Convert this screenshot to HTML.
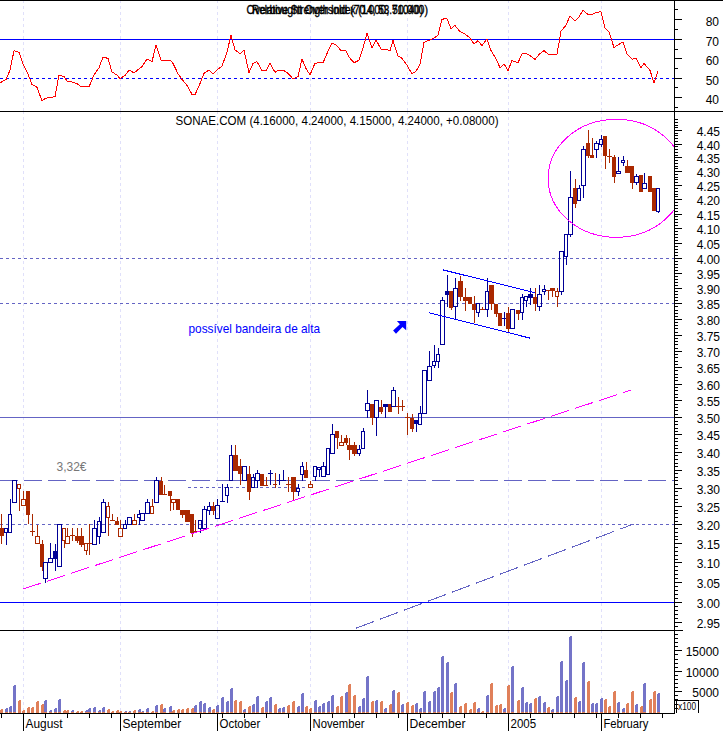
<!DOCTYPE html>
<html><head><meta charset="utf-8"><style>html,body{margin:0;padding:0;background:#fff;}svg{display:block;}</style></head><body>
<svg width="723" height="731" viewBox="0 0 723 731" shape-rendering="crispEdges">
<rect x="0" y="0" width="723" height="731" fill="#fff"/>
<rect x="23" y="1" width="1" height="2" fill="#e0e0fa"/>
<rect x="23" y="6" width="1" height="3" fill="#e0e0fa"/>
<rect x="23" y="12" width="1" height="3" fill="#e0e0fa"/>
<rect x="23" y="18" width="1" height="3" fill="#e0e0fa"/>
<rect x="23" y="24" width="1" height="3" fill="#e0e0fa"/>
<rect x="23" y="30" width="1" height="3" fill="#e0e0fa"/>
<rect x="23" y="36" width="1" height="3" fill="#e0e0fa"/>
<rect x="23" y="42" width="1" height="3" fill="#e0e0fa"/>
<rect x="23" y="48" width="1" height="3" fill="#e0e0fa"/>
<rect x="23" y="54" width="1" height="3" fill="#e0e0fa"/>
<rect x="23" y="60" width="1" height="3" fill="#e0e0fa"/>
<rect x="23" y="66" width="1" height="3" fill="#e0e0fa"/>
<rect x="23" y="72" width="1" height="3" fill="#e0e0fa"/>
<rect x="23" y="78" width="1" height="3" fill="#e0e0fa"/>
<rect x="23" y="84" width="1" height="3" fill="#e0e0fa"/>
<rect x="23" y="90" width="1" height="3" fill="#e0e0fa"/>
<rect x="23" y="96" width="1" height="3" fill="#e0e0fa"/>
<rect x="23" y="102" width="1" height="3" fill="#e0e0fa"/>
<rect x="23" y="108" width="1" height="3" fill="#e0e0fa"/>
<rect x="23" y="112" width="1" height="2" fill="#e0e0fa"/>
<rect x="23" y="117" width="1" height="3" fill="#e0e0fa"/>
<rect x="23" y="123" width="1" height="3" fill="#e0e0fa"/>
<rect x="23" y="129" width="1" height="3" fill="#e0e0fa"/>
<rect x="23" y="135" width="1" height="3" fill="#e0e0fa"/>
<rect x="23" y="141" width="1" height="3" fill="#e0e0fa"/>
<rect x="23" y="147" width="1" height="3" fill="#e0e0fa"/>
<rect x="23" y="153" width="1" height="3" fill="#e0e0fa"/>
<rect x="23" y="159" width="1" height="3" fill="#e0e0fa"/>
<rect x="23" y="165" width="1" height="3" fill="#e0e0fa"/>
<rect x="23" y="171" width="1" height="3" fill="#e0e0fa"/>
<rect x="23" y="177" width="1" height="3" fill="#e0e0fa"/>
<rect x="23" y="183" width="1" height="3" fill="#e0e0fa"/>
<rect x="23" y="189" width="1" height="3" fill="#e0e0fa"/>
<rect x="23" y="195" width="1" height="3" fill="#e0e0fa"/>
<rect x="23" y="201" width="1" height="3" fill="#e0e0fa"/>
<rect x="23" y="207" width="1" height="3" fill="#e0e0fa"/>
<rect x="23" y="213" width="1" height="3" fill="#e0e0fa"/>
<rect x="23" y="219" width="1" height="3" fill="#e0e0fa"/>
<rect x="23" y="225" width="1" height="3" fill="#e0e0fa"/>
<rect x="23" y="231" width="1" height="3" fill="#e0e0fa"/>
<rect x="23" y="237" width="1" height="3" fill="#e0e0fa"/>
<rect x="23" y="243" width="1" height="3" fill="#e0e0fa"/>
<rect x="23" y="249" width="1" height="3" fill="#e0e0fa"/>
<rect x="23" y="255" width="1" height="3" fill="#e0e0fa"/>
<rect x="23" y="261" width="1" height="3" fill="#e0e0fa"/>
<rect x="23" y="267" width="1" height="3" fill="#e0e0fa"/>
<rect x="23" y="273" width="1" height="3" fill="#e0e0fa"/>
<rect x="23" y="279" width="1" height="3" fill="#e0e0fa"/>
<rect x="23" y="285" width="1" height="3" fill="#e0e0fa"/>
<rect x="23" y="291" width="1" height="3" fill="#e0e0fa"/>
<rect x="23" y="297" width="1" height="3" fill="#e0e0fa"/>
<rect x="23" y="303" width="1" height="3" fill="#e0e0fa"/>
<rect x="23" y="309" width="1" height="3" fill="#e0e0fa"/>
<rect x="23" y="315" width="1" height="3" fill="#e0e0fa"/>
<rect x="23" y="321" width="1" height="3" fill="#e0e0fa"/>
<rect x="23" y="327" width="1" height="3" fill="#e0e0fa"/>
<rect x="23" y="333" width="1" height="3" fill="#e0e0fa"/>
<rect x="23" y="339" width="1" height="3" fill="#e0e0fa"/>
<rect x="23" y="345" width="1" height="3" fill="#e0e0fa"/>
<rect x="23" y="351" width="1" height="3" fill="#e0e0fa"/>
<rect x="23" y="357" width="1" height="3" fill="#e0e0fa"/>
<rect x="23" y="363" width="1" height="3" fill="#e0e0fa"/>
<rect x="23" y="369" width="1" height="3" fill="#e0e0fa"/>
<rect x="23" y="375" width="1" height="3" fill="#e0e0fa"/>
<rect x="23" y="381" width="1" height="3" fill="#e0e0fa"/>
<rect x="23" y="387" width="1" height="3" fill="#e0e0fa"/>
<rect x="23" y="393" width="1" height="3" fill="#e0e0fa"/>
<rect x="23" y="399" width="1" height="3" fill="#e0e0fa"/>
<rect x="23" y="405" width="1" height="3" fill="#e0e0fa"/>
<rect x="23" y="411" width="1" height="3" fill="#e0e0fa"/>
<rect x="23" y="417" width="1" height="3" fill="#e0e0fa"/>
<rect x="23" y="423" width="1" height="3" fill="#e0e0fa"/>
<rect x="23" y="429" width="1" height="3" fill="#e0e0fa"/>
<rect x="23" y="435" width="1" height="3" fill="#e0e0fa"/>
<rect x="23" y="441" width="1" height="3" fill="#e0e0fa"/>
<rect x="23" y="447" width="1" height="3" fill="#e0e0fa"/>
<rect x="23" y="453" width="1" height="3" fill="#e0e0fa"/>
<rect x="23" y="459" width="1" height="3" fill="#e0e0fa"/>
<rect x="23" y="465" width="1" height="3" fill="#e0e0fa"/>
<rect x="23" y="471" width="1" height="3" fill="#e0e0fa"/>
<rect x="23" y="477" width="1" height="3" fill="#e0e0fa"/>
<rect x="23" y="483" width="1" height="3" fill="#e0e0fa"/>
<rect x="23" y="489" width="1" height="3" fill="#e0e0fa"/>
<rect x="23" y="495" width="1" height="3" fill="#e0e0fa"/>
<rect x="23" y="501" width="1" height="3" fill="#e0e0fa"/>
<rect x="23" y="507" width="1" height="3" fill="#e0e0fa"/>
<rect x="23" y="513" width="1" height="3" fill="#e0e0fa"/>
<rect x="23" y="519" width="1" height="3" fill="#e0e0fa"/>
<rect x="23" y="525" width="1" height="3" fill="#e0e0fa"/>
<rect x="23" y="531" width="1" height="3" fill="#e0e0fa"/>
<rect x="23" y="537" width="1" height="3" fill="#e0e0fa"/>
<rect x="23" y="543" width="1" height="3" fill="#e0e0fa"/>
<rect x="23" y="549" width="1" height="3" fill="#e0e0fa"/>
<rect x="23" y="555" width="1" height="3" fill="#e0e0fa"/>
<rect x="23" y="561" width="1" height="3" fill="#e0e0fa"/>
<rect x="23" y="567" width="1" height="3" fill="#e0e0fa"/>
<rect x="23" y="573" width="1" height="3" fill="#e0e0fa"/>
<rect x="23" y="579" width="1" height="3" fill="#e0e0fa"/>
<rect x="23" y="585" width="1" height="3" fill="#e0e0fa"/>
<rect x="23" y="591" width="1" height="3" fill="#e0e0fa"/>
<rect x="23" y="597" width="1" height="3" fill="#e0e0fa"/>
<rect x="23" y="603" width="1" height="3" fill="#e0e0fa"/>
<rect x="23" y="609" width="1" height="3" fill="#e0e0fa"/>
<rect x="23" y="615" width="1" height="3" fill="#e0e0fa"/>
<rect x="23" y="621" width="1" height="3" fill="#e0e0fa"/>
<rect x="23" y="627" width="1" height="3" fill="#e0e0fa"/>
<rect x="23" y="631" width="1" height="2" fill="#e0e0fa"/>
<rect x="23" y="636" width="1" height="3" fill="#e0e0fa"/>
<rect x="23" y="642" width="1" height="3" fill="#e0e0fa"/>
<rect x="23" y="648" width="1" height="3" fill="#e0e0fa"/>
<rect x="23" y="654" width="1" height="3" fill="#e0e0fa"/>
<rect x="23" y="660" width="1" height="3" fill="#e0e0fa"/>
<rect x="23" y="666" width="1" height="3" fill="#e0e0fa"/>
<rect x="23" y="672" width="1" height="3" fill="#e0e0fa"/>
<rect x="23" y="678" width="1" height="3" fill="#e0e0fa"/>
<rect x="23" y="684" width="1" height="3" fill="#e0e0fa"/>
<rect x="23" y="690" width="1" height="3" fill="#e0e0fa"/>
<rect x="23" y="696" width="1" height="3" fill="#e0e0fa"/>
<rect x="23" y="702" width="1" height="3" fill="#e0e0fa"/>
<rect x="23" y="708" width="1" height="3" fill="#e0e0fa"/>
<rect x="120" y="1" width="1" height="2" fill="#e0e0fa"/>
<rect x="120" y="6" width="1" height="3" fill="#e0e0fa"/>
<rect x="120" y="12" width="1" height="3" fill="#e0e0fa"/>
<rect x="120" y="18" width="1" height="3" fill="#e0e0fa"/>
<rect x="120" y="24" width="1" height="3" fill="#e0e0fa"/>
<rect x="120" y="30" width="1" height="3" fill="#e0e0fa"/>
<rect x="120" y="36" width="1" height="3" fill="#e0e0fa"/>
<rect x="120" y="42" width="1" height="3" fill="#e0e0fa"/>
<rect x="120" y="48" width="1" height="3" fill="#e0e0fa"/>
<rect x="120" y="54" width="1" height="3" fill="#e0e0fa"/>
<rect x="120" y="60" width="1" height="3" fill="#e0e0fa"/>
<rect x="120" y="66" width="1" height="3" fill="#e0e0fa"/>
<rect x="120" y="72" width="1" height="3" fill="#e0e0fa"/>
<rect x="120" y="78" width="1" height="3" fill="#e0e0fa"/>
<rect x="120" y="84" width="1" height="3" fill="#e0e0fa"/>
<rect x="120" y="90" width="1" height="3" fill="#e0e0fa"/>
<rect x="120" y="96" width="1" height="3" fill="#e0e0fa"/>
<rect x="120" y="102" width="1" height="3" fill="#e0e0fa"/>
<rect x="120" y="108" width="1" height="3" fill="#e0e0fa"/>
<rect x="120" y="112" width="1" height="2" fill="#e0e0fa"/>
<rect x="120" y="117" width="1" height="3" fill="#e0e0fa"/>
<rect x="120" y="123" width="1" height="3" fill="#e0e0fa"/>
<rect x="120" y="129" width="1" height="3" fill="#e0e0fa"/>
<rect x="120" y="135" width="1" height="3" fill="#e0e0fa"/>
<rect x="120" y="141" width="1" height="3" fill="#e0e0fa"/>
<rect x="120" y="147" width="1" height="3" fill="#e0e0fa"/>
<rect x="120" y="153" width="1" height="3" fill="#e0e0fa"/>
<rect x="120" y="159" width="1" height="3" fill="#e0e0fa"/>
<rect x="120" y="165" width="1" height="3" fill="#e0e0fa"/>
<rect x="120" y="171" width="1" height="3" fill="#e0e0fa"/>
<rect x="120" y="177" width="1" height="3" fill="#e0e0fa"/>
<rect x="120" y="183" width="1" height="3" fill="#e0e0fa"/>
<rect x="120" y="189" width="1" height="3" fill="#e0e0fa"/>
<rect x="120" y="195" width="1" height="3" fill="#e0e0fa"/>
<rect x="120" y="201" width="1" height="3" fill="#e0e0fa"/>
<rect x="120" y="207" width="1" height="3" fill="#e0e0fa"/>
<rect x="120" y="213" width="1" height="3" fill="#e0e0fa"/>
<rect x="120" y="219" width="1" height="3" fill="#e0e0fa"/>
<rect x="120" y="225" width="1" height="3" fill="#e0e0fa"/>
<rect x="120" y="231" width="1" height="3" fill="#e0e0fa"/>
<rect x="120" y="237" width="1" height="3" fill="#e0e0fa"/>
<rect x="120" y="243" width="1" height="3" fill="#e0e0fa"/>
<rect x="120" y="249" width="1" height="3" fill="#e0e0fa"/>
<rect x="120" y="255" width="1" height="3" fill="#e0e0fa"/>
<rect x="120" y="261" width="1" height="3" fill="#e0e0fa"/>
<rect x="120" y="267" width="1" height="3" fill="#e0e0fa"/>
<rect x="120" y="273" width="1" height="3" fill="#e0e0fa"/>
<rect x="120" y="279" width="1" height="3" fill="#e0e0fa"/>
<rect x="120" y="285" width="1" height="3" fill="#e0e0fa"/>
<rect x="120" y="291" width="1" height="3" fill="#e0e0fa"/>
<rect x="120" y="297" width="1" height="3" fill="#e0e0fa"/>
<rect x="120" y="303" width="1" height="3" fill="#e0e0fa"/>
<rect x="120" y="309" width="1" height="3" fill="#e0e0fa"/>
<rect x="120" y="315" width="1" height="3" fill="#e0e0fa"/>
<rect x="120" y="321" width="1" height="3" fill="#e0e0fa"/>
<rect x="120" y="327" width="1" height="3" fill="#e0e0fa"/>
<rect x="120" y="333" width="1" height="3" fill="#e0e0fa"/>
<rect x="120" y="339" width="1" height="3" fill="#e0e0fa"/>
<rect x="120" y="345" width="1" height="3" fill="#e0e0fa"/>
<rect x="120" y="351" width="1" height="3" fill="#e0e0fa"/>
<rect x="120" y="357" width="1" height="3" fill="#e0e0fa"/>
<rect x="120" y="363" width="1" height="3" fill="#e0e0fa"/>
<rect x="120" y="369" width="1" height="3" fill="#e0e0fa"/>
<rect x="120" y="375" width="1" height="3" fill="#e0e0fa"/>
<rect x="120" y="381" width="1" height="3" fill="#e0e0fa"/>
<rect x="120" y="387" width="1" height="3" fill="#e0e0fa"/>
<rect x="120" y="393" width="1" height="3" fill="#e0e0fa"/>
<rect x="120" y="399" width="1" height="3" fill="#e0e0fa"/>
<rect x="120" y="405" width="1" height="3" fill="#e0e0fa"/>
<rect x="120" y="411" width="1" height="3" fill="#e0e0fa"/>
<rect x="120" y="417" width="1" height="3" fill="#e0e0fa"/>
<rect x="120" y="423" width="1" height="3" fill="#e0e0fa"/>
<rect x="120" y="429" width="1" height="3" fill="#e0e0fa"/>
<rect x="120" y="435" width="1" height="3" fill="#e0e0fa"/>
<rect x="120" y="441" width="1" height="3" fill="#e0e0fa"/>
<rect x="120" y="447" width="1" height="3" fill="#e0e0fa"/>
<rect x="120" y="453" width="1" height="3" fill="#e0e0fa"/>
<rect x="120" y="459" width="1" height="3" fill="#e0e0fa"/>
<rect x="120" y="465" width="1" height="3" fill="#e0e0fa"/>
<rect x="120" y="471" width="1" height="3" fill="#e0e0fa"/>
<rect x="120" y="477" width="1" height="3" fill="#e0e0fa"/>
<rect x="120" y="483" width="1" height="3" fill="#e0e0fa"/>
<rect x="120" y="489" width="1" height="3" fill="#e0e0fa"/>
<rect x="120" y="495" width="1" height="3" fill="#e0e0fa"/>
<rect x="120" y="501" width="1" height="3" fill="#e0e0fa"/>
<rect x="120" y="507" width="1" height="3" fill="#e0e0fa"/>
<rect x="120" y="513" width="1" height="3" fill="#e0e0fa"/>
<rect x="120" y="519" width="1" height="3" fill="#e0e0fa"/>
<rect x="120" y="525" width="1" height="3" fill="#e0e0fa"/>
<rect x="120" y="531" width="1" height="3" fill="#e0e0fa"/>
<rect x="120" y="537" width="1" height="3" fill="#e0e0fa"/>
<rect x="120" y="543" width="1" height="3" fill="#e0e0fa"/>
<rect x="120" y="549" width="1" height="3" fill="#e0e0fa"/>
<rect x="120" y="555" width="1" height="3" fill="#e0e0fa"/>
<rect x="120" y="561" width="1" height="3" fill="#e0e0fa"/>
<rect x="120" y="567" width="1" height="3" fill="#e0e0fa"/>
<rect x="120" y="573" width="1" height="3" fill="#e0e0fa"/>
<rect x="120" y="579" width="1" height="3" fill="#e0e0fa"/>
<rect x="120" y="585" width="1" height="3" fill="#e0e0fa"/>
<rect x="120" y="591" width="1" height="3" fill="#e0e0fa"/>
<rect x="120" y="597" width="1" height="3" fill="#e0e0fa"/>
<rect x="120" y="603" width="1" height="3" fill="#e0e0fa"/>
<rect x="120" y="609" width="1" height="3" fill="#e0e0fa"/>
<rect x="120" y="615" width="1" height="3" fill="#e0e0fa"/>
<rect x="120" y="621" width="1" height="3" fill="#e0e0fa"/>
<rect x="120" y="627" width="1" height="3" fill="#e0e0fa"/>
<rect x="120" y="631" width="1" height="2" fill="#e0e0fa"/>
<rect x="120" y="636" width="1" height="3" fill="#e0e0fa"/>
<rect x="120" y="642" width="1" height="3" fill="#e0e0fa"/>
<rect x="120" y="648" width="1" height="3" fill="#e0e0fa"/>
<rect x="120" y="654" width="1" height="3" fill="#e0e0fa"/>
<rect x="120" y="660" width="1" height="3" fill="#e0e0fa"/>
<rect x="120" y="666" width="1" height="3" fill="#e0e0fa"/>
<rect x="120" y="672" width="1" height="3" fill="#e0e0fa"/>
<rect x="120" y="678" width="1" height="3" fill="#e0e0fa"/>
<rect x="120" y="684" width="1" height="3" fill="#e0e0fa"/>
<rect x="120" y="690" width="1" height="3" fill="#e0e0fa"/>
<rect x="120" y="696" width="1" height="3" fill="#e0e0fa"/>
<rect x="120" y="702" width="1" height="3" fill="#e0e0fa"/>
<rect x="120" y="708" width="1" height="3" fill="#e0e0fa"/>
<rect x="217" y="1" width="1" height="2" fill="#e0e0fa"/>
<rect x="217" y="6" width="1" height="3" fill="#e0e0fa"/>
<rect x="217" y="12" width="1" height="3" fill="#e0e0fa"/>
<rect x="217" y="18" width="1" height="3" fill="#e0e0fa"/>
<rect x="217" y="24" width="1" height="3" fill="#e0e0fa"/>
<rect x="217" y="30" width="1" height="3" fill="#e0e0fa"/>
<rect x="217" y="36" width="1" height="3" fill="#e0e0fa"/>
<rect x="217" y="42" width="1" height="3" fill="#e0e0fa"/>
<rect x="217" y="48" width="1" height="3" fill="#e0e0fa"/>
<rect x="217" y="54" width="1" height="3" fill="#e0e0fa"/>
<rect x="217" y="60" width="1" height="3" fill="#e0e0fa"/>
<rect x="217" y="66" width="1" height="3" fill="#e0e0fa"/>
<rect x="217" y="72" width="1" height="3" fill="#e0e0fa"/>
<rect x="217" y="78" width="1" height="3" fill="#e0e0fa"/>
<rect x="217" y="84" width="1" height="3" fill="#e0e0fa"/>
<rect x="217" y="90" width="1" height="3" fill="#e0e0fa"/>
<rect x="217" y="96" width="1" height="3" fill="#e0e0fa"/>
<rect x="217" y="102" width="1" height="3" fill="#e0e0fa"/>
<rect x="217" y="108" width="1" height="3" fill="#e0e0fa"/>
<rect x="217" y="112" width="1" height="2" fill="#e0e0fa"/>
<rect x="217" y="117" width="1" height="3" fill="#e0e0fa"/>
<rect x="217" y="123" width="1" height="3" fill="#e0e0fa"/>
<rect x="217" y="129" width="1" height="3" fill="#e0e0fa"/>
<rect x="217" y="135" width="1" height="3" fill="#e0e0fa"/>
<rect x="217" y="141" width="1" height="3" fill="#e0e0fa"/>
<rect x="217" y="147" width="1" height="3" fill="#e0e0fa"/>
<rect x="217" y="153" width="1" height="3" fill="#e0e0fa"/>
<rect x="217" y="159" width="1" height="3" fill="#e0e0fa"/>
<rect x="217" y="165" width="1" height="3" fill="#e0e0fa"/>
<rect x="217" y="171" width="1" height="3" fill="#e0e0fa"/>
<rect x="217" y="177" width="1" height="3" fill="#e0e0fa"/>
<rect x="217" y="183" width="1" height="3" fill="#e0e0fa"/>
<rect x="217" y="189" width="1" height="3" fill="#e0e0fa"/>
<rect x="217" y="195" width="1" height="3" fill="#e0e0fa"/>
<rect x="217" y="201" width="1" height="3" fill="#e0e0fa"/>
<rect x="217" y="207" width="1" height="3" fill="#e0e0fa"/>
<rect x="217" y="213" width="1" height="3" fill="#e0e0fa"/>
<rect x="217" y="219" width="1" height="3" fill="#e0e0fa"/>
<rect x="217" y="225" width="1" height="3" fill="#e0e0fa"/>
<rect x="217" y="231" width="1" height="3" fill="#e0e0fa"/>
<rect x="217" y="237" width="1" height="3" fill="#e0e0fa"/>
<rect x="217" y="243" width="1" height="3" fill="#e0e0fa"/>
<rect x="217" y="249" width="1" height="3" fill="#e0e0fa"/>
<rect x="217" y="255" width="1" height="3" fill="#e0e0fa"/>
<rect x="217" y="261" width="1" height="3" fill="#e0e0fa"/>
<rect x="217" y="267" width="1" height="3" fill="#e0e0fa"/>
<rect x="217" y="273" width="1" height="3" fill="#e0e0fa"/>
<rect x="217" y="279" width="1" height="3" fill="#e0e0fa"/>
<rect x="217" y="285" width="1" height="3" fill="#e0e0fa"/>
<rect x="217" y="291" width="1" height="3" fill="#e0e0fa"/>
<rect x="217" y="297" width="1" height="3" fill="#e0e0fa"/>
<rect x="217" y="303" width="1" height="3" fill="#e0e0fa"/>
<rect x="217" y="309" width="1" height="3" fill="#e0e0fa"/>
<rect x="217" y="315" width="1" height="3" fill="#e0e0fa"/>
<rect x="217" y="321" width="1" height="3" fill="#e0e0fa"/>
<rect x="217" y="327" width="1" height="3" fill="#e0e0fa"/>
<rect x="217" y="333" width="1" height="3" fill="#e0e0fa"/>
<rect x="217" y="339" width="1" height="3" fill="#e0e0fa"/>
<rect x="217" y="345" width="1" height="3" fill="#e0e0fa"/>
<rect x="217" y="351" width="1" height="3" fill="#e0e0fa"/>
<rect x="217" y="357" width="1" height="3" fill="#e0e0fa"/>
<rect x="217" y="363" width="1" height="3" fill="#e0e0fa"/>
<rect x="217" y="369" width="1" height="3" fill="#e0e0fa"/>
<rect x="217" y="375" width="1" height="3" fill="#e0e0fa"/>
<rect x="217" y="381" width="1" height="3" fill="#e0e0fa"/>
<rect x="217" y="387" width="1" height="3" fill="#e0e0fa"/>
<rect x="217" y="393" width="1" height="3" fill="#e0e0fa"/>
<rect x="217" y="399" width="1" height="3" fill="#e0e0fa"/>
<rect x="217" y="405" width="1" height="3" fill="#e0e0fa"/>
<rect x="217" y="411" width="1" height="3" fill="#e0e0fa"/>
<rect x="217" y="417" width="1" height="3" fill="#e0e0fa"/>
<rect x="217" y="423" width="1" height="3" fill="#e0e0fa"/>
<rect x="217" y="429" width="1" height="3" fill="#e0e0fa"/>
<rect x="217" y="435" width="1" height="3" fill="#e0e0fa"/>
<rect x="217" y="441" width="1" height="3" fill="#e0e0fa"/>
<rect x="217" y="447" width="1" height="3" fill="#e0e0fa"/>
<rect x="217" y="453" width="1" height="3" fill="#e0e0fa"/>
<rect x="217" y="459" width="1" height="3" fill="#e0e0fa"/>
<rect x="217" y="465" width="1" height="3" fill="#e0e0fa"/>
<rect x="217" y="471" width="1" height="3" fill="#e0e0fa"/>
<rect x="217" y="477" width="1" height="3" fill="#e0e0fa"/>
<rect x="217" y="483" width="1" height="3" fill="#e0e0fa"/>
<rect x="217" y="489" width="1" height="3" fill="#e0e0fa"/>
<rect x="217" y="495" width="1" height="3" fill="#e0e0fa"/>
<rect x="217" y="501" width="1" height="3" fill="#e0e0fa"/>
<rect x="217" y="507" width="1" height="3" fill="#e0e0fa"/>
<rect x="217" y="513" width="1" height="3" fill="#e0e0fa"/>
<rect x="217" y="519" width="1" height="3" fill="#e0e0fa"/>
<rect x="217" y="525" width="1" height="3" fill="#e0e0fa"/>
<rect x="217" y="531" width="1" height="3" fill="#e0e0fa"/>
<rect x="217" y="537" width="1" height="3" fill="#e0e0fa"/>
<rect x="217" y="543" width="1" height="3" fill="#e0e0fa"/>
<rect x="217" y="549" width="1" height="3" fill="#e0e0fa"/>
<rect x="217" y="555" width="1" height="3" fill="#e0e0fa"/>
<rect x="217" y="561" width="1" height="3" fill="#e0e0fa"/>
<rect x="217" y="567" width="1" height="3" fill="#e0e0fa"/>
<rect x="217" y="573" width="1" height="3" fill="#e0e0fa"/>
<rect x="217" y="579" width="1" height="3" fill="#e0e0fa"/>
<rect x="217" y="585" width="1" height="3" fill="#e0e0fa"/>
<rect x="217" y="591" width="1" height="3" fill="#e0e0fa"/>
<rect x="217" y="597" width="1" height="3" fill="#e0e0fa"/>
<rect x="217" y="603" width="1" height="3" fill="#e0e0fa"/>
<rect x="217" y="609" width="1" height="3" fill="#e0e0fa"/>
<rect x="217" y="615" width="1" height="3" fill="#e0e0fa"/>
<rect x="217" y="621" width="1" height="3" fill="#e0e0fa"/>
<rect x="217" y="627" width="1" height="3" fill="#e0e0fa"/>
<rect x="217" y="631" width="1" height="2" fill="#e0e0fa"/>
<rect x="217" y="636" width="1" height="3" fill="#e0e0fa"/>
<rect x="217" y="642" width="1" height="3" fill="#e0e0fa"/>
<rect x="217" y="648" width="1" height="3" fill="#e0e0fa"/>
<rect x="217" y="654" width="1" height="3" fill="#e0e0fa"/>
<rect x="217" y="660" width="1" height="3" fill="#e0e0fa"/>
<rect x="217" y="666" width="1" height="3" fill="#e0e0fa"/>
<rect x="217" y="672" width="1" height="3" fill="#e0e0fa"/>
<rect x="217" y="678" width="1" height="3" fill="#e0e0fa"/>
<rect x="217" y="684" width="1" height="3" fill="#e0e0fa"/>
<rect x="217" y="690" width="1" height="3" fill="#e0e0fa"/>
<rect x="217" y="696" width="1" height="3" fill="#e0e0fa"/>
<rect x="217" y="702" width="1" height="3" fill="#e0e0fa"/>
<rect x="217" y="708" width="1" height="3" fill="#e0e0fa"/>
<rect x="310" y="1" width="1" height="2" fill="#e0e0fa"/>
<rect x="310" y="6" width="1" height="3" fill="#e0e0fa"/>
<rect x="310" y="12" width="1" height="3" fill="#e0e0fa"/>
<rect x="310" y="18" width="1" height="3" fill="#e0e0fa"/>
<rect x="310" y="24" width="1" height="3" fill="#e0e0fa"/>
<rect x="310" y="30" width="1" height="3" fill="#e0e0fa"/>
<rect x="310" y="36" width="1" height="3" fill="#e0e0fa"/>
<rect x="310" y="42" width="1" height="3" fill="#e0e0fa"/>
<rect x="310" y="48" width="1" height="3" fill="#e0e0fa"/>
<rect x="310" y="54" width="1" height="3" fill="#e0e0fa"/>
<rect x="310" y="60" width="1" height="3" fill="#e0e0fa"/>
<rect x="310" y="66" width="1" height="3" fill="#e0e0fa"/>
<rect x="310" y="72" width="1" height="3" fill="#e0e0fa"/>
<rect x="310" y="78" width="1" height="3" fill="#e0e0fa"/>
<rect x="310" y="84" width="1" height="3" fill="#e0e0fa"/>
<rect x="310" y="90" width="1" height="3" fill="#e0e0fa"/>
<rect x="310" y="96" width="1" height="3" fill="#e0e0fa"/>
<rect x="310" y="102" width="1" height="3" fill="#e0e0fa"/>
<rect x="310" y="108" width="1" height="3" fill="#e0e0fa"/>
<rect x="310" y="112" width="1" height="2" fill="#e0e0fa"/>
<rect x="310" y="117" width="1" height="3" fill="#e0e0fa"/>
<rect x="310" y="123" width="1" height="3" fill="#e0e0fa"/>
<rect x="310" y="129" width="1" height="3" fill="#e0e0fa"/>
<rect x="310" y="135" width="1" height="3" fill="#e0e0fa"/>
<rect x="310" y="141" width="1" height="3" fill="#e0e0fa"/>
<rect x="310" y="147" width="1" height="3" fill="#e0e0fa"/>
<rect x="310" y="153" width="1" height="3" fill="#e0e0fa"/>
<rect x="310" y="159" width="1" height="3" fill="#e0e0fa"/>
<rect x="310" y="165" width="1" height="3" fill="#e0e0fa"/>
<rect x="310" y="171" width="1" height="3" fill="#e0e0fa"/>
<rect x="310" y="177" width="1" height="3" fill="#e0e0fa"/>
<rect x="310" y="183" width="1" height="3" fill="#e0e0fa"/>
<rect x="310" y="189" width="1" height="3" fill="#e0e0fa"/>
<rect x="310" y="195" width="1" height="3" fill="#e0e0fa"/>
<rect x="310" y="201" width="1" height="3" fill="#e0e0fa"/>
<rect x="310" y="207" width="1" height="3" fill="#e0e0fa"/>
<rect x="310" y="213" width="1" height="3" fill="#e0e0fa"/>
<rect x="310" y="219" width="1" height="3" fill="#e0e0fa"/>
<rect x="310" y="225" width="1" height="3" fill="#e0e0fa"/>
<rect x="310" y="231" width="1" height="3" fill="#e0e0fa"/>
<rect x="310" y="237" width="1" height="3" fill="#e0e0fa"/>
<rect x="310" y="243" width="1" height="3" fill="#e0e0fa"/>
<rect x="310" y="249" width="1" height="3" fill="#e0e0fa"/>
<rect x="310" y="255" width="1" height="3" fill="#e0e0fa"/>
<rect x="310" y="261" width="1" height="3" fill="#e0e0fa"/>
<rect x="310" y="267" width="1" height="3" fill="#e0e0fa"/>
<rect x="310" y="273" width="1" height="3" fill="#e0e0fa"/>
<rect x="310" y="279" width="1" height="3" fill="#e0e0fa"/>
<rect x="310" y="285" width="1" height="3" fill="#e0e0fa"/>
<rect x="310" y="291" width="1" height="3" fill="#e0e0fa"/>
<rect x="310" y="297" width="1" height="3" fill="#e0e0fa"/>
<rect x="310" y="303" width="1" height="3" fill="#e0e0fa"/>
<rect x="310" y="309" width="1" height="3" fill="#e0e0fa"/>
<rect x="310" y="315" width="1" height="3" fill="#e0e0fa"/>
<rect x="310" y="321" width="1" height="3" fill="#e0e0fa"/>
<rect x="310" y="327" width="1" height="3" fill="#e0e0fa"/>
<rect x="310" y="333" width="1" height="3" fill="#e0e0fa"/>
<rect x="310" y="339" width="1" height="3" fill="#e0e0fa"/>
<rect x="310" y="345" width="1" height="3" fill="#e0e0fa"/>
<rect x="310" y="351" width="1" height="3" fill="#e0e0fa"/>
<rect x="310" y="357" width="1" height="3" fill="#e0e0fa"/>
<rect x="310" y="363" width="1" height="3" fill="#e0e0fa"/>
<rect x="310" y="369" width="1" height="3" fill="#e0e0fa"/>
<rect x="310" y="375" width="1" height="3" fill="#e0e0fa"/>
<rect x="310" y="381" width="1" height="3" fill="#e0e0fa"/>
<rect x="310" y="387" width="1" height="3" fill="#e0e0fa"/>
<rect x="310" y="393" width="1" height="3" fill="#e0e0fa"/>
<rect x="310" y="399" width="1" height="3" fill="#e0e0fa"/>
<rect x="310" y="405" width="1" height="3" fill="#e0e0fa"/>
<rect x="310" y="411" width="1" height="3" fill="#e0e0fa"/>
<rect x="310" y="417" width="1" height="3" fill="#e0e0fa"/>
<rect x="310" y="423" width="1" height="3" fill="#e0e0fa"/>
<rect x="310" y="429" width="1" height="3" fill="#e0e0fa"/>
<rect x="310" y="435" width="1" height="3" fill="#e0e0fa"/>
<rect x="310" y="441" width="1" height="3" fill="#e0e0fa"/>
<rect x="310" y="447" width="1" height="3" fill="#e0e0fa"/>
<rect x="310" y="453" width="1" height="3" fill="#e0e0fa"/>
<rect x="310" y="459" width="1" height="3" fill="#e0e0fa"/>
<rect x="310" y="465" width="1" height="3" fill="#e0e0fa"/>
<rect x="310" y="471" width="1" height="3" fill="#e0e0fa"/>
<rect x="310" y="477" width="1" height="3" fill="#e0e0fa"/>
<rect x="310" y="483" width="1" height="3" fill="#e0e0fa"/>
<rect x="310" y="489" width="1" height="3" fill="#e0e0fa"/>
<rect x="310" y="495" width="1" height="3" fill="#e0e0fa"/>
<rect x="310" y="501" width="1" height="3" fill="#e0e0fa"/>
<rect x="310" y="507" width="1" height="3" fill="#e0e0fa"/>
<rect x="310" y="513" width="1" height="3" fill="#e0e0fa"/>
<rect x="310" y="519" width="1" height="3" fill="#e0e0fa"/>
<rect x="310" y="525" width="1" height="3" fill="#e0e0fa"/>
<rect x="310" y="531" width="1" height="3" fill="#e0e0fa"/>
<rect x="310" y="537" width="1" height="3" fill="#e0e0fa"/>
<rect x="310" y="543" width="1" height="3" fill="#e0e0fa"/>
<rect x="310" y="549" width="1" height="3" fill="#e0e0fa"/>
<rect x="310" y="555" width="1" height="3" fill="#e0e0fa"/>
<rect x="310" y="561" width="1" height="3" fill="#e0e0fa"/>
<rect x="310" y="567" width="1" height="3" fill="#e0e0fa"/>
<rect x="310" y="573" width="1" height="3" fill="#e0e0fa"/>
<rect x="310" y="579" width="1" height="3" fill="#e0e0fa"/>
<rect x="310" y="585" width="1" height="3" fill="#e0e0fa"/>
<rect x="310" y="591" width="1" height="3" fill="#e0e0fa"/>
<rect x="310" y="597" width="1" height="3" fill="#e0e0fa"/>
<rect x="310" y="603" width="1" height="3" fill="#e0e0fa"/>
<rect x="310" y="609" width="1" height="3" fill="#e0e0fa"/>
<rect x="310" y="615" width="1" height="3" fill="#e0e0fa"/>
<rect x="310" y="621" width="1" height="3" fill="#e0e0fa"/>
<rect x="310" y="627" width="1" height="3" fill="#e0e0fa"/>
<rect x="310" y="631" width="1" height="2" fill="#e0e0fa"/>
<rect x="310" y="636" width="1" height="3" fill="#e0e0fa"/>
<rect x="310" y="642" width="1" height="3" fill="#e0e0fa"/>
<rect x="310" y="648" width="1" height="3" fill="#e0e0fa"/>
<rect x="310" y="654" width="1" height="3" fill="#e0e0fa"/>
<rect x="310" y="660" width="1" height="3" fill="#e0e0fa"/>
<rect x="310" y="666" width="1" height="3" fill="#e0e0fa"/>
<rect x="310" y="672" width="1" height="3" fill="#e0e0fa"/>
<rect x="310" y="678" width="1" height="3" fill="#e0e0fa"/>
<rect x="310" y="684" width="1" height="3" fill="#e0e0fa"/>
<rect x="310" y="690" width="1" height="3" fill="#e0e0fa"/>
<rect x="310" y="696" width="1" height="3" fill="#e0e0fa"/>
<rect x="310" y="702" width="1" height="3" fill="#e0e0fa"/>
<rect x="310" y="708" width="1" height="3" fill="#e0e0fa"/>
<rect x="407" y="1" width="1" height="2" fill="#e0e0fa"/>
<rect x="407" y="6" width="1" height="3" fill="#e0e0fa"/>
<rect x="407" y="12" width="1" height="3" fill="#e0e0fa"/>
<rect x="407" y="18" width="1" height="3" fill="#e0e0fa"/>
<rect x="407" y="24" width="1" height="3" fill="#e0e0fa"/>
<rect x="407" y="30" width="1" height="3" fill="#e0e0fa"/>
<rect x="407" y="36" width="1" height="3" fill="#e0e0fa"/>
<rect x="407" y="42" width="1" height="3" fill="#e0e0fa"/>
<rect x="407" y="48" width="1" height="3" fill="#e0e0fa"/>
<rect x="407" y="54" width="1" height="3" fill="#e0e0fa"/>
<rect x="407" y="60" width="1" height="3" fill="#e0e0fa"/>
<rect x="407" y="66" width="1" height="3" fill="#e0e0fa"/>
<rect x="407" y="72" width="1" height="3" fill="#e0e0fa"/>
<rect x="407" y="78" width="1" height="3" fill="#e0e0fa"/>
<rect x="407" y="84" width="1" height="3" fill="#e0e0fa"/>
<rect x="407" y="90" width="1" height="3" fill="#e0e0fa"/>
<rect x="407" y="96" width="1" height="3" fill="#e0e0fa"/>
<rect x="407" y="102" width="1" height="3" fill="#e0e0fa"/>
<rect x="407" y="108" width="1" height="3" fill="#e0e0fa"/>
<rect x="407" y="112" width="1" height="2" fill="#e0e0fa"/>
<rect x="407" y="117" width="1" height="3" fill="#e0e0fa"/>
<rect x="407" y="123" width="1" height="3" fill="#e0e0fa"/>
<rect x="407" y="129" width="1" height="3" fill="#e0e0fa"/>
<rect x="407" y="135" width="1" height="3" fill="#e0e0fa"/>
<rect x="407" y="141" width="1" height="3" fill="#e0e0fa"/>
<rect x="407" y="147" width="1" height="3" fill="#e0e0fa"/>
<rect x="407" y="153" width="1" height="3" fill="#e0e0fa"/>
<rect x="407" y="159" width="1" height="3" fill="#e0e0fa"/>
<rect x="407" y="165" width="1" height="3" fill="#e0e0fa"/>
<rect x="407" y="171" width="1" height="3" fill="#e0e0fa"/>
<rect x="407" y="177" width="1" height="3" fill="#e0e0fa"/>
<rect x="407" y="183" width="1" height="3" fill="#e0e0fa"/>
<rect x="407" y="189" width="1" height="3" fill="#e0e0fa"/>
<rect x="407" y="195" width="1" height="3" fill="#e0e0fa"/>
<rect x="407" y="201" width="1" height="3" fill="#e0e0fa"/>
<rect x="407" y="207" width="1" height="3" fill="#e0e0fa"/>
<rect x="407" y="213" width="1" height="3" fill="#e0e0fa"/>
<rect x="407" y="219" width="1" height="3" fill="#e0e0fa"/>
<rect x="407" y="225" width="1" height="3" fill="#e0e0fa"/>
<rect x="407" y="231" width="1" height="3" fill="#e0e0fa"/>
<rect x="407" y="237" width="1" height="3" fill="#e0e0fa"/>
<rect x="407" y="243" width="1" height="3" fill="#e0e0fa"/>
<rect x="407" y="249" width="1" height="3" fill="#e0e0fa"/>
<rect x="407" y="255" width="1" height="3" fill="#e0e0fa"/>
<rect x="407" y="261" width="1" height="3" fill="#e0e0fa"/>
<rect x="407" y="267" width="1" height="3" fill="#e0e0fa"/>
<rect x="407" y="273" width="1" height="3" fill="#e0e0fa"/>
<rect x="407" y="279" width="1" height="3" fill="#e0e0fa"/>
<rect x="407" y="285" width="1" height="3" fill="#e0e0fa"/>
<rect x="407" y="291" width="1" height="3" fill="#e0e0fa"/>
<rect x="407" y="297" width="1" height="3" fill="#e0e0fa"/>
<rect x="407" y="303" width="1" height="3" fill="#e0e0fa"/>
<rect x="407" y="309" width="1" height="3" fill="#e0e0fa"/>
<rect x="407" y="315" width="1" height="3" fill="#e0e0fa"/>
<rect x="407" y="321" width="1" height="3" fill="#e0e0fa"/>
<rect x="407" y="327" width="1" height="3" fill="#e0e0fa"/>
<rect x="407" y="333" width="1" height="3" fill="#e0e0fa"/>
<rect x="407" y="339" width="1" height="3" fill="#e0e0fa"/>
<rect x="407" y="345" width="1" height="3" fill="#e0e0fa"/>
<rect x="407" y="351" width="1" height="3" fill="#e0e0fa"/>
<rect x="407" y="357" width="1" height="3" fill="#e0e0fa"/>
<rect x="407" y="363" width="1" height="3" fill="#e0e0fa"/>
<rect x="407" y="369" width="1" height="3" fill="#e0e0fa"/>
<rect x="407" y="375" width="1" height="3" fill="#e0e0fa"/>
<rect x="407" y="381" width="1" height="3" fill="#e0e0fa"/>
<rect x="407" y="387" width="1" height="3" fill="#e0e0fa"/>
<rect x="407" y="393" width="1" height="3" fill="#e0e0fa"/>
<rect x="407" y="399" width="1" height="3" fill="#e0e0fa"/>
<rect x="407" y="405" width="1" height="3" fill="#e0e0fa"/>
<rect x="407" y="411" width="1" height="3" fill="#e0e0fa"/>
<rect x="407" y="417" width="1" height="3" fill="#e0e0fa"/>
<rect x="407" y="423" width="1" height="3" fill="#e0e0fa"/>
<rect x="407" y="429" width="1" height="3" fill="#e0e0fa"/>
<rect x="407" y="435" width="1" height="3" fill="#e0e0fa"/>
<rect x="407" y="441" width="1" height="3" fill="#e0e0fa"/>
<rect x="407" y="447" width="1" height="3" fill="#e0e0fa"/>
<rect x="407" y="453" width="1" height="3" fill="#e0e0fa"/>
<rect x="407" y="459" width="1" height="3" fill="#e0e0fa"/>
<rect x="407" y="465" width="1" height="3" fill="#e0e0fa"/>
<rect x="407" y="471" width="1" height="3" fill="#e0e0fa"/>
<rect x="407" y="477" width="1" height="3" fill="#e0e0fa"/>
<rect x="407" y="483" width="1" height="3" fill="#e0e0fa"/>
<rect x="407" y="489" width="1" height="3" fill="#e0e0fa"/>
<rect x="407" y="495" width="1" height="3" fill="#e0e0fa"/>
<rect x="407" y="501" width="1" height="3" fill="#e0e0fa"/>
<rect x="407" y="507" width="1" height="3" fill="#e0e0fa"/>
<rect x="407" y="513" width="1" height="3" fill="#e0e0fa"/>
<rect x="407" y="519" width="1" height="3" fill="#e0e0fa"/>
<rect x="407" y="525" width="1" height="3" fill="#e0e0fa"/>
<rect x="407" y="531" width="1" height="3" fill="#e0e0fa"/>
<rect x="407" y="537" width="1" height="3" fill="#e0e0fa"/>
<rect x="407" y="543" width="1" height="3" fill="#e0e0fa"/>
<rect x="407" y="549" width="1" height="3" fill="#e0e0fa"/>
<rect x="407" y="555" width="1" height="3" fill="#e0e0fa"/>
<rect x="407" y="561" width="1" height="3" fill="#e0e0fa"/>
<rect x="407" y="567" width="1" height="3" fill="#e0e0fa"/>
<rect x="407" y="573" width="1" height="3" fill="#e0e0fa"/>
<rect x="407" y="579" width="1" height="3" fill="#e0e0fa"/>
<rect x="407" y="585" width="1" height="3" fill="#e0e0fa"/>
<rect x="407" y="591" width="1" height="3" fill="#e0e0fa"/>
<rect x="407" y="597" width="1" height="3" fill="#e0e0fa"/>
<rect x="407" y="603" width="1" height="3" fill="#e0e0fa"/>
<rect x="407" y="609" width="1" height="3" fill="#e0e0fa"/>
<rect x="407" y="615" width="1" height="3" fill="#e0e0fa"/>
<rect x="407" y="621" width="1" height="3" fill="#e0e0fa"/>
<rect x="407" y="627" width="1" height="3" fill="#e0e0fa"/>
<rect x="407" y="631" width="1" height="2" fill="#e0e0fa"/>
<rect x="407" y="636" width="1" height="3" fill="#e0e0fa"/>
<rect x="407" y="642" width="1" height="3" fill="#e0e0fa"/>
<rect x="407" y="648" width="1" height="3" fill="#e0e0fa"/>
<rect x="407" y="654" width="1" height="3" fill="#e0e0fa"/>
<rect x="407" y="660" width="1" height="3" fill="#e0e0fa"/>
<rect x="407" y="666" width="1" height="3" fill="#e0e0fa"/>
<rect x="407" y="672" width="1" height="3" fill="#e0e0fa"/>
<rect x="407" y="678" width="1" height="3" fill="#e0e0fa"/>
<rect x="407" y="684" width="1" height="3" fill="#e0e0fa"/>
<rect x="407" y="690" width="1" height="3" fill="#e0e0fa"/>
<rect x="407" y="696" width="1" height="3" fill="#e0e0fa"/>
<rect x="407" y="702" width="1" height="3" fill="#e0e0fa"/>
<rect x="407" y="708" width="1" height="3" fill="#e0e0fa"/>
<rect x="508" y="1" width="1" height="2" fill="#e0e0fa"/>
<rect x="508" y="6" width="1" height="3" fill="#e0e0fa"/>
<rect x="508" y="12" width="1" height="3" fill="#e0e0fa"/>
<rect x="508" y="18" width="1" height="3" fill="#e0e0fa"/>
<rect x="508" y="24" width="1" height="3" fill="#e0e0fa"/>
<rect x="508" y="30" width="1" height="3" fill="#e0e0fa"/>
<rect x="508" y="36" width="1" height="3" fill="#e0e0fa"/>
<rect x="508" y="42" width="1" height="3" fill="#e0e0fa"/>
<rect x="508" y="48" width="1" height="3" fill="#e0e0fa"/>
<rect x="508" y="54" width="1" height="3" fill="#e0e0fa"/>
<rect x="508" y="60" width="1" height="3" fill="#e0e0fa"/>
<rect x="508" y="66" width="1" height="3" fill="#e0e0fa"/>
<rect x="508" y="72" width="1" height="3" fill="#e0e0fa"/>
<rect x="508" y="78" width="1" height="3" fill="#e0e0fa"/>
<rect x="508" y="84" width="1" height="3" fill="#e0e0fa"/>
<rect x="508" y="90" width="1" height="3" fill="#e0e0fa"/>
<rect x="508" y="96" width="1" height="3" fill="#e0e0fa"/>
<rect x="508" y="102" width="1" height="3" fill="#e0e0fa"/>
<rect x="508" y="108" width="1" height="3" fill="#e0e0fa"/>
<rect x="508" y="112" width="1" height="2" fill="#e0e0fa"/>
<rect x="508" y="117" width="1" height="3" fill="#e0e0fa"/>
<rect x="508" y="123" width="1" height="3" fill="#e0e0fa"/>
<rect x="508" y="129" width="1" height="3" fill="#e0e0fa"/>
<rect x="508" y="135" width="1" height="3" fill="#e0e0fa"/>
<rect x="508" y="141" width="1" height="3" fill="#e0e0fa"/>
<rect x="508" y="147" width="1" height="3" fill="#e0e0fa"/>
<rect x="508" y="153" width="1" height="3" fill="#e0e0fa"/>
<rect x="508" y="159" width="1" height="3" fill="#e0e0fa"/>
<rect x="508" y="165" width="1" height="3" fill="#e0e0fa"/>
<rect x="508" y="171" width="1" height="3" fill="#e0e0fa"/>
<rect x="508" y="177" width="1" height="3" fill="#e0e0fa"/>
<rect x="508" y="183" width="1" height="3" fill="#e0e0fa"/>
<rect x="508" y="189" width="1" height="3" fill="#e0e0fa"/>
<rect x="508" y="195" width="1" height="3" fill="#e0e0fa"/>
<rect x="508" y="201" width="1" height="3" fill="#e0e0fa"/>
<rect x="508" y="207" width="1" height="3" fill="#e0e0fa"/>
<rect x="508" y="213" width="1" height="3" fill="#e0e0fa"/>
<rect x="508" y="219" width="1" height="3" fill="#e0e0fa"/>
<rect x="508" y="225" width="1" height="3" fill="#e0e0fa"/>
<rect x="508" y="231" width="1" height="3" fill="#e0e0fa"/>
<rect x="508" y="237" width="1" height="3" fill="#e0e0fa"/>
<rect x="508" y="243" width="1" height="3" fill="#e0e0fa"/>
<rect x="508" y="249" width="1" height="3" fill="#e0e0fa"/>
<rect x="508" y="255" width="1" height="3" fill="#e0e0fa"/>
<rect x="508" y="261" width="1" height="3" fill="#e0e0fa"/>
<rect x="508" y="267" width="1" height="3" fill="#e0e0fa"/>
<rect x="508" y="273" width="1" height="3" fill="#e0e0fa"/>
<rect x="508" y="279" width="1" height="3" fill="#e0e0fa"/>
<rect x="508" y="285" width="1" height="3" fill="#e0e0fa"/>
<rect x="508" y="291" width="1" height="3" fill="#e0e0fa"/>
<rect x="508" y="297" width="1" height="3" fill="#e0e0fa"/>
<rect x="508" y="303" width="1" height="3" fill="#e0e0fa"/>
<rect x="508" y="309" width="1" height="3" fill="#e0e0fa"/>
<rect x="508" y="315" width="1" height="3" fill="#e0e0fa"/>
<rect x="508" y="321" width="1" height="3" fill="#e0e0fa"/>
<rect x="508" y="327" width="1" height="3" fill="#e0e0fa"/>
<rect x="508" y="333" width="1" height="3" fill="#e0e0fa"/>
<rect x="508" y="339" width="1" height="3" fill="#e0e0fa"/>
<rect x="508" y="345" width="1" height="3" fill="#e0e0fa"/>
<rect x="508" y="351" width="1" height="3" fill="#e0e0fa"/>
<rect x="508" y="357" width="1" height="3" fill="#e0e0fa"/>
<rect x="508" y="363" width="1" height="3" fill="#e0e0fa"/>
<rect x="508" y="369" width="1" height="3" fill="#e0e0fa"/>
<rect x="508" y="375" width="1" height="3" fill="#e0e0fa"/>
<rect x="508" y="381" width="1" height="3" fill="#e0e0fa"/>
<rect x="508" y="387" width="1" height="3" fill="#e0e0fa"/>
<rect x="508" y="393" width="1" height="3" fill="#e0e0fa"/>
<rect x="508" y="399" width="1" height="3" fill="#e0e0fa"/>
<rect x="508" y="405" width="1" height="3" fill="#e0e0fa"/>
<rect x="508" y="411" width="1" height="3" fill="#e0e0fa"/>
<rect x="508" y="417" width="1" height="3" fill="#e0e0fa"/>
<rect x="508" y="423" width="1" height="3" fill="#e0e0fa"/>
<rect x="508" y="429" width="1" height="3" fill="#e0e0fa"/>
<rect x="508" y="435" width="1" height="3" fill="#e0e0fa"/>
<rect x="508" y="441" width="1" height="3" fill="#e0e0fa"/>
<rect x="508" y="447" width="1" height="3" fill="#e0e0fa"/>
<rect x="508" y="453" width="1" height="3" fill="#e0e0fa"/>
<rect x="508" y="459" width="1" height="3" fill="#e0e0fa"/>
<rect x="508" y="465" width="1" height="3" fill="#e0e0fa"/>
<rect x="508" y="471" width="1" height="3" fill="#e0e0fa"/>
<rect x="508" y="477" width="1" height="3" fill="#e0e0fa"/>
<rect x="508" y="483" width="1" height="3" fill="#e0e0fa"/>
<rect x="508" y="489" width="1" height="3" fill="#e0e0fa"/>
<rect x="508" y="495" width="1" height="3" fill="#e0e0fa"/>
<rect x="508" y="501" width="1" height="3" fill="#e0e0fa"/>
<rect x="508" y="507" width="1" height="3" fill="#e0e0fa"/>
<rect x="508" y="513" width="1" height="3" fill="#e0e0fa"/>
<rect x="508" y="519" width="1" height="3" fill="#e0e0fa"/>
<rect x="508" y="525" width="1" height="3" fill="#e0e0fa"/>
<rect x="508" y="531" width="1" height="3" fill="#e0e0fa"/>
<rect x="508" y="537" width="1" height="3" fill="#e0e0fa"/>
<rect x="508" y="543" width="1" height="3" fill="#e0e0fa"/>
<rect x="508" y="549" width="1" height="3" fill="#e0e0fa"/>
<rect x="508" y="555" width="1" height="3" fill="#e0e0fa"/>
<rect x="508" y="561" width="1" height="3" fill="#e0e0fa"/>
<rect x="508" y="567" width="1" height="3" fill="#e0e0fa"/>
<rect x="508" y="573" width="1" height="3" fill="#e0e0fa"/>
<rect x="508" y="579" width="1" height="3" fill="#e0e0fa"/>
<rect x="508" y="585" width="1" height="3" fill="#e0e0fa"/>
<rect x="508" y="591" width="1" height="3" fill="#e0e0fa"/>
<rect x="508" y="597" width="1" height="3" fill="#e0e0fa"/>
<rect x="508" y="603" width="1" height="3" fill="#e0e0fa"/>
<rect x="508" y="609" width="1" height="3" fill="#e0e0fa"/>
<rect x="508" y="615" width="1" height="3" fill="#e0e0fa"/>
<rect x="508" y="621" width="1" height="3" fill="#e0e0fa"/>
<rect x="508" y="627" width="1" height="3" fill="#e0e0fa"/>
<rect x="508" y="631" width="1" height="2" fill="#e0e0fa"/>
<rect x="508" y="636" width="1" height="3" fill="#e0e0fa"/>
<rect x="508" y="642" width="1" height="3" fill="#e0e0fa"/>
<rect x="508" y="648" width="1" height="3" fill="#e0e0fa"/>
<rect x="508" y="654" width="1" height="3" fill="#e0e0fa"/>
<rect x="508" y="660" width="1" height="3" fill="#e0e0fa"/>
<rect x="508" y="666" width="1" height="3" fill="#e0e0fa"/>
<rect x="508" y="672" width="1" height="3" fill="#e0e0fa"/>
<rect x="508" y="678" width="1" height="3" fill="#e0e0fa"/>
<rect x="508" y="684" width="1" height="3" fill="#e0e0fa"/>
<rect x="508" y="690" width="1" height="3" fill="#e0e0fa"/>
<rect x="508" y="696" width="1" height="3" fill="#e0e0fa"/>
<rect x="508" y="702" width="1" height="3" fill="#e0e0fa"/>
<rect x="508" y="708" width="1" height="3" fill="#e0e0fa"/>
<rect x="601" y="1" width="1" height="2" fill="#e0e0fa"/>
<rect x="601" y="6" width="1" height="3" fill="#e0e0fa"/>
<rect x="601" y="12" width="1" height="3" fill="#e0e0fa"/>
<rect x="601" y="18" width="1" height="3" fill="#e0e0fa"/>
<rect x="601" y="24" width="1" height="3" fill="#e0e0fa"/>
<rect x="601" y="30" width="1" height="3" fill="#e0e0fa"/>
<rect x="601" y="36" width="1" height="3" fill="#e0e0fa"/>
<rect x="601" y="42" width="1" height="3" fill="#e0e0fa"/>
<rect x="601" y="48" width="1" height="3" fill="#e0e0fa"/>
<rect x="601" y="54" width="1" height="3" fill="#e0e0fa"/>
<rect x="601" y="60" width="1" height="3" fill="#e0e0fa"/>
<rect x="601" y="66" width="1" height="3" fill="#e0e0fa"/>
<rect x="601" y="72" width="1" height="3" fill="#e0e0fa"/>
<rect x="601" y="78" width="1" height="3" fill="#e0e0fa"/>
<rect x="601" y="84" width="1" height="3" fill="#e0e0fa"/>
<rect x="601" y="90" width="1" height="3" fill="#e0e0fa"/>
<rect x="601" y="96" width="1" height="3" fill="#e0e0fa"/>
<rect x="601" y="102" width="1" height="3" fill="#e0e0fa"/>
<rect x="601" y="108" width="1" height="3" fill="#e0e0fa"/>
<rect x="601" y="112" width="1" height="2" fill="#e0e0fa"/>
<rect x="601" y="117" width="1" height="3" fill="#e0e0fa"/>
<rect x="601" y="123" width="1" height="3" fill="#e0e0fa"/>
<rect x="601" y="129" width="1" height="3" fill="#e0e0fa"/>
<rect x="601" y="135" width="1" height="3" fill="#e0e0fa"/>
<rect x="601" y="141" width="1" height="3" fill="#e0e0fa"/>
<rect x="601" y="147" width="1" height="3" fill="#e0e0fa"/>
<rect x="601" y="153" width="1" height="3" fill="#e0e0fa"/>
<rect x="601" y="159" width="1" height="3" fill="#e0e0fa"/>
<rect x="601" y="165" width="1" height="3" fill="#e0e0fa"/>
<rect x="601" y="171" width="1" height="3" fill="#e0e0fa"/>
<rect x="601" y="177" width="1" height="3" fill="#e0e0fa"/>
<rect x="601" y="183" width="1" height="3" fill="#e0e0fa"/>
<rect x="601" y="189" width="1" height="3" fill="#e0e0fa"/>
<rect x="601" y="195" width="1" height="3" fill="#e0e0fa"/>
<rect x="601" y="201" width="1" height="3" fill="#e0e0fa"/>
<rect x="601" y="207" width="1" height="3" fill="#e0e0fa"/>
<rect x="601" y="213" width="1" height="3" fill="#e0e0fa"/>
<rect x="601" y="219" width="1" height="3" fill="#e0e0fa"/>
<rect x="601" y="225" width="1" height="3" fill="#e0e0fa"/>
<rect x="601" y="231" width="1" height="3" fill="#e0e0fa"/>
<rect x="601" y="237" width="1" height="3" fill="#e0e0fa"/>
<rect x="601" y="243" width="1" height="3" fill="#e0e0fa"/>
<rect x="601" y="249" width="1" height="3" fill="#e0e0fa"/>
<rect x="601" y="255" width="1" height="3" fill="#e0e0fa"/>
<rect x="601" y="261" width="1" height="3" fill="#e0e0fa"/>
<rect x="601" y="267" width="1" height="3" fill="#e0e0fa"/>
<rect x="601" y="273" width="1" height="3" fill="#e0e0fa"/>
<rect x="601" y="279" width="1" height="3" fill="#e0e0fa"/>
<rect x="601" y="285" width="1" height="3" fill="#e0e0fa"/>
<rect x="601" y="291" width="1" height="3" fill="#e0e0fa"/>
<rect x="601" y="297" width="1" height="3" fill="#e0e0fa"/>
<rect x="601" y="303" width="1" height="3" fill="#e0e0fa"/>
<rect x="601" y="309" width="1" height="3" fill="#e0e0fa"/>
<rect x="601" y="315" width="1" height="3" fill="#e0e0fa"/>
<rect x="601" y="321" width="1" height="3" fill="#e0e0fa"/>
<rect x="601" y="327" width="1" height="3" fill="#e0e0fa"/>
<rect x="601" y="333" width="1" height="3" fill="#e0e0fa"/>
<rect x="601" y="339" width="1" height="3" fill="#e0e0fa"/>
<rect x="601" y="345" width="1" height="3" fill="#e0e0fa"/>
<rect x="601" y="351" width="1" height="3" fill="#e0e0fa"/>
<rect x="601" y="357" width="1" height="3" fill="#e0e0fa"/>
<rect x="601" y="363" width="1" height="3" fill="#e0e0fa"/>
<rect x="601" y="369" width="1" height="3" fill="#e0e0fa"/>
<rect x="601" y="375" width="1" height="3" fill="#e0e0fa"/>
<rect x="601" y="381" width="1" height="3" fill="#e0e0fa"/>
<rect x="601" y="387" width="1" height="3" fill="#e0e0fa"/>
<rect x="601" y="393" width="1" height="3" fill="#e0e0fa"/>
<rect x="601" y="399" width="1" height="3" fill="#e0e0fa"/>
<rect x="601" y="405" width="1" height="3" fill="#e0e0fa"/>
<rect x="601" y="411" width="1" height="3" fill="#e0e0fa"/>
<rect x="601" y="417" width="1" height="3" fill="#e0e0fa"/>
<rect x="601" y="423" width="1" height="3" fill="#e0e0fa"/>
<rect x="601" y="429" width="1" height="3" fill="#e0e0fa"/>
<rect x="601" y="435" width="1" height="3" fill="#e0e0fa"/>
<rect x="601" y="441" width="1" height="3" fill="#e0e0fa"/>
<rect x="601" y="447" width="1" height="3" fill="#e0e0fa"/>
<rect x="601" y="453" width="1" height="3" fill="#e0e0fa"/>
<rect x="601" y="459" width="1" height="3" fill="#e0e0fa"/>
<rect x="601" y="465" width="1" height="3" fill="#e0e0fa"/>
<rect x="601" y="471" width="1" height="3" fill="#e0e0fa"/>
<rect x="601" y="477" width="1" height="3" fill="#e0e0fa"/>
<rect x="601" y="483" width="1" height="3" fill="#e0e0fa"/>
<rect x="601" y="489" width="1" height="3" fill="#e0e0fa"/>
<rect x="601" y="495" width="1" height="3" fill="#e0e0fa"/>
<rect x="601" y="501" width="1" height="3" fill="#e0e0fa"/>
<rect x="601" y="507" width="1" height="3" fill="#e0e0fa"/>
<rect x="601" y="513" width="1" height="3" fill="#e0e0fa"/>
<rect x="601" y="519" width="1" height="3" fill="#e0e0fa"/>
<rect x="601" y="525" width="1" height="3" fill="#e0e0fa"/>
<rect x="601" y="531" width="1" height="3" fill="#e0e0fa"/>
<rect x="601" y="537" width="1" height="3" fill="#e0e0fa"/>
<rect x="601" y="543" width="1" height="3" fill="#e0e0fa"/>
<rect x="601" y="549" width="1" height="3" fill="#e0e0fa"/>
<rect x="601" y="555" width="1" height="3" fill="#e0e0fa"/>
<rect x="601" y="561" width="1" height="3" fill="#e0e0fa"/>
<rect x="601" y="567" width="1" height="3" fill="#e0e0fa"/>
<rect x="601" y="573" width="1" height="3" fill="#e0e0fa"/>
<rect x="601" y="579" width="1" height="3" fill="#e0e0fa"/>
<rect x="601" y="585" width="1" height="3" fill="#e0e0fa"/>
<rect x="601" y="591" width="1" height="3" fill="#e0e0fa"/>
<rect x="601" y="597" width="1" height="3" fill="#e0e0fa"/>
<rect x="601" y="603" width="1" height="3" fill="#e0e0fa"/>
<rect x="601" y="609" width="1" height="3" fill="#e0e0fa"/>
<rect x="601" y="615" width="1" height="3" fill="#e0e0fa"/>
<rect x="601" y="621" width="1" height="3" fill="#e0e0fa"/>
<rect x="601" y="627" width="1" height="3" fill="#e0e0fa"/>
<rect x="601" y="631" width="1" height="2" fill="#e0e0fa"/>
<rect x="601" y="636" width="1" height="3" fill="#e0e0fa"/>
<rect x="601" y="642" width="1" height="3" fill="#e0e0fa"/>
<rect x="601" y="648" width="1" height="3" fill="#e0e0fa"/>
<rect x="601" y="654" width="1" height="3" fill="#e0e0fa"/>
<rect x="601" y="660" width="1" height="3" fill="#e0e0fa"/>
<rect x="601" y="666" width="1" height="3" fill="#e0e0fa"/>
<rect x="601" y="672" width="1" height="3" fill="#e0e0fa"/>
<rect x="601" y="678" width="1" height="3" fill="#e0e0fa"/>
<rect x="601" y="684" width="1" height="3" fill="#e0e0fa"/>
<rect x="601" y="690" width="1" height="3" fill="#e0e0fa"/>
<rect x="601" y="696" width="1" height="3" fill="#e0e0fa"/>
<rect x="601" y="702" width="1" height="3" fill="#e0e0fa"/>
<rect x="601" y="708" width="1" height="3" fill="#e0e0fa"/>
<rect x="0" y="39" width="674" height="1" fill="#0000ff"/>
<rect x="0" y="78" width="3" height="1" fill="#0000ff"/>
<rect x="6" y="78" width="3" height="1" fill="#0000ff"/>
<rect x="12" y="78" width="3" height="1" fill="#0000ff"/>
<rect x="18" y="78" width="3" height="1" fill="#0000ff"/>
<rect x="24" y="78" width="3" height="1" fill="#0000ff"/>
<rect x="30" y="78" width="3" height="1" fill="#0000ff"/>
<rect x="36" y="78" width="3" height="1" fill="#0000ff"/>
<rect x="42" y="78" width="3" height="1" fill="#0000ff"/>
<rect x="48" y="78" width="3" height="1" fill="#0000ff"/>
<rect x="54" y="78" width="3" height="1" fill="#0000ff"/>
<rect x="60" y="78" width="3" height="1" fill="#0000ff"/>
<rect x="66" y="78" width="3" height="1" fill="#0000ff"/>
<rect x="72" y="78" width="3" height="1" fill="#0000ff"/>
<rect x="78" y="78" width="3" height="1" fill="#0000ff"/>
<rect x="84" y="78" width="3" height="1" fill="#0000ff"/>
<rect x="90" y="78" width="3" height="1" fill="#0000ff"/>
<rect x="96" y="78" width="3" height="1" fill="#0000ff"/>
<rect x="102" y="78" width="3" height="1" fill="#0000ff"/>
<rect x="108" y="78" width="3" height="1" fill="#0000ff"/>
<rect x="114" y="78" width="3" height="1" fill="#0000ff"/>
<rect x="120" y="78" width="3" height="1" fill="#0000ff"/>
<rect x="126" y="78" width="3" height="1" fill="#0000ff"/>
<rect x="132" y="78" width="3" height="1" fill="#0000ff"/>
<rect x="138" y="78" width="3" height="1" fill="#0000ff"/>
<rect x="144" y="78" width="3" height="1" fill="#0000ff"/>
<rect x="150" y="78" width="3" height="1" fill="#0000ff"/>
<rect x="156" y="78" width="3" height="1" fill="#0000ff"/>
<rect x="162" y="78" width="3" height="1" fill="#0000ff"/>
<rect x="168" y="78" width="3" height="1" fill="#0000ff"/>
<rect x="174" y="78" width="3" height="1" fill="#0000ff"/>
<rect x="180" y="78" width="3" height="1" fill="#0000ff"/>
<rect x="186" y="78" width="3" height="1" fill="#0000ff"/>
<rect x="192" y="78" width="3" height="1" fill="#0000ff"/>
<rect x="198" y="78" width="3" height="1" fill="#0000ff"/>
<rect x="204" y="78" width="3" height="1" fill="#0000ff"/>
<rect x="210" y="78" width="3" height="1" fill="#0000ff"/>
<rect x="216" y="78" width="3" height="1" fill="#0000ff"/>
<rect x="222" y="78" width="3" height="1" fill="#0000ff"/>
<rect x="228" y="78" width="3" height="1" fill="#0000ff"/>
<rect x="234" y="78" width="3" height="1" fill="#0000ff"/>
<rect x="240" y="78" width="3" height="1" fill="#0000ff"/>
<rect x="246" y="78" width="3" height="1" fill="#0000ff"/>
<rect x="252" y="78" width="3" height="1" fill="#0000ff"/>
<rect x="258" y="78" width="3" height="1" fill="#0000ff"/>
<rect x="264" y="78" width="3" height="1" fill="#0000ff"/>
<rect x="270" y="78" width="3" height="1" fill="#0000ff"/>
<rect x="276" y="78" width="3" height="1" fill="#0000ff"/>
<rect x="282" y="78" width="3" height="1" fill="#0000ff"/>
<rect x="288" y="78" width="3" height="1" fill="#0000ff"/>
<rect x="294" y="78" width="3" height="1" fill="#0000ff"/>
<rect x="300" y="78" width="3" height="1" fill="#0000ff"/>
<rect x="306" y="78" width="3" height="1" fill="#0000ff"/>
<rect x="312" y="78" width="3" height="1" fill="#0000ff"/>
<rect x="318" y="78" width="3" height="1" fill="#0000ff"/>
<rect x="324" y="78" width="3" height="1" fill="#0000ff"/>
<rect x="330" y="78" width="3" height="1" fill="#0000ff"/>
<rect x="336" y="78" width="3" height="1" fill="#0000ff"/>
<rect x="342" y="78" width="3" height="1" fill="#0000ff"/>
<rect x="348" y="78" width="3" height="1" fill="#0000ff"/>
<rect x="354" y="78" width="3" height="1" fill="#0000ff"/>
<rect x="360" y="78" width="3" height="1" fill="#0000ff"/>
<rect x="366" y="78" width="3" height="1" fill="#0000ff"/>
<rect x="372" y="78" width="3" height="1" fill="#0000ff"/>
<rect x="378" y="78" width="3" height="1" fill="#0000ff"/>
<rect x="384" y="78" width="3" height="1" fill="#0000ff"/>
<rect x="390" y="78" width="3" height="1" fill="#0000ff"/>
<rect x="396" y="78" width="3" height="1" fill="#0000ff"/>
<rect x="402" y="78" width="3" height="1" fill="#0000ff"/>
<rect x="408" y="78" width="3" height="1" fill="#0000ff"/>
<rect x="414" y="78" width="3" height="1" fill="#0000ff"/>
<rect x="420" y="78" width="3" height="1" fill="#0000ff"/>
<rect x="426" y="78" width="3" height="1" fill="#0000ff"/>
<rect x="432" y="78" width="3" height="1" fill="#0000ff"/>
<rect x="438" y="78" width="3" height="1" fill="#0000ff"/>
<rect x="444" y="78" width="3" height="1" fill="#0000ff"/>
<rect x="450" y="78" width="3" height="1" fill="#0000ff"/>
<rect x="456" y="78" width="3" height="1" fill="#0000ff"/>
<rect x="462" y="78" width="3" height="1" fill="#0000ff"/>
<rect x="468" y="78" width="3" height="1" fill="#0000ff"/>
<rect x="474" y="78" width="3" height="1" fill="#0000ff"/>
<rect x="480" y="78" width="3" height="1" fill="#0000ff"/>
<rect x="486" y="78" width="3" height="1" fill="#0000ff"/>
<rect x="492" y="78" width="3" height="1" fill="#0000ff"/>
<rect x="498" y="78" width="3" height="1" fill="#0000ff"/>
<rect x="504" y="78" width="3" height="1" fill="#0000ff"/>
<rect x="510" y="78" width="3" height="1" fill="#0000ff"/>
<rect x="516" y="78" width="3" height="1" fill="#0000ff"/>
<rect x="522" y="78" width="3" height="1" fill="#0000ff"/>
<rect x="528" y="78" width="3" height="1" fill="#0000ff"/>
<rect x="534" y="78" width="3" height="1" fill="#0000ff"/>
<rect x="540" y="78" width="3" height="1" fill="#0000ff"/>
<rect x="546" y="78" width="3" height="1" fill="#0000ff"/>
<rect x="552" y="78" width="3" height="1" fill="#0000ff"/>
<rect x="558" y="78" width="3" height="1" fill="#0000ff"/>
<rect x="564" y="78" width="3" height="1" fill="#0000ff"/>
<rect x="570" y="78" width="3" height="1" fill="#0000ff"/>
<rect x="576" y="78" width="3" height="1" fill="#0000ff"/>
<rect x="582" y="78" width="3" height="1" fill="#0000ff"/>
<rect x="588" y="78" width="3" height="1" fill="#0000ff"/>
<rect x="594" y="78" width="3" height="1" fill="#0000ff"/>
<rect x="600" y="78" width="3" height="1" fill="#0000ff"/>
<rect x="606" y="78" width="3" height="1" fill="#0000ff"/>
<rect x="612" y="78" width="3" height="1" fill="#0000ff"/>
<rect x="618" y="78" width="3" height="1" fill="#0000ff"/>
<rect x="624" y="78" width="3" height="1" fill="#0000ff"/>
<rect x="630" y="78" width="3" height="1" fill="#0000ff"/>
<rect x="636" y="78" width="3" height="1" fill="#0000ff"/>
<rect x="642" y="78" width="3" height="1" fill="#0000ff"/>
<rect x="648" y="78" width="3" height="1" fill="#0000ff"/>
<rect x="654" y="78" width="3" height="1" fill="#0000ff"/>
<rect x="660" y="78" width="3" height="1" fill="#0000ff"/>
<rect x="666" y="78" width="3" height="1" fill="#0000ff"/>
<rect x="672" y="78" width="2" height="1" fill="#0000ff"/>
<polyline points="-3,81.1 1,82.3 6,79.5 10,70.3 14,50.7 19,52.4 23,63.7 28,74.0 32,84.5 37,87.3 42,101.0 45,98.5 50,97.2 55,96.9 59,75.0 64,76.6 67,81.1 72,82.0 77,83.6 81,86.6 86,86.9 89,86.9 94,75.0 99,67.8 103,57.1 108,58.4 112,72.0 117,75.0 120,78.6 125,75.6 129,70.0 134,72.8 139,69.0 142,66.7 147,59.0 152,61.7 156,45.1 161,60.0 164,60.0 170,60.0 173,63.4 178,73.7 182,79.5 187,85.3 192,94.4 195,94.9 200,83.6 204,73.3 209,70.0 213,74.0 217,70.0 222,66.2 227,52.1 231,35.1 235,50.0 240,53.7 244,50.4 249,72.8 253,63.3 257,61.7 262,70.6 266,70.6 270,63.3 275,72.3 279,70.0 283,70.0 288,73.3 293,78.9 298,76.6 302,59.0 306,68.6 310,74.9 315,63.3 319,62.8 323,62.8 328,51.2 332,42.9 337,45.7 341,50.7 346,50.9 349,57.0 354,62.8 359,60.3 363,48.3 367,32.9 372,47.8 376,40.0 381,49.0 385,49.0 390,50.6 393,40.4 398,56.1 402,58.3 407,65.3 412,73.9 416,71.1 420,64.4 424,42.3 429,40.4 434,37.9 438,35.4 442,19.1 447,18.8 451,28.7 455,25.4 460,31.7 465,34.0 470,37.9 474,44.0 478,40.7 482,45.7 487,38.7 491,50.6 496,58.9 500,67.7 504,63.9 508,70.6 512,60.6 518,62.8 522,54.0 526,53.6 530,55.6 535,59.4 539,54.5 544,50.6 548,54.0 552,54.0 557,54.0 561,31.2 566,25.4 570,15.8 575,20.9 579,16.9 583,10.2 588,14.6 592,14.6 596,12.3 601,11.8 605,28.2 609,32.0 614,47.5 618,44.8 623,42.0 627,53.8 632,59.3 636,58.3 641,67.6 644,63.4 650,70.3 654,82.8 658,71.0" fill="none" stroke="#ff0000" stroke-width="1" shape-rendering="crispEdges"/>
<rect x="0" y="258" width="3" height="1" fill="#6464c4"/>
<rect x="6" y="258" width="3" height="1" fill="#6464c4"/>
<rect x="12" y="258" width="3" height="1" fill="#6464c4"/>
<rect x="18" y="258" width="3" height="1" fill="#6464c4"/>
<rect x="24" y="258" width="3" height="1" fill="#6464c4"/>
<rect x="30" y="258" width="3" height="1" fill="#6464c4"/>
<rect x="36" y="258" width="3" height="1" fill="#6464c4"/>
<rect x="42" y="258" width="3" height="1" fill="#6464c4"/>
<rect x="48" y="258" width="3" height="1" fill="#6464c4"/>
<rect x="54" y="258" width="3" height="1" fill="#6464c4"/>
<rect x="60" y="258" width="3" height="1" fill="#6464c4"/>
<rect x="66" y="258" width="3" height="1" fill="#6464c4"/>
<rect x="72" y="258" width="3" height="1" fill="#6464c4"/>
<rect x="78" y="258" width="3" height="1" fill="#6464c4"/>
<rect x="84" y="258" width="3" height="1" fill="#6464c4"/>
<rect x="90" y="258" width="3" height="1" fill="#6464c4"/>
<rect x="96" y="258" width="3" height="1" fill="#6464c4"/>
<rect x="102" y="258" width="3" height="1" fill="#6464c4"/>
<rect x="108" y="258" width="3" height="1" fill="#6464c4"/>
<rect x="114" y="258" width="3" height="1" fill="#6464c4"/>
<rect x="120" y="258" width="3" height="1" fill="#6464c4"/>
<rect x="126" y="258" width="3" height="1" fill="#6464c4"/>
<rect x="132" y="258" width="3" height="1" fill="#6464c4"/>
<rect x="138" y="258" width="3" height="1" fill="#6464c4"/>
<rect x="144" y="258" width="3" height="1" fill="#6464c4"/>
<rect x="150" y="258" width="3" height="1" fill="#6464c4"/>
<rect x="156" y="258" width="3" height="1" fill="#6464c4"/>
<rect x="162" y="258" width="3" height="1" fill="#6464c4"/>
<rect x="168" y="258" width="3" height="1" fill="#6464c4"/>
<rect x="174" y="258" width="3" height="1" fill="#6464c4"/>
<rect x="180" y="258" width="3" height="1" fill="#6464c4"/>
<rect x="186" y="258" width="3" height="1" fill="#6464c4"/>
<rect x="192" y="258" width="3" height="1" fill="#6464c4"/>
<rect x="198" y="258" width="3" height="1" fill="#6464c4"/>
<rect x="204" y="258" width="3" height="1" fill="#6464c4"/>
<rect x="210" y="258" width="3" height="1" fill="#6464c4"/>
<rect x="216" y="258" width="3" height="1" fill="#6464c4"/>
<rect x="222" y="258" width="3" height="1" fill="#6464c4"/>
<rect x="228" y="258" width="3" height="1" fill="#6464c4"/>
<rect x="234" y="258" width="3" height="1" fill="#6464c4"/>
<rect x="240" y="258" width="3" height="1" fill="#6464c4"/>
<rect x="246" y="258" width="3" height="1" fill="#6464c4"/>
<rect x="252" y="258" width="3" height="1" fill="#6464c4"/>
<rect x="258" y="258" width="3" height="1" fill="#6464c4"/>
<rect x="264" y="258" width="3" height="1" fill="#6464c4"/>
<rect x="270" y="258" width="3" height="1" fill="#6464c4"/>
<rect x="276" y="258" width="3" height="1" fill="#6464c4"/>
<rect x="282" y="258" width="3" height="1" fill="#6464c4"/>
<rect x="288" y="258" width="3" height="1" fill="#6464c4"/>
<rect x="294" y="258" width="3" height="1" fill="#6464c4"/>
<rect x="300" y="258" width="3" height="1" fill="#6464c4"/>
<rect x="306" y="258" width="3" height="1" fill="#6464c4"/>
<rect x="312" y="258" width="3" height="1" fill="#6464c4"/>
<rect x="318" y="258" width="3" height="1" fill="#6464c4"/>
<rect x="324" y="258" width="3" height="1" fill="#6464c4"/>
<rect x="330" y="258" width="3" height="1" fill="#6464c4"/>
<rect x="336" y="258" width="3" height="1" fill="#6464c4"/>
<rect x="342" y="258" width="3" height="1" fill="#6464c4"/>
<rect x="348" y="258" width="3" height="1" fill="#6464c4"/>
<rect x="354" y="258" width="3" height="1" fill="#6464c4"/>
<rect x="360" y="258" width="3" height="1" fill="#6464c4"/>
<rect x="366" y="258" width="3" height="1" fill="#6464c4"/>
<rect x="372" y="258" width="3" height="1" fill="#6464c4"/>
<rect x="378" y="258" width="3" height="1" fill="#6464c4"/>
<rect x="384" y="258" width="3" height="1" fill="#6464c4"/>
<rect x="390" y="258" width="3" height="1" fill="#6464c4"/>
<rect x="396" y="258" width="3" height="1" fill="#6464c4"/>
<rect x="402" y="258" width="3" height="1" fill="#6464c4"/>
<rect x="408" y="258" width="3" height="1" fill="#6464c4"/>
<rect x="414" y="258" width="3" height="1" fill="#6464c4"/>
<rect x="420" y="258" width="3" height="1" fill="#6464c4"/>
<rect x="426" y="258" width="3" height="1" fill="#6464c4"/>
<rect x="432" y="258" width="3" height="1" fill="#6464c4"/>
<rect x="438" y="258" width="3" height="1" fill="#6464c4"/>
<rect x="444" y="258" width="3" height="1" fill="#6464c4"/>
<rect x="450" y="258" width="3" height="1" fill="#6464c4"/>
<rect x="456" y="258" width="3" height="1" fill="#6464c4"/>
<rect x="462" y="258" width="3" height="1" fill="#6464c4"/>
<rect x="468" y="258" width="3" height="1" fill="#6464c4"/>
<rect x="474" y="258" width="3" height="1" fill="#6464c4"/>
<rect x="480" y="258" width="3" height="1" fill="#6464c4"/>
<rect x="486" y="258" width="3" height="1" fill="#6464c4"/>
<rect x="492" y="258" width="3" height="1" fill="#6464c4"/>
<rect x="498" y="258" width="3" height="1" fill="#6464c4"/>
<rect x="504" y="258" width="3" height="1" fill="#6464c4"/>
<rect x="510" y="258" width="3" height="1" fill="#6464c4"/>
<rect x="516" y="258" width="3" height="1" fill="#6464c4"/>
<rect x="522" y="258" width="3" height="1" fill="#6464c4"/>
<rect x="528" y="258" width="3" height="1" fill="#6464c4"/>
<rect x="534" y="258" width="3" height="1" fill="#6464c4"/>
<rect x="540" y="258" width="3" height="1" fill="#6464c4"/>
<rect x="546" y="258" width="3" height="1" fill="#6464c4"/>
<rect x="552" y="258" width="3" height="1" fill="#6464c4"/>
<rect x="558" y="258" width="3" height="1" fill="#6464c4"/>
<rect x="564" y="258" width="3" height="1" fill="#6464c4"/>
<rect x="570" y="258" width="3" height="1" fill="#6464c4"/>
<rect x="576" y="258" width="3" height="1" fill="#6464c4"/>
<rect x="582" y="258" width="3" height="1" fill="#6464c4"/>
<rect x="588" y="258" width="3" height="1" fill="#6464c4"/>
<rect x="594" y="258" width="3" height="1" fill="#6464c4"/>
<rect x="600" y="258" width="3" height="1" fill="#6464c4"/>
<rect x="606" y="258" width="3" height="1" fill="#6464c4"/>
<rect x="612" y="258" width="3" height="1" fill="#6464c4"/>
<rect x="618" y="258" width="3" height="1" fill="#6464c4"/>
<rect x="624" y="258" width="3" height="1" fill="#6464c4"/>
<rect x="630" y="258" width="3" height="1" fill="#6464c4"/>
<rect x="636" y="258" width="3" height="1" fill="#6464c4"/>
<rect x="642" y="258" width="3" height="1" fill="#6464c4"/>
<rect x="648" y="258" width="3" height="1" fill="#6464c4"/>
<rect x="654" y="258" width="3" height="1" fill="#6464c4"/>
<rect x="660" y="258" width="3" height="1" fill="#6464c4"/>
<rect x="666" y="258" width="3" height="1" fill="#6464c4"/>
<rect x="672" y="258" width="2" height="1" fill="#6464c4"/>
<rect x="0" y="303" width="3" height="1" fill="#6464c4"/>
<rect x="6" y="303" width="3" height="1" fill="#6464c4"/>
<rect x="12" y="303" width="3" height="1" fill="#6464c4"/>
<rect x="18" y="303" width="3" height="1" fill="#6464c4"/>
<rect x="24" y="303" width="3" height="1" fill="#6464c4"/>
<rect x="30" y="303" width="3" height="1" fill="#6464c4"/>
<rect x="36" y="303" width="3" height="1" fill="#6464c4"/>
<rect x="42" y="303" width="3" height="1" fill="#6464c4"/>
<rect x="48" y="303" width="3" height="1" fill="#6464c4"/>
<rect x="54" y="303" width="3" height="1" fill="#6464c4"/>
<rect x="60" y="303" width="3" height="1" fill="#6464c4"/>
<rect x="66" y="303" width="3" height="1" fill="#6464c4"/>
<rect x="72" y="303" width="3" height="1" fill="#6464c4"/>
<rect x="78" y="303" width="3" height="1" fill="#6464c4"/>
<rect x="84" y="303" width="3" height="1" fill="#6464c4"/>
<rect x="90" y="303" width="3" height="1" fill="#6464c4"/>
<rect x="96" y="303" width="3" height="1" fill="#6464c4"/>
<rect x="102" y="303" width="3" height="1" fill="#6464c4"/>
<rect x="108" y="303" width="3" height="1" fill="#6464c4"/>
<rect x="114" y="303" width="3" height="1" fill="#6464c4"/>
<rect x="120" y="303" width="3" height="1" fill="#6464c4"/>
<rect x="126" y="303" width="3" height="1" fill="#6464c4"/>
<rect x="132" y="303" width="3" height="1" fill="#6464c4"/>
<rect x="138" y="303" width="3" height="1" fill="#6464c4"/>
<rect x="144" y="303" width="3" height="1" fill="#6464c4"/>
<rect x="150" y="303" width="3" height="1" fill="#6464c4"/>
<rect x="156" y="303" width="3" height="1" fill="#6464c4"/>
<rect x="162" y="303" width="3" height="1" fill="#6464c4"/>
<rect x="168" y="303" width="3" height="1" fill="#6464c4"/>
<rect x="174" y="303" width="3" height="1" fill="#6464c4"/>
<rect x="180" y="303" width="3" height="1" fill="#6464c4"/>
<rect x="186" y="303" width="3" height="1" fill="#6464c4"/>
<rect x="192" y="303" width="3" height="1" fill="#6464c4"/>
<rect x="198" y="303" width="3" height="1" fill="#6464c4"/>
<rect x="204" y="303" width="3" height="1" fill="#6464c4"/>
<rect x="210" y="303" width="3" height="1" fill="#6464c4"/>
<rect x="216" y="303" width="3" height="1" fill="#6464c4"/>
<rect x="222" y="303" width="3" height="1" fill="#6464c4"/>
<rect x="228" y="303" width="3" height="1" fill="#6464c4"/>
<rect x="234" y="303" width="3" height="1" fill="#6464c4"/>
<rect x="240" y="303" width="3" height="1" fill="#6464c4"/>
<rect x="246" y="303" width="3" height="1" fill="#6464c4"/>
<rect x="252" y="303" width="3" height="1" fill="#6464c4"/>
<rect x="258" y="303" width="3" height="1" fill="#6464c4"/>
<rect x="264" y="303" width="3" height="1" fill="#6464c4"/>
<rect x="270" y="303" width="3" height="1" fill="#6464c4"/>
<rect x="276" y="303" width="3" height="1" fill="#6464c4"/>
<rect x="282" y="303" width="3" height="1" fill="#6464c4"/>
<rect x="288" y="303" width="3" height="1" fill="#6464c4"/>
<rect x="294" y="303" width="3" height="1" fill="#6464c4"/>
<rect x="300" y="303" width="3" height="1" fill="#6464c4"/>
<rect x="306" y="303" width="3" height="1" fill="#6464c4"/>
<rect x="312" y="303" width="3" height="1" fill="#6464c4"/>
<rect x="318" y="303" width="3" height="1" fill="#6464c4"/>
<rect x="324" y="303" width="3" height="1" fill="#6464c4"/>
<rect x="330" y="303" width="3" height="1" fill="#6464c4"/>
<rect x="336" y="303" width="3" height="1" fill="#6464c4"/>
<rect x="342" y="303" width="3" height="1" fill="#6464c4"/>
<rect x="348" y="303" width="3" height="1" fill="#6464c4"/>
<rect x="354" y="303" width="3" height="1" fill="#6464c4"/>
<rect x="360" y="303" width="3" height="1" fill="#6464c4"/>
<rect x="366" y="303" width="3" height="1" fill="#6464c4"/>
<rect x="372" y="303" width="3" height="1" fill="#6464c4"/>
<rect x="378" y="303" width="3" height="1" fill="#6464c4"/>
<rect x="384" y="303" width="3" height="1" fill="#6464c4"/>
<rect x="390" y="303" width="3" height="1" fill="#6464c4"/>
<rect x="396" y="303" width="3" height="1" fill="#6464c4"/>
<rect x="402" y="303" width="3" height="1" fill="#6464c4"/>
<rect x="408" y="303" width="3" height="1" fill="#6464c4"/>
<rect x="414" y="303" width="3" height="1" fill="#6464c4"/>
<rect x="420" y="303" width="3" height="1" fill="#6464c4"/>
<rect x="426" y="303" width="3" height="1" fill="#6464c4"/>
<rect x="432" y="303" width="3" height="1" fill="#6464c4"/>
<rect x="438" y="303" width="3" height="1" fill="#6464c4"/>
<rect x="444" y="303" width="3" height="1" fill="#6464c4"/>
<rect x="450" y="303" width="3" height="1" fill="#6464c4"/>
<rect x="456" y="303" width="3" height="1" fill="#6464c4"/>
<rect x="462" y="303" width="3" height="1" fill="#6464c4"/>
<rect x="468" y="303" width="3" height="1" fill="#6464c4"/>
<rect x="474" y="303" width="3" height="1" fill="#6464c4"/>
<rect x="480" y="303" width="3" height="1" fill="#6464c4"/>
<rect x="486" y="303" width="3" height="1" fill="#6464c4"/>
<rect x="492" y="303" width="3" height="1" fill="#6464c4"/>
<rect x="498" y="303" width="3" height="1" fill="#6464c4"/>
<rect x="504" y="303" width="3" height="1" fill="#6464c4"/>
<rect x="510" y="303" width="3" height="1" fill="#6464c4"/>
<rect x="516" y="303" width="3" height="1" fill="#6464c4"/>
<rect x="522" y="303" width="3" height="1" fill="#6464c4"/>
<rect x="528" y="303" width="3" height="1" fill="#6464c4"/>
<rect x="534" y="303" width="3" height="1" fill="#6464c4"/>
<rect x="540" y="303" width="3" height="1" fill="#6464c4"/>
<rect x="546" y="303" width="3" height="1" fill="#6464c4"/>
<rect x="552" y="303" width="3" height="1" fill="#6464c4"/>
<rect x="558" y="303" width="3" height="1" fill="#6464c4"/>
<rect x="564" y="303" width="3" height="1" fill="#6464c4"/>
<rect x="570" y="303" width="3" height="1" fill="#6464c4"/>
<rect x="576" y="303" width="3" height="1" fill="#6464c4"/>
<rect x="582" y="303" width="3" height="1" fill="#6464c4"/>
<rect x="588" y="303" width="3" height="1" fill="#6464c4"/>
<rect x="594" y="303" width="3" height="1" fill="#6464c4"/>
<rect x="600" y="303" width="3" height="1" fill="#6464c4"/>
<rect x="606" y="303" width="3" height="1" fill="#6464c4"/>
<rect x="612" y="303" width="3" height="1" fill="#6464c4"/>
<rect x="618" y="303" width="3" height="1" fill="#6464c4"/>
<rect x="624" y="303" width="3" height="1" fill="#6464c4"/>
<rect x="630" y="303" width="3" height="1" fill="#6464c4"/>
<rect x="636" y="303" width="3" height="1" fill="#6464c4"/>
<rect x="642" y="303" width="3" height="1" fill="#6464c4"/>
<rect x="648" y="303" width="3" height="1" fill="#6464c4"/>
<rect x="654" y="303" width="3" height="1" fill="#6464c4"/>
<rect x="660" y="303" width="3" height="1" fill="#6464c4"/>
<rect x="666" y="303" width="3" height="1" fill="#6464c4"/>
<rect x="672" y="303" width="2" height="1" fill="#6464c4"/>
<rect x="0" y="417" width="674" height="1" fill="#6464c4"/>
<rect x="0" y="480" width="18" height="1" fill="#6464c4"/>
<rect x="24" y="480" width="18" height="1" fill="#6464c4"/>
<rect x="48" y="480" width="18" height="1" fill="#6464c4"/>
<rect x="72" y="480" width="18" height="1" fill="#6464c4"/>
<rect x="96" y="480" width="18" height="1" fill="#6464c4"/>
<rect x="120" y="480" width="18" height="1" fill="#6464c4"/>
<rect x="144" y="480" width="18" height="1" fill="#6464c4"/>
<rect x="168" y="480" width="18" height="1" fill="#6464c4"/>
<rect x="192" y="480" width="18" height="1" fill="#6464c4"/>
<rect x="216" y="480" width="18" height="1" fill="#6464c4"/>
<rect x="240" y="480" width="18" height="1" fill="#6464c4"/>
<rect x="264" y="480" width="18" height="1" fill="#6464c4"/>
<rect x="288" y="480" width="18" height="1" fill="#6464c4"/>
<rect x="312" y="480" width="18" height="1" fill="#6464c4"/>
<rect x="336" y="480" width="18" height="1" fill="#6464c4"/>
<rect x="360" y="480" width="18" height="1" fill="#6464c4"/>
<rect x="384" y="480" width="18" height="1" fill="#6464c4"/>
<rect x="408" y="480" width="18" height="1" fill="#6464c4"/>
<rect x="432" y="480" width="18" height="1" fill="#6464c4"/>
<rect x="456" y="480" width="18" height="1" fill="#6464c4"/>
<rect x="480" y="480" width="18" height="1" fill="#6464c4"/>
<rect x="504" y="480" width="18" height="1" fill="#6464c4"/>
<rect x="528" y="480" width="18" height="1" fill="#6464c4"/>
<rect x="552" y="480" width="18" height="1" fill="#6464c4"/>
<rect x="576" y="480" width="18" height="1" fill="#6464c4"/>
<rect x="600" y="480" width="18" height="1" fill="#6464c4"/>
<rect x="624" y="480" width="18" height="1" fill="#6464c4"/>
<rect x="648" y="480" width="18" height="1" fill="#6464c4"/>
<rect x="672" y="480" width="2" height="1" fill="#6464c4"/>
<rect x="216" y="480" width="90" height="1" fill="#6464c4"/>
<rect x="188" y="487" width="3" height="1" fill="#6464c4"/>
<rect x="194" y="487" width="3" height="1" fill="#6464c4"/>
<rect x="200" y="487" width="3" height="1" fill="#6464c4"/>
<rect x="206" y="487" width="3" height="1" fill="#6464c4"/>
<rect x="212" y="487" width="3" height="1" fill="#6464c4"/>
<rect x="218" y="487" width="3" height="1" fill="#6464c4"/>
<rect x="224" y="487" width="3" height="1" fill="#6464c4"/>
<rect x="230" y="487" width="3" height="1" fill="#6464c4"/>
<rect x="236" y="487" width="3" height="1" fill="#6464c4"/>
<rect x="242" y="487" width="3" height="1" fill="#6464c4"/>
<rect x="248" y="487" width="3" height="1" fill="#6464c4"/>
<rect x="254" y="487" width="3" height="1" fill="#6464c4"/>
<rect x="260" y="487" width="3" height="1" fill="#6464c4"/>
<rect x="266" y="487" width="3" height="1" fill="#6464c4"/>
<rect x="272" y="487" width="3" height="1" fill="#6464c4"/>
<rect x="278" y="487" width="3" height="1" fill="#6464c4"/>
<rect x="284" y="487" width="3" height="1" fill="#6464c4"/>
<rect x="290" y="487" width="3" height="1" fill="#6464c4"/>
<rect x="296" y="487" width="3" height="1" fill="#6464c4"/>
<rect x="302" y="487" width="3" height="1" fill="#6464c4"/>
<rect x="308" y="487" width="3" height="1" fill="#6464c4"/>
<rect x="0" y="524" width="3" height="1" fill="#6464c4"/>
<rect x="6" y="524" width="3" height="1" fill="#6464c4"/>
<rect x="12" y="524" width="3" height="1" fill="#6464c4"/>
<rect x="18" y="524" width="3" height="1" fill="#6464c4"/>
<rect x="24" y="524" width="3" height="1" fill="#6464c4"/>
<rect x="30" y="524" width="3" height="1" fill="#6464c4"/>
<rect x="36" y="524" width="3" height="1" fill="#6464c4"/>
<rect x="42" y="524" width="3" height="1" fill="#6464c4"/>
<rect x="48" y="524" width="3" height="1" fill="#6464c4"/>
<rect x="54" y="524" width="3" height="1" fill="#6464c4"/>
<rect x="60" y="524" width="3" height="1" fill="#6464c4"/>
<rect x="66" y="524" width="3" height="1" fill="#6464c4"/>
<rect x="72" y="524" width="3" height="1" fill="#6464c4"/>
<rect x="78" y="524" width="3" height="1" fill="#6464c4"/>
<rect x="84" y="524" width="3" height="1" fill="#6464c4"/>
<rect x="90" y="524" width="3" height="1" fill="#6464c4"/>
<rect x="96" y="524" width="3" height="1" fill="#6464c4"/>
<rect x="102" y="524" width="3" height="1" fill="#6464c4"/>
<rect x="108" y="524" width="3" height="1" fill="#6464c4"/>
<rect x="114" y="524" width="3" height="1" fill="#6464c4"/>
<rect x="120" y="524" width="3" height="1" fill="#6464c4"/>
<rect x="126" y="524" width="3" height="1" fill="#6464c4"/>
<rect x="132" y="524" width="3" height="1" fill="#6464c4"/>
<rect x="138" y="524" width="3" height="1" fill="#6464c4"/>
<rect x="144" y="524" width="3" height="1" fill="#6464c4"/>
<rect x="150" y="524" width="3" height="1" fill="#6464c4"/>
<rect x="156" y="524" width="3" height="1" fill="#6464c4"/>
<rect x="162" y="524" width="3" height="1" fill="#6464c4"/>
<rect x="168" y="524" width="3" height="1" fill="#6464c4"/>
<rect x="174" y="524" width="3" height="1" fill="#6464c4"/>
<rect x="180" y="524" width="3" height="1" fill="#6464c4"/>
<rect x="186" y="524" width="3" height="1" fill="#6464c4"/>
<rect x="192" y="524" width="3" height="1" fill="#6464c4"/>
<rect x="198" y="524" width="3" height="1" fill="#6464c4"/>
<rect x="204" y="524" width="3" height="1" fill="#6464c4"/>
<rect x="210" y="524" width="3" height="1" fill="#6464c4"/>
<rect x="216" y="524" width="3" height="1" fill="#6464c4"/>
<rect x="222" y="524" width="3" height="1" fill="#6464c4"/>
<rect x="228" y="524" width="3" height="1" fill="#6464c4"/>
<rect x="234" y="524" width="3" height="1" fill="#6464c4"/>
<rect x="240" y="524" width="3" height="1" fill="#6464c4"/>
<rect x="246" y="524" width="3" height="1" fill="#6464c4"/>
<rect x="252" y="524" width="3" height="1" fill="#6464c4"/>
<rect x="258" y="524" width="3" height="1" fill="#6464c4"/>
<rect x="264" y="524" width="3" height="1" fill="#6464c4"/>
<rect x="270" y="524" width="3" height="1" fill="#6464c4"/>
<rect x="276" y="524" width="3" height="1" fill="#6464c4"/>
<rect x="282" y="524" width="3" height="1" fill="#6464c4"/>
<rect x="288" y="524" width="3" height="1" fill="#6464c4"/>
<rect x="294" y="524" width="3" height="1" fill="#6464c4"/>
<rect x="300" y="524" width="3" height="1" fill="#6464c4"/>
<rect x="306" y="524" width="3" height="1" fill="#6464c4"/>
<rect x="312" y="524" width="3" height="1" fill="#6464c4"/>
<rect x="318" y="524" width="3" height="1" fill="#6464c4"/>
<rect x="324" y="524" width="3" height="1" fill="#6464c4"/>
<rect x="330" y="524" width="3" height="1" fill="#6464c4"/>
<rect x="336" y="524" width="3" height="1" fill="#6464c4"/>
<rect x="342" y="524" width="3" height="1" fill="#6464c4"/>
<rect x="348" y="524" width="3" height="1" fill="#6464c4"/>
<rect x="354" y="524" width="3" height="1" fill="#6464c4"/>
<rect x="360" y="524" width="3" height="1" fill="#6464c4"/>
<rect x="366" y="524" width="3" height="1" fill="#6464c4"/>
<rect x="372" y="524" width="3" height="1" fill="#6464c4"/>
<rect x="378" y="524" width="3" height="1" fill="#6464c4"/>
<rect x="384" y="524" width="3" height="1" fill="#6464c4"/>
<rect x="390" y="524" width="3" height="1" fill="#6464c4"/>
<rect x="396" y="524" width="3" height="1" fill="#6464c4"/>
<rect x="402" y="524" width="3" height="1" fill="#6464c4"/>
<rect x="408" y="524" width="3" height="1" fill="#6464c4"/>
<rect x="414" y="524" width="3" height="1" fill="#6464c4"/>
<rect x="420" y="524" width="3" height="1" fill="#6464c4"/>
<rect x="426" y="524" width="3" height="1" fill="#6464c4"/>
<rect x="432" y="524" width="3" height="1" fill="#6464c4"/>
<rect x="438" y="524" width="3" height="1" fill="#6464c4"/>
<rect x="444" y="524" width="3" height="1" fill="#6464c4"/>
<rect x="450" y="524" width="3" height="1" fill="#6464c4"/>
<rect x="456" y="524" width="3" height="1" fill="#6464c4"/>
<rect x="462" y="524" width="3" height="1" fill="#6464c4"/>
<rect x="468" y="524" width="3" height="1" fill="#6464c4"/>
<rect x="474" y="524" width="3" height="1" fill="#6464c4"/>
<rect x="480" y="524" width="3" height="1" fill="#6464c4"/>
<rect x="486" y="524" width="3" height="1" fill="#6464c4"/>
<rect x="492" y="524" width="3" height="1" fill="#6464c4"/>
<rect x="498" y="524" width="3" height="1" fill="#6464c4"/>
<rect x="504" y="524" width="3" height="1" fill="#6464c4"/>
<rect x="510" y="524" width="3" height="1" fill="#6464c4"/>
<rect x="516" y="524" width="3" height="1" fill="#6464c4"/>
<rect x="522" y="524" width="3" height="1" fill="#6464c4"/>
<rect x="528" y="524" width="3" height="1" fill="#6464c4"/>
<rect x="534" y="524" width="3" height="1" fill="#6464c4"/>
<rect x="540" y="524" width="3" height="1" fill="#6464c4"/>
<rect x="546" y="524" width="3" height="1" fill="#6464c4"/>
<rect x="552" y="524" width="3" height="1" fill="#6464c4"/>
<rect x="558" y="524" width="3" height="1" fill="#6464c4"/>
<rect x="564" y="524" width="3" height="1" fill="#6464c4"/>
<rect x="570" y="524" width="3" height="1" fill="#6464c4"/>
<rect x="576" y="524" width="3" height="1" fill="#6464c4"/>
<rect x="582" y="524" width="3" height="1" fill="#6464c4"/>
<rect x="588" y="524" width="3" height="1" fill="#6464c4"/>
<rect x="594" y="524" width="3" height="1" fill="#6464c4"/>
<rect x="600" y="524" width="3" height="1" fill="#6464c4"/>
<rect x="606" y="524" width="3" height="1" fill="#6464c4"/>
<rect x="612" y="524" width="3" height="1" fill="#6464c4"/>
<rect x="618" y="524" width="3" height="1" fill="#6464c4"/>
<rect x="624" y="524" width="3" height="1" fill="#6464c4"/>
<rect x="630" y="524" width="3" height="1" fill="#6464c4"/>
<rect x="636" y="524" width="3" height="1" fill="#6464c4"/>
<rect x="642" y="524" width="3" height="1" fill="#6464c4"/>
<rect x="648" y="524" width="3" height="1" fill="#6464c4"/>
<rect x="654" y="524" width="3" height="1" fill="#6464c4"/>
<rect x="660" y="524" width="3" height="1" fill="#6464c4"/>
<rect x="666" y="524" width="3" height="1" fill="#6464c4"/>
<rect x="672" y="524" width="2" height="1" fill="#6464c4"/>
<rect x="0" y="602" width="674" height="1" fill="#0000ff"/>
<rect x="1" y="514" width="1" height="30" fill="#aa2800"/>
<rect x="-1" y="528" width="5" height="8" fill="#aa2800"/>
<rect x="6" y="532" width="1" height="13" fill="#000096"/>
<rect x="4" y="528" width="4" height="1" fill="#000096"/>
<rect x="4" y="532" width="4" height="1" fill="#000096"/>
<rect x="4" y="528" width="1" height="5" fill="#000096"/>
<rect x="7" y="528" width="1" height="5" fill="#000096"/>
<rect x="10" y="499" width="1" height="16" fill="#000096"/>
<rect x="8" y="514" width="4" height="1" fill="#000096"/>
<rect x="8" y="532" width="4" height="1" fill="#000096"/>
<rect x="8" y="514" width="1" height="19" fill="#000096"/>
<rect x="11" y="514" width="1" height="19" fill="#000096"/>
<rect x="12" y="480" width="5" height="1" fill="#000096"/>
<rect x="12" y="502" width="5" height="1" fill="#000096"/>
<rect x="12" y="480" width="1" height="23" fill="#000096"/>
<rect x="16" y="480" width="1" height="23" fill="#000096"/>
<rect x="19" y="488" width="1" height="23" fill="#aa2800"/>
<rect x="17" y="484" width="4" height="1" fill="#aa2800"/>
<rect x="17" y="488" width="4" height="1" fill="#aa2800"/>
<rect x="17" y="484" width="1" height="5" fill="#aa2800"/>
<rect x="20" y="484" width="1" height="5" fill="#aa2800"/>
<rect x="23" y="491" width="1" height="9" fill="#aa2800"/>
<rect x="21" y="499" width="5" height="1" fill="#aa2800"/>
<rect x="21" y="505" width="5" height="1" fill="#aa2800"/>
<rect x="21" y="499" width="1" height="7" fill="#aa2800"/>
<rect x="25" y="499" width="1" height="7" fill="#aa2800"/>
<rect x="28" y="491" width="1" height="33" fill="#aa2800"/>
<rect x="26" y="491" width="4" height="24" fill="#aa2800"/>
<rect x="32" y="514" width="1" height="22" fill="#aa2800"/>
<rect x="30" y="531" width="5" height="1" fill="#aa2800"/>
<rect x="37" y="525" width="1" height="12" fill="#aa2800"/>
<rect x="35" y="536" width="5" height="1" fill="#aa2800"/>
<rect x="35" y="543" width="5" height="1" fill="#aa2800"/>
<rect x="35" y="536" width="1" height="8" fill="#aa2800"/>
<rect x="39" y="536" width="1" height="8" fill="#aa2800"/>
<rect x="42" y="540" width="1" height="31" fill="#aa2800"/>
<rect x="40" y="544" width="4" height="23" fill="#aa2800"/>
<rect x="45" y="578" width="1" height="5" fill="#000096"/>
<rect x="43" y="562" width="5" height="1" fill="#000096"/>
<rect x="43" y="578" width="5" height="1" fill="#000096"/>
<rect x="43" y="562" width="1" height="17" fill="#000096"/>
<rect x="47" y="562" width="1" height="17" fill="#000096"/>
<rect x="50" y="543" width="1" height="16" fill="#000096"/>
<rect x="48" y="558" width="5" height="1" fill="#000096"/>
<rect x="48" y="562" width="5" height="1" fill="#000096"/>
<rect x="48" y="558" width="1" height="5" fill="#000096"/>
<rect x="52" y="558" width="1" height="5" fill="#000096"/>
<rect x="55" y="544" width="1" height="27" fill="#000096"/>
<rect x="53" y="551" width="4" height="8" fill="#000096"/>
<rect x="57" y="524" width="5" height="1" fill="#000096"/>
<rect x="57" y="566" width="5" height="1" fill="#000096"/>
<rect x="57" y="524" width="1" height="43" fill="#000096"/>
<rect x="61" y="524" width="1" height="43" fill="#000096"/>
<rect x="64" y="540" width="1" height="8" fill="#aa2800"/>
<rect x="62" y="528" width="4" height="1" fill="#aa2800"/>
<rect x="62" y="540" width="4" height="1" fill="#aa2800"/>
<rect x="62" y="528" width="1" height="13" fill="#aa2800"/>
<rect x="65" y="528" width="1" height="13" fill="#aa2800"/>
<rect x="67" y="528" width="1" height="9" fill="#aa2800"/>
<rect x="65" y="536" width="5" height="1" fill="#aa2800"/>
<rect x="65" y="543" width="5" height="1" fill="#aa2800"/>
<rect x="65" y="536" width="1" height="8" fill="#aa2800"/>
<rect x="69" y="536" width="1" height="8" fill="#aa2800"/>
<rect x="72" y="528" width="1" height="13" fill="#aa2800"/>
<rect x="70" y="535" width="5" height="1" fill="#aa2800"/>
<rect x="77" y="528" width="1" height="15" fill="#aa2800"/>
<rect x="75" y="536" width="4" height="5" fill="#aa2800"/>
<rect x="81" y="528" width="1" height="19" fill="#aa2800"/>
<rect x="79" y="536" width="5" height="9" fill="#aa2800"/>
<rect x="86" y="550" width="1" height="5" fill="#aa2800"/>
<rect x="84" y="543" width="4" height="1" fill="#aa2800"/>
<rect x="84" y="550" width="4" height="1" fill="#aa2800"/>
<rect x="84" y="543" width="1" height="8" fill="#aa2800"/>
<rect x="87" y="543" width="1" height="8" fill="#aa2800"/>
<rect x="89" y="524" width="1" height="31" fill="#aa2800"/>
<rect x="87" y="543" width="5" height="1" fill="#aa2800"/>
<rect x="94" y="520" width="1" height="9" fill="#000096"/>
<rect x="92" y="528" width="5" height="1" fill="#000096"/>
<rect x="92" y="544" width="5" height="1" fill="#000096"/>
<rect x="92" y="528" width="1" height="17" fill="#000096"/>
<rect x="96" y="528" width="1" height="17" fill="#000096"/>
<rect x="99" y="517" width="1" height="5" fill="#000096"/>
<rect x="99" y="536" width="1" height="8" fill="#000096"/>
<rect x="97" y="521" width="4" height="1" fill="#000096"/>
<rect x="97" y="536" width="4" height="1" fill="#000096"/>
<rect x="97" y="521" width="1" height="16" fill="#000096"/>
<rect x="100" y="521" width="1" height="16" fill="#000096"/>
<rect x="103" y="499" width="1" height="4" fill="#000096"/>
<rect x="101" y="502" width="5" height="1" fill="#000096"/>
<rect x="101" y="532" width="5" height="1" fill="#000096"/>
<rect x="101" y="502" width="1" height="31" fill="#000096"/>
<rect x="105" y="502" width="1" height="31" fill="#000096"/>
<rect x="108" y="502" width="1" height="5" fill="#aa2800"/>
<rect x="108" y="517" width="1" height="19" fill="#aa2800"/>
<rect x="106" y="506" width="4" height="1" fill="#aa2800"/>
<rect x="106" y="517" width="4" height="1" fill="#aa2800"/>
<rect x="106" y="506" width="1" height="12" fill="#aa2800"/>
<rect x="109" y="506" width="1" height="12" fill="#aa2800"/>
<rect x="112" y="514" width="1" height="7" fill="#aa2800"/>
<rect x="110" y="520" width="5" height="1" fill="#aa2800"/>
<rect x="117" y="517" width="1" height="8" fill="#aa2800"/>
<rect x="115" y="521" width="4" height="4" fill="#aa2800"/>
<rect x="120" y="520" width="1" height="9" fill="#aa2800"/>
<rect x="118" y="528" width="5" height="1" fill="#aa2800"/>
<rect x="118" y="536" width="5" height="1" fill="#aa2800"/>
<rect x="118" y="528" width="1" height="9" fill="#aa2800"/>
<rect x="122" y="528" width="1" height="9" fill="#aa2800"/>
<rect x="125" y="520" width="1" height="5" fill="#000096"/>
<rect x="123" y="524" width="4" height="1" fill="#000096"/>
<rect x="123" y="528" width="4" height="1" fill="#000096"/>
<rect x="123" y="524" width="1" height="5" fill="#000096"/>
<rect x="126" y="524" width="1" height="5" fill="#000096"/>
<rect x="127" y="517" width="5" height="1" fill="#000096"/>
<rect x="127" y="524" width="5" height="1" fill="#000096"/>
<rect x="127" y="517" width="1" height="8" fill="#000096"/>
<rect x="131" y="517" width="1" height="8" fill="#000096"/>
<rect x="134" y="514" width="1" height="7" fill="#aa2800"/>
<rect x="132" y="520" width="5" height="1" fill="#aa2800"/>
<rect x="132" y="524" width="5" height="1" fill="#aa2800"/>
<rect x="132" y="520" width="1" height="5" fill="#aa2800"/>
<rect x="136" y="520" width="1" height="5" fill="#aa2800"/>
<rect x="139" y="510" width="1" height="5" fill="#000096"/>
<rect x="139" y="517" width="1" height="8" fill="#000096"/>
<rect x="137" y="514" width="4" height="1" fill="#000096"/>
<rect x="137" y="517" width="4" height="1" fill="#000096"/>
<rect x="137" y="514" width="1" height="4" fill="#000096"/>
<rect x="140" y="514" width="1" height="4" fill="#000096"/>
<rect x="140" y="513" width="5" height="1" fill="#000096"/>
<rect x="140" y="520" width="5" height="1" fill="#000096"/>
<rect x="140" y="513" width="1" height="8" fill="#000096"/>
<rect x="144" y="513" width="1" height="8" fill="#000096"/>
<rect x="147" y="499" width="1" height="4" fill="#000096"/>
<rect x="145" y="502" width="5" height="1" fill="#000096"/>
<rect x="145" y="513" width="5" height="1" fill="#000096"/>
<rect x="145" y="502" width="1" height="12" fill="#000096"/>
<rect x="149" y="502" width="1" height="12" fill="#000096"/>
<rect x="152" y="499" width="1" height="8" fill="#aa2800"/>
<rect x="150" y="506" width="4" height="1" fill="#aa2800"/>
<rect x="150" y="513" width="4" height="1" fill="#aa2800"/>
<rect x="150" y="506" width="1" height="8" fill="#aa2800"/>
<rect x="153" y="506" width="1" height="8" fill="#aa2800"/>
<rect x="156" y="477" width="1" height="4" fill="#000096"/>
<rect x="154" y="480" width="5" height="1" fill="#000096"/>
<rect x="154" y="502" width="5" height="1" fill="#000096"/>
<rect x="154" y="480" width="1" height="23" fill="#000096"/>
<rect x="158" y="480" width="1" height="23" fill="#000096"/>
<rect x="161" y="477" width="1" height="18" fill="#aa2800"/>
<rect x="159" y="481" width="4" height="14" fill="#aa2800"/>
<rect x="164" y="485" width="1" height="10" fill="#aa2800"/>
<rect x="162" y="494" width="5" height="1" fill="#aa2800"/>
<rect x="170" y="491" width="1" height="20" fill="#aa2800"/>
<rect x="168" y="491" width="4" height="5" fill="#aa2800"/>
<rect x="173" y="502" width="1" height="8" fill="#aa2800"/>
<rect x="171" y="499" width="5" height="1" fill="#aa2800"/>
<rect x="171" y="502" width="5" height="1" fill="#aa2800"/>
<rect x="171" y="499" width="1" height="4" fill="#aa2800"/>
<rect x="175" y="499" width="1" height="4" fill="#aa2800"/>
<rect x="178" y="499" width="1" height="11" fill="#aa2800"/>
<rect x="176" y="499" width="4" height="11" fill="#aa2800"/>
<rect x="182" y="510" width="1" height="8" fill="#aa2800"/>
<rect x="180" y="510" width="5" height="5" fill="#aa2800"/>
<rect x="187" y="510" width="1" height="12" fill="#aa2800"/>
<rect x="185" y="510" width="5" height="12" fill="#aa2800"/>
<rect x="192" y="514" width="1" height="23" fill="#aa2800"/>
<rect x="190" y="514" width="4" height="19" fill="#aa2800"/>
<rect x="195" y="520" width="1" height="12" fill="#aa2800"/>
<rect x="193" y="531" width="5" height="1" fill="#aa2800"/>
<rect x="200" y="528" width="1" height="5" fill="#000096"/>
<rect x="198" y="520" width="4" height="1" fill="#000096"/>
<rect x="198" y="528" width="4" height="1" fill="#000096"/>
<rect x="198" y="520" width="1" height="9" fill="#000096"/>
<rect x="201" y="520" width="1" height="9" fill="#000096"/>
<rect x="204" y="506" width="1" height="4" fill="#000096"/>
<rect x="202" y="509" width="5" height="1" fill="#000096"/>
<rect x="202" y="528" width="5" height="1" fill="#000096"/>
<rect x="202" y="509" width="1" height="20" fill="#000096"/>
<rect x="206" y="509" width="1" height="20" fill="#000096"/>
<rect x="209" y="502" width="1" height="5" fill="#000096"/>
<rect x="209" y="510" width="1" height="5" fill="#000096"/>
<rect x="207" y="506" width="4" height="1" fill="#000096"/>
<rect x="207" y="510" width="4" height="1" fill="#000096"/>
<rect x="207" y="506" width="1" height="5" fill="#000096"/>
<rect x="210" y="506" width="1" height="5" fill="#000096"/>
<rect x="213" y="502" width="1" height="13" fill="#aa2800"/>
<rect x="211" y="506" width="4" height="5" fill="#aa2800"/>
<rect x="217" y="499" width="1" height="7" fill="#000096"/>
<rect x="215" y="505" width="5" height="1" fill="#000096"/>
<rect x="215" y="518" width="5" height="1" fill="#000096"/>
<rect x="215" y="505" width="1" height="14" fill="#000096"/>
<rect x="219" y="505" width="1" height="14" fill="#000096"/>
<rect x="222" y="484" width="1" height="18" fill="#000096"/>
<rect x="220" y="501" width="5" height="1" fill="#000096"/>
<rect x="227" y="484" width="1" height="4" fill="#000096"/>
<rect x="227" y="495" width="1" height="8" fill="#000096"/>
<rect x="225" y="487" width="4" height="1" fill="#000096"/>
<rect x="225" y="495" width="4" height="1" fill="#000096"/>
<rect x="225" y="487" width="1" height="9" fill="#000096"/>
<rect x="228" y="487" width="1" height="9" fill="#000096"/>
<rect x="231" y="445" width="1" height="11" fill="#000096"/>
<rect x="229" y="455" width="4" height="1" fill="#000096"/>
<rect x="229" y="480" width="4" height="1" fill="#000096"/>
<rect x="229" y="455" width="1" height="26" fill="#000096"/>
<rect x="232" y="455" width="1" height="26" fill="#000096"/>
<rect x="235" y="445" width="1" height="26" fill="#aa2800"/>
<rect x="233" y="455" width="5" height="16" fill="#aa2800"/>
<rect x="240" y="459" width="1" height="26" fill="#aa2800"/>
<rect x="238" y="466" width="4" height="8" fill="#aa2800"/>
<rect x="242" y="466" width="5" height="1" fill="#000096"/>
<rect x="242" y="480" width="5" height="1" fill="#000096"/>
<rect x="242" y="466" width="1" height="15" fill="#000096"/>
<rect x="246" y="466" width="1" height="15" fill="#000096"/>
<rect x="249" y="466" width="1" height="34" fill="#aa2800"/>
<rect x="247" y="474" width="4" height="18" fill="#aa2800"/>
<rect x="253" y="474" width="1" height="4" fill="#000096"/>
<rect x="251" y="477" width="4" height="1" fill="#000096"/>
<rect x="251" y="487" width="4" height="1" fill="#000096"/>
<rect x="251" y="477" width="1" height="11" fill="#000096"/>
<rect x="254" y="477" width="1" height="11" fill="#000096"/>
<rect x="257" y="470" width="1" height="4" fill="#000096"/>
<rect x="257" y="480" width="1" height="8" fill="#000096"/>
<rect x="255" y="473" width="5" height="1" fill="#000096"/>
<rect x="255" y="480" width="5" height="1" fill="#000096"/>
<rect x="255" y="473" width="1" height="8" fill="#000096"/>
<rect x="259" y="473" width="1" height="8" fill="#000096"/>
<rect x="262" y="474" width="1" height="12" fill="#aa2800"/>
<rect x="260" y="474" width="4" height="12" fill="#aa2800"/>
<rect x="266" y="477" width="1" height="9" fill="#aa2800"/>
<rect x="264" y="485" width="4" height="1" fill="#aa2800"/>
<rect x="270" y="470" width="1" height="15" fill="#000096"/>
<rect x="268" y="473" width="5" height="1" fill="#000096"/>
<rect x="275" y="473" width="1" height="15" fill="#aa2800"/>
<rect x="273" y="484" width="4" height="1" fill="#aa2800"/>
<rect x="279" y="474" width="1" height="11" fill="#000096"/>
<rect x="277" y="480" width="4" height="1" fill="#000096"/>
<rect x="283" y="470" width="1" height="11" fill="#000096"/>
<rect x="281" y="480" width="5" height="1" fill="#000096"/>
<rect x="288" y="477" width="1" height="15" fill="#aa2800"/>
<rect x="286" y="484" width="5" height="1" fill="#aa2800"/>
<rect x="293" y="477" width="1" height="24" fill="#aa2800"/>
<rect x="291" y="477" width="5" height="15" fill="#aa2800"/>
<rect x="298" y="484" width="1" height="5" fill="#000096"/>
<rect x="298" y="491" width="1" height="5" fill="#000096"/>
<rect x="296" y="488" width="4" height="1" fill="#000096"/>
<rect x="296" y="491" width="4" height="1" fill="#000096"/>
<rect x="296" y="488" width="1" height="4" fill="#000096"/>
<rect x="299" y="488" width="1" height="4" fill="#000096"/>
<rect x="302" y="462" width="1" height="5" fill="#000096"/>
<rect x="302" y="474" width="1" height="7" fill="#000096"/>
<rect x="300" y="466" width="4" height="1" fill="#000096"/>
<rect x="300" y="474" width="4" height="1" fill="#000096"/>
<rect x="300" y="466" width="1" height="9" fill="#000096"/>
<rect x="303" y="466" width="1" height="9" fill="#000096"/>
<rect x="306" y="462" width="1" height="16" fill="#aa2800"/>
<rect x="304" y="470" width="4" height="8" fill="#aa2800"/>
<rect x="310" y="481" width="1" height="4" fill="#aa2800"/>
<rect x="308" y="484" width="5" height="1" fill="#aa2800"/>
<rect x="308" y="487" width="5" height="1" fill="#aa2800"/>
<rect x="308" y="484" width="1" height="4" fill="#aa2800"/>
<rect x="312" y="484" width="1" height="4" fill="#aa2800"/>
<rect x="315" y="476" width="1" height="5" fill="#000096"/>
<rect x="313" y="466" width="4" height="1" fill="#000096"/>
<rect x="313" y="476" width="4" height="1" fill="#000096"/>
<rect x="313" y="466" width="1" height="11" fill="#000096"/>
<rect x="316" y="466" width="1" height="11" fill="#000096"/>
<rect x="319" y="469" width="1" height="8" fill="#000096"/>
<rect x="317" y="467" width="4" height="1" fill="#000096"/>
<rect x="317" y="469" width="4" height="1" fill="#000096"/>
<rect x="317" y="467" width="1" height="3" fill="#000096"/>
<rect x="320" y="467" width="1" height="3" fill="#000096"/>
<rect x="323" y="462" width="1" height="5" fill="#000096"/>
<rect x="321" y="466" width="5" height="1" fill="#000096"/>
<rect x="321" y="476" width="5" height="1" fill="#000096"/>
<rect x="321" y="466" width="1" height="11" fill="#000096"/>
<rect x="325" y="466" width="1" height="11" fill="#000096"/>
<rect x="326" y="448" width="4" height="1" fill="#000096"/>
<rect x="326" y="474" width="4" height="1" fill="#000096"/>
<rect x="326" y="448" width="1" height="27" fill="#000096"/>
<rect x="329" y="448" width="1" height="27" fill="#000096"/>
<rect x="332" y="424" width="1" height="11" fill="#000096"/>
<rect x="330" y="434" width="5" height="1" fill="#000096"/>
<rect x="330" y="453" width="5" height="1" fill="#000096"/>
<rect x="330" y="434" width="1" height="20" fill="#000096"/>
<rect x="334" y="434" width="1" height="20" fill="#000096"/>
<rect x="337" y="431" width="1" height="18" fill="#aa2800"/>
<rect x="335" y="431" width="4" height="7" fill="#aa2800"/>
<rect x="341" y="435" width="1" height="8" fill="#aa2800"/>
<rect x="339" y="442" width="5" height="1" fill="#aa2800"/>
<rect x="339" y="445" width="5" height="1" fill="#aa2800"/>
<rect x="339" y="442" width="1" height="4" fill="#aa2800"/>
<rect x="343" y="442" width="1" height="4" fill="#aa2800"/>
<rect x="346" y="435" width="1" height="10" fill="#aa2800"/>
<rect x="344" y="438" width="4" height="5" fill="#aa2800"/>
<rect x="349" y="438" width="1" height="22" fill="#aa2800"/>
<rect x="347" y="445" width="5" height="5" fill="#aa2800"/>
<rect x="354" y="442" width="1" height="14" fill="#aa2800"/>
<rect x="352" y="445" width="5" height="9" fill="#aa2800"/>
<rect x="359" y="445" width="1" height="5" fill="#000096"/>
<rect x="359" y="453" width="1" height="3" fill="#000096"/>
<rect x="357" y="449" width="4" height="1" fill="#000096"/>
<rect x="357" y="453" width="4" height="1" fill="#000096"/>
<rect x="357" y="449" width="1" height="5" fill="#000096"/>
<rect x="360" y="449" width="1" height="5" fill="#000096"/>
<rect x="363" y="428" width="1" height="4" fill="#000096"/>
<rect x="361" y="431" width="4" height="1" fill="#000096"/>
<rect x="361" y="448" width="4" height="1" fill="#000096"/>
<rect x="361" y="431" width="1" height="18" fill="#000096"/>
<rect x="364" y="431" width="1" height="18" fill="#000096"/>
<rect x="367" y="390" width="1" height="14" fill="#000096"/>
<rect x="367" y="410" width="1" height="8" fill="#000096"/>
<rect x="365" y="403" width="5" height="1" fill="#000096"/>
<rect x="365" y="410" width="5" height="1" fill="#000096"/>
<rect x="365" y="403" width="1" height="8" fill="#000096"/>
<rect x="369" y="403" width="1" height="8" fill="#000096"/>
<rect x="372" y="404" width="1" height="21" fill="#aa2800"/>
<rect x="370" y="404" width="4" height="14" fill="#aa2800"/>
<rect x="376" y="417" width="1" height="19" fill="#000096"/>
<rect x="374" y="400" width="5" height="1" fill="#000096"/>
<rect x="374" y="417" width="5" height="1" fill="#000096"/>
<rect x="374" y="400" width="1" height="18" fill="#000096"/>
<rect x="378" y="400" width="1" height="18" fill="#000096"/>
<rect x="381" y="400" width="1" height="14" fill="#aa2800"/>
<rect x="379" y="407" width="4" height="5" fill="#aa2800"/>
<rect x="385" y="404" width="1" height="14" fill="#000096"/>
<rect x="383" y="404" width="5" height="3" fill="#000096"/>
<rect x="390" y="404" width="1" height="8" fill="#aa2800"/>
<rect x="388" y="404" width="4" height="8" fill="#aa2800"/>
<rect x="393" y="387" width="1" height="4" fill="#000096"/>
<rect x="391" y="390" width="5" height="1" fill="#000096"/>
<rect x="391" y="406" width="5" height="1" fill="#000096"/>
<rect x="391" y="390" width="1" height="17" fill="#000096"/>
<rect x="395" y="390" width="1" height="17" fill="#000096"/>
<rect x="398" y="397" width="1" height="17" fill="#aa2800"/>
<rect x="396" y="406" width="4" height="1" fill="#aa2800"/>
<rect x="402" y="400" width="1" height="11" fill="#aa2800"/>
<rect x="400" y="406" width="5" height="1" fill="#aa2800"/>
<rect x="407" y="413" width="1" height="22" fill="#aa2800"/>
<rect x="405" y="417" width="5" height="1" fill="#aa2800"/>
<rect x="412" y="414" width="1" height="18" fill="#aa2800"/>
<rect x="410" y="418" width="4" height="11" fill="#aa2800"/>
<rect x="416" y="420" width="1" height="12" fill="#000096"/>
<rect x="414" y="420" width="4" height="4" fill="#000096"/>
<rect x="420" y="406" width="1" height="8" fill="#000096"/>
<rect x="418" y="413" width="4" height="1" fill="#000096"/>
<rect x="418" y="424" width="4" height="1" fill="#000096"/>
<rect x="418" y="413" width="1" height="12" fill="#000096"/>
<rect x="421" y="413" width="1" height="12" fill="#000096"/>
<rect x="422" y="370" width="5" height="1" fill="#000096"/>
<rect x="422" y="413" width="5" height="1" fill="#000096"/>
<rect x="422" y="370" width="1" height="44" fill="#000096"/>
<rect x="426" y="370" width="1" height="44" fill="#000096"/>
<rect x="429" y="351" width="1" height="16" fill="#000096"/>
<rect x="427" y="366" width="5" height="1" fill="#000096"/>
<rect x="427" y="380" width="5" height="1" fill="#000096"/>
<rect x="427" y="366" width="1" height="15" fill="#000096"/>
<rect x="431" y="366" width="1" height="15" fill="#000096"/>
<rect x="434" y="345" width="1" height="17" fill="#000096"/>
<rect x="434" y="365" width="1" height="3" fill="#000096"/>
<rect x="432" y="361" width="4" height="1" fill="#000096"/>
<rect x="432" y="365" width="4" height="1" fill="#000096"/>
<rect x="432" y="361" width="1" height="5" fill="#000096"/>
<rect x="435" y="361" width="1" height="5" fill="#000096"/>
<rect x="438" y="348" width="1" height="7" fill="#000096"/>
<rect x="438" y="361" width="1" height="7" fill="#000096"/>
<rect x="436" y="354" width="4" height="1" fill="#000096"/>
<rect x="436" y="361" width="4" height="1" fill="#000096"/>
<rect x="436" y="354" width="1" height="8" fill="#000096"/>
<rect x="439" y="354" width="1" height="8" fill="#000096"/>
<rect x="442" y="297" width="1" height="4" fill="#000096"/>
<rect x="440" y="300" width="5" height="1" fill="#000096"/>
<rect x="440" y="344" width="5" height="1" fill="#000096"/>
<rect x="440" y="300" width="1" height="45" fill="#000096"/>
<rect x="444" y="300" width="1" height="45" fill="#000096"/>
<rect x="447" y="275" width="1" height="32" fill="#000096"/>
<rect x="445" y="291" width="4" height="4" fill="#000096"/>
<rect x="451" y="291" width="1" height="19" fill="#aa2800"/>
<rect x="449" y="291" width="4" height="17" fill="#aa2800"/>
<rect x="455" y="278" width="1" height="11" fill="#000096"/>
<rect x="455" y="306" width="1" height="14" fill="#000096"/>
<rect x="453" y="288" width="5" height="1" fill="#000096"/>
<rect x="453" y="306" width="5" height="1" fill="#000096"/>
<rect x="453" y="288" width="1" height="19" fill="#000096"/>
<rect x="457" y="288" width="1" height="19" fill="#000096"/>
<rect x="460" y="276" width="1" height="25" fill="#aa2800"/>
<rect x="458" y="281" width="5" height="16" fill="#aa2800"/>
<rect x="465" y="288" width="1" height="23" fill="#aa2800"/>
<rect x="463" y="297" width="5" height="4" fill="#aa2800"/>
<rect x="470" y="297" width="1" height="7" fill="#aa2800"/>
<rect x="468" y="297" width="4" height="7" fill="#aa2800"/>
<rect x="474" y="296" width="1" height="27" fill="#aa2800"/>
<rect x="472" y="304" width="4" height="6" fill="#aa2800"/>
<rect x="478" y="312" width="1" height="5" fill="#000096"/>
<rect x="476" y="303" width="4" height="1" fill="#000096"/>
<rect x="476" y="312" width="4" height="1" fill="#000096"/>
<rect x="476" y="303" width="1" height="10" fill="#000096"/>
<rect x="479" y="303" width="1" height="10" fill="#000096"/>
<rect x="482" y="307" width="1" height="3" fill="#aa2800"/>
<rect x="480" y="309" width="5" height="1" fill="#aa2800"/>
<rect x="487" y="278" width="1" height="14" fill="#000096"/>
<rect x="487" y="309" width="1" height="8" fill="#000096"/>
<rect x="485" y="291" width="4" height="1" fill="#000096"/>
<rect x="485" y="309" width="4" height="1" fill="#000096"/>
<rect x="485" y="291" width="1" height="19" fill="#000096"/>
<rect x="488" y="291" width="1" height="19" fill="#000096"/>
<rect x="491" y="285" width="1" height="25" fill="#aa2800"/>
<rect x="489" y="285" width="5" height="19" fill="#aa2800"/>
<rect x="496" y="304" width="1" height="13" fill="#aa2800"/>
<rect x="494" y="304" width="4" height="10" fill="#aa2800"/>
<rect x="500" y="313" width="1" height="13" fill="#aa2800"/>
<rect x="498" y="313" width="4" height="13" fill="#aa2800"/>
<rect x="504" y="312" width="1" height="14" fill="#000096"/>
<rect x="502" y="318" width="4" height="1" fill="#000096"/>
<rect x="508" y="307" width="1" height="26" fill="#aa2800"/>
<rect x="506" y="313" width="4" height="16" fill="#aa2800"/>
<rect x="510" y="309" width="5" height="1" fill="#000096"/>
<rect x="510" y="328" width="5" height="1" fill="#000096"/>
<rect x="510" y="309" width="1" height="20" fill="#000096"/>
<rect x="514" y="309" width="1" height="20" fill="#000096"/>
<rect x="518" y="310" width="1" height="10" fill="#aa2800"/>
<rect x="516" y="310" width="4" height="4" fill="#aa2800"/>
<rect x="522" y="294" width="1" height="4" fill="#000096"/>
<rect x="522" y="312" width="1" height="8" fill="#000096"/>
<rect x="520" y="297" width="4" height="1" fill="#000096"/>
<rect x="520" y="312" width="4" height="1" fill="#000096"/>
<rect x="520" y="297" width="1" height="16" fill="#000096"/>
<rect x="523" y="297" width="1" height="16" fill="#000096"/>
<rect x="526" y="300" width="1" height="7" fill="#000096"/>
<rect x="524" y="296" width="4" height="1" fill="#000096"/>
<rect x="524" y="300" width="4" height="1" fill="#000096"/>
<rect x="524" y="296" width="1" height="5" fill="#000096"/>
<rect x="527" y="296" width="1" height="5" fill="#000096"/>
<rect x="530" y="288" width="1" height="17" fill="#000096"/>
<rect x="528" y="294" width="5" height="4" fill="#000096"/>
<rect x="535" y="288" width="1" height="23" fill="#aa2800"/>
<rect x="533" y="297" width="4" height="7" fill="#aa2800"/>
<rect x="539" y="285" width="1" height="10" fill="#000096"/>
<rect x="539" y="306" width="1" height="5" fill="#000096"/>
<rect x="537" y="294" width="5" height="1" fill="#000096"/>
<rect x="537" y="306" width="5" height="1" fill="#000096"/>
<rect x="537" y="294" width="1" height="13" fill="#000096"/>
<rect x="541" y="294" width="1" height="13" fill="#000096"/>
<rect x="544" y="285" width="1" height="5" fill="#000096"/>
<rect x="544" y="291" width="1" height="4" fill="#000096"/>
<rect x="542" y="289" width="4" height="1" fill="#000096"/>
<rect x="542" y="291" width="4" height="1" fill="#000096"/>
<rect x="542" y="289" width="1" height="3" fill="#000096"/>
<rect x="545" y="289" width="1" height="3" fill="#000096"/>
<rect x="548" y="290" width="1" height="10" fill="#aa2800"/>
<rect x="546" y="290" width="4" height="1" fill="#aa2800"/>
<rect x="552" y="288" width="1" height="9" fill="#aa2800"/>
<rect x="550" y="288" width="5" height="3" fill="#aa2800"/>
<rect x="557" y="288" width="1" height="4" fill="#aa2800"/>
<rect x="557" y="296" width="1" height="11" fill="#aa2800"/>
<rect x="555" y="291" width="4" height="1" fill="#aa2800"/>
<rect x="555" y="296" width="4" height="1" fill="#aa2800"/>
<rect x="555" y="291" width="1" height="6" fill="#aa2800"/>
<rect x="558" y="291" width="1" height="6" fill="#aa2800"/>
<rect x="561" y="291" width="1" height="4" fill="#000096"/>
<rect x="559" y="251" width="5" height="1" fill="#000096"/>
<rect x="559" y="291" width="5" height="1" fill="#000096"/>
<rect x="559" y="251" width="1" height="41" fill="#000096"/>
<rect x="563" y="251" width="1" height="41" fill="#000096"/>
<rect x="566" y="256" width="1" height="9" fill="#000096"/>
<rect x="564" y="234" width="4" height="1" fill="#000096"/>
<rect x="564" y="256" width="4" height="1" fill="#000096"/>
<rect x="564" y="234" width="1" height="23" fill="#000096"/>
<rect x="567" y="234" width="1" height="23" fill="#000096"/>
<rect x="570" y="171" width="1" height="27" fill="#000096"/>
<rect x="570" y="234" width="1" height="3" fill="#000096"/>
<rect x="568" y="197" width="5" height="1" fill="#000096"/>
<rect x="568" y="234" width="5" height="1" fill="#000096"/>
<rect x="568" y="197" width="1" height="38" fill="#000096"/>
<rect x="572" y="197" width="1" height="38" fill="#000096"/>
<rect x="575" y="179" width="1" height="29" fill="#aa2800"/>
<rect x="573" y="188" width="4" height="16" fill="#aa2800"/>
<rect x="579" y="185" width="1" height="4" fill="#000096"/>
<rect x="577" y="188" width="4" height="1" fill="#000096"/>
<rect x="577" y="200" width="4" height="1" fill="#000096"/>
<rect x="577" y="188" width="1" height="13" fill="#000096"/>
<rect x="580" y="188" width="1" height="13" fill="#000096"/>
<rect x="583" y="146" width="1" height="4" fill="#000096"/>
<rect x="583" y="185" width="1" height="13" fill="#000096"/>
<rect x="581" y="149" width="5" height="1" fill="#000096"/>
<rect x="581" y="185" width="5" height="1" fill="#000096"/>
<rect x="581" y="149" width="1" height="37" fill="#000096"/>
<rect x="585" y="149" width="1" height="37" fill="#000096"/>
<rect x="588" y="130" width="1" height="28" fill="#aa2800"/>
<rect x="586" y="143" width="4" height="13" fill="#aa2800"/>
<rect x="592" y="138" width="1" height="20" fill="#aa2800"/>
<rect x="590" y="155" width="4" height="3" fill="#aa2800"/>
<rect x="596" y="141" width="1" height="3" fill="#000096"/>
<rect x="596" y="149" width="1" height="9" fill="#000096"/>
<rect x="594" y="143" width="5" height="1" fill="#000096"/>
<rect x="594" y="149" width="5" height="1" fill="#000096"/>
<rect x="594" y="143" width="1" height="7" fill="#000096"/>
<rect x="598" y="143" width="1" height="7" fill="#000096"/>
<rect x="601" y="135" width="1" height="5" fill="#000096"/>
<rect x="601" y="144" width="1" height="3" fill="#000096"/>
<rect x="599" y="139" width="4" height="1" fill="#000096"/>
<rect x="599" y="144" width="4" height="1" fill="#000096"/>
<rect x="599" y="139" width="1" height="6" fill="#000096"/>
<rect x="602" y="139" width="1" height="6" fill="#000096"/>
<rect x="605" y="136" width="1" height="33" fill="#aa2800"/>
<rect x="603" y="136" width="4" height="20" fill="#aa2800"/>
<rect x="609" y="149" width="1" height="14" fill="#aa2800"/>
<rect x="607" y="156" width="5" height="1" fill="#aa2800"/>
<rect x="614" y="155" width="1" height="28" fill="#aa2800"/>
<rect x="612" y="157" width="4" height="20" fill="#aa2800"/>
<rect x="618" y="157" width="1" height="15" fill="#000096"/>
<rect x="616" y="171" width="5" height="1" fill="#000096"/>
<rect x="616" y="173" width="5" height="1" fill="#000096"/>
<rect x="616" y="171" width="1" height="3" fill="#000096"/>
<rect x="620" y="171" width="1" height="3" fill="#000096"/>
<rect x="623" y="156" width="1" height="5" fill="#000096"/>
<rect x="623" y="162" width="1" height="4" fill="#000096"/>
<rect x="621" y="160" width="4" height="1" fill="#000096"/>
<rect x="621" y="162" width="4" height="1" fill="#000096"/>
<rect x="621" y="160" width="1" height="3" fill="#000096"/>
<rect x="624" y="160" width="1" height="3" fill="#000096"/>
<rect x="627" y="160" width="1" height="13" fill="#aa2800"/>
<rect x="625" y="166" width="5" height="7" fill="#aa2800"/>
<rect x="632" y="166" width="1" height="23" fill="#aa2800"/>
<rect x="630" y="166" width="4" height="17" fill="#aa2800"/>
<rect x="636" y="174" width="1" height="3" fill="#000096"/>
<rect x="636" y="182" width="1" height="3" fill="#000096"/>
<rect x="634" y="176" width="5" height="1" fill="#000096"/>
<rect x="634" y="182" width="5" height="1" fill="#000096"/>
<rect x="634" y="176" width="1" height="7" fill="#000096"/>
<rect x="638" y="176" width="1" height="7" fill="#000096"/>
<rect x="641" y="175" width="1" height="17" fill="#aa2800"/>
<rect x="639" y="175" width="4" height="17" fill="#aa2800"/>
<rect x="644" y="173" width="1" height="11" fill="#000096"/>
<rect x="642" y="183" width="5" height="1" fill="#000096"/>
<rect x="642" y="188" width="5" height="1" fill="#000096"/>
<rect x="642" y="183" width="1" height="6" fill="#000096"/>
<rect x="646" y="183" width="1" height="6" fill="#000096"/>
<rect x="650" y="176" width="1" height="16" fill="#aa2800"/>
<rect x="648" y="176" width="4" height="16" fill="#aa2800"/>
<rect x="654" y="188" width="1" height="23" fill="#aa2800"/>
<rect x="652" y="188" width="4" height="23" fill="#aa2800"/>
<rect x="658" y="211" width="1" height="2" fill="#000096"/>
<rect x="656" y="188" width="4" height="1" fill="#000096"/>
<rect x="656" y="211" width="4" height="1" fill="#000096"/>
<rect x="656" y="188" width="1" height="24" fill="#000096"/>
<rect x="659" y="188" width="1" height="24" fill="#000096"/>
<line x1="22.9" y1="589.1" x2="631.6" y2="389.9" stroke="#ff00ff" stroke-width="1" stroke-dasharray="18.94 6.31"/>
<clipPath id="pc"><rect x="0" y="112" width="674" height="518"/></clipPath>
<g clip-path="url(#pc)">
<line x1="331.8" y1="637.3" x2="634.3" y2="523.8" stroke="#6464c4" stroke-width="1" stroke-dasharray="19.23 6.41"/>
<ellipse cx="616.3" cy="178.3" rx="68.2" ry="59" fill="none" stroke="#ff00ff" stroke-width="1"/>
</g>
<line x1="443.1" y1="269.9" x2="535.2" y2="292.9" stroke="#0000ff" stroke-width="1"/>
<line x1="429.1" y1="312.8" x2="529.9" y2="338.1" stroke="#0000ff" stroke-width="1"/>
<polygon points="406.2,321 396.9,321 399.9,324.3 393.1,330.6 396,333.7 402.5,327 406.2,330.3" fill="#0000ff" shape-rendering="auto"/>
<rect x="0" y="710" width="1" height="3" fill="#e0805a"/>
<rect x="1" y="709" width="2" height="4" fill="#e0805a"/>
<rect x="0" y="712" width="3" height="1" fill="#e0805a"/>
<rect x="5" y="709" width="1" height="4" fill="#7474c8"/>
<rect x="6" y="708" width="2" height="5" fill="#7474c8"/>
<rect x="5" y="712" width="3" height="1" fill="#e0805a"/>
<rect x="9" y="707" width="1" height="6" fill="#7474c8"/>
<rect x="10" y="706" width="2" height="7" fill="#7474c8"/>
<rect x="9" y="712" width="3" height="1" fill="#e0805a"/>
<rect x="13" y="686" width="1" height="27" fill="#7474c8"/>
<rect x="14" y="685" width="2" height="28" fill="#7474c8"/>
<rect x="13" y="712" width="3" height="1" fill="#e0805a"/>
<rect x="18" y="701" width="1" height="12" fill="#e0805a"/>
<rect x="19" y="700" width="2" height="13" fill="#e0805a"/>
<rect x="18" y="712" width="3" height="1" fill="#e0805a"/>
<rect x="22" y="711" width="1" height="2" fill="#e0805a"/>
<rect x="23" y="710" width="2" height="3" fill="#e0805a"/>
<rect x="22" y="712" width="3" height="1" fill="#e0805a"/>
<rect x="27" y="708" width="1" height="5" fill="#e0805a"/>
<rect x="28" y="707" width="2" height="6" fill="#e0805a"/>
<rect x="27" y="712" width="3" height="1" fill="#e0805a"/>
<rect x="31" y="708" width="1" height="5" fill="#e0805a"/>
<rect x="32" y="707" width="2" height="6" fill="#e0805a"/>
<rect x="31" y="712" width="3" height="1" fill="#e0805a"/>
<rect x="36" y="702" width="1" height="11" fill="#e0805a"/>
<rect x="37" y="701" width="2" height="12" fill="#e0805a"/>
<rect x="36" y="712" width="3" height="1" fill="#e0805a"/>
<rect x="41" y="705" width="1" height="8" fill="#e0805a"/>
<rect x="42" y="704" width="2" height="9" fill="#e0805a"/>
<rect x="41" y="712" width="3" height="1" fill="#e0805a"/>
<rect x="44" y="701" width="1" height="12" fill="#7474c8"/>
<rect x="45" y="700" width="2" height="13" fill="#7474c8"/>
<rect x="44" y="712" width="3" height="1" fill="#e0805a"/>
<rect x="49" y="711" width="1" height="2" fill="#7474c8"/>
<rect x="50" y="710" width="2" height="3" fill="#7474c8"/>
<rect x="49" y="712" width="3" height="1" fill="#e0805a"/>
<rect x="54" y="709" width="1" height="4" fill="#7474c8"/>
<rect x="55" y="708" width="2" height="5" fill="#7474c8"/>
<rect x="54" y="712" width="3" height="1" fill="#e0805a"/>
<rect x="58" y="700" width="1" height="13" fill="#7474c8"/>
<rect x="59" y="699" width="2" height="14" fill="#7474c8"/>
<rect x="58" y="712" width="3" height="1" fill="#e0805a"/>
<rect x="63" y="711" width="1" height="2" fill="#e0805a"/>
<rect x="64" y="710" width="2" height="3" fill="#e0805a"/>
<rect x="63" y="712" width="3" height="1" fill="#e0805a"/>
<rect x="66" y="711" width="1" height="2" fill="#e0805a"/>
<rect x="67" y="710" width="2" height="3" fill="#e0805a"/>
<rect x="66" y="712" width="3" height="1" fill="#e0805a"/>
<rect x="71" y="711" width="1" height="2" fill="#7474c8"/>
<rect x="72" y="710" width="2" height="3" fill="#7474c8"/>
<rect x="71" y="712" width="3" height="1" fill="#e0805a"/>
<rect x="76" y="712" width="1" height="1" fill="#e0805a"/>
<rect x="77" y="711" width="2" height="2" fill="#e0805a"/>
<rect x="76" y="712" width="3" height="1" fill="#e0805a"/>
<rect x="80" y="712" width="1" height="1" fill="#e0805a"/>
<rect x="81" y="711" width="2" height="2" fill="#e0805a"/>
<rect x="80" y="712" width="3" height="1" fill="#e0805a"/>
<rect x="85" y="711" width="1" height="2" fill="#7474c8"/>
<rect x="86" y="710" width="2" height="3" fill="#7474c8"/>
<rect x="85" y="712" width="3" height="1" fill="#e0805a"/>
<rect x="88" y="709" width="1" height="4" fill="#7474c8"/>
<rect x="89" y="708" width="2" height="5" fill="#7474c8"/>
<rect x="88" y="712" width="3" height="1" fill="#e0805a"/>
<rect x="93" y="708" width="1" height="5" fill="#7474c8"/>
<rect x="94" y="707" width="2" height="6" fill="#7474c8"/>
<rect x="93" y="712" width="3" height="1" fill="#e0805a"/>
<rect x="98" y="711" width="1" height="2" fill="#7474c8"/>
<rect x="99" y="710" width="2" height="3" fill="#7474c8"/>
<rect x="98" y="712" width="3" height="1" fill="#e0805a"/>
<rect x="102" y="708" width="1" height="5" fill="#7474c8"/>
<rect x="103" y="707" width="2" height="6" fill="#7474c8"/>
<rect x="102" y="712" width="3" height="1" fill="#e0805a"/>
<rect x="107" y="710" width="1" height="3" fill="#e0805a"/>
<rect x="108" y="709" width="2" height="4" fill="#e0805a"/>
<rect x="107" y="712" width="3" height="1" fill="#e0805a"/>
<rect x="111" y="712" width="1" height="1" fill="#e0805a"/>
<rect x="112" y="711" width="2" height="2" fill="#e0805a"/>
<rect x="111" y="712" width="3" height="1" fill="#e0805a"/>
<rect x="116" y="711" width="1" height="2" fill="#e0805a"/>
<rect x="117" y="710" width="2" height="3" fill="#e0805a"/>
<rect x="116" y="712" width="3" height="1" fill="#e0805a"/>
<rect x="119" y="712" width="1" height="1" fill="#e0805a"/>
<rect x="120" y="711" width="2" height="2" fill="#e0805a"/>
<rect x="119" y="712" width="3" height="1" fill="#e0805a"/>
<rect x="124" y="712" width="1" height="1" fill="#7474c8"/>
<rect x="125" y="711" width="2" height="2" fill="#7474c8"/>
<rect x="124" y="712" width="3" height="1" fill="#e0805a"/>
<rect x="128" y="712" width="1" height="1" fill="#7474c8"/>
<rect x="129" y="711" width="2" height="2" fill="#7474c8"/>
<rect x="128" y="712" width="3" height="1" fill="#e0805a"/>
<rect x="133" y="711" width="1" height="2" fill="#e0805a"/>
<rect x="134" y="710" width="2" height="3" fill="#e0805a"/>
<rect x="133" y="712" width="3" height="1" fill="#e0805a"/>
<rect x="138" y="710" width="1" height="3" fill="#7474c8"/>
<rect x="139" y="709" width="2" height="4" fill="#7474c8"/>
<rect x="138" y="712" width="3" height="1" fill="#e0805a"/>
<rect x="141" y="712" width="1" height="1" fill="#7474c8"/>
<rect x="142" y="711" width="2" height="2" fill="#7474c8"/>
<rect x="141" y="712" width="3" height="1" fill="#e0805a"/>
<rect x="146" y="709" width="1" height="4" fill="#7474c8"/>
<rect x="147" y="708" width="2" height="5" fill="#7474c8"/>
<rect x="146" y="712" width="3" height="1" fill="#e0805a"/>
<rect x="151" y="712" width="1" height="1" fill="#e0805a"/>
<rect x="152" y="711" width="2" height="2" fill="#e0805a"/>
<rect x="151" y="712" width="3" height="1" fill="#e0805a"/>
<rect x="155" y="706" width="1" height="7" fill="#7474c8"/>
<rect x="156" y="705" width="2" height="8" fill="#7474c8"/>
<rect x="155" y="712" width="3" height="1" fill="#e0805a"/>
<rect x="160" y="705" width="1" height="8" fill="#e0805a"/>
<rect x="161" y="704" width="2" height="9" fill="#e0805a"/>
<rect x="160" y="712" width="3" height="1" fill="#e0805a"/>
<rect x="163" y="709" width="1" height="4" fill="#7474c8"/>
<rect x="164" y="708" width="2" height="5" fill="#7474c8"/>
<rect x="163" y="712" width="3" height="1" fill="#e0805a"/>
<rect x="169" y="707" width="1" height="6" fill="#7474c8"/>
<rect x="170" y="706" width="2" height="7" fill="#7474c8"/>
<rect x="169" y="712" width="3" height="1" fill="#e0805a"/>
<rect x="172" y="711" width="1" height="2" fill="#e0805a"/>
<rect x="173" y="710" width="2" height="3" fill="#e0805a"/>
<rect x="172" y="712" width="3" height="1" fill="#e0805a"/>
<rect x="177" y="710" width="1" height="3" fill="#e0805a"/>
<rect x="178" y="709" width="2" height="4" fill="#e0805a"/>
<rect x="177" y="712" width="3" height="1" fill="#e0805a"/>
<rect x="181" y="710" width="1" height="3" fill="#e0805a"/>
<rect x="182" y="709" width="2" height="4" fill="#e0805a"/>
<rect x="181" y="712" width="3" height="1" fill="#e0805a"/>
<rect x="186" y="709" width="1" height="4" fill="#e0805a"/>
<rect x="187" y="708" width="2" height="5" fill="#e0805a"/>
<rect x="186" y="712" width="3" height="1" fill="#e0805a"/>
<rect x="191" y="709" width="1" height="4" fill="#e0805a"/>
<rect x="192" y="708" width="2" height="5" fill="#e0805a"/>
<rect x="191" y="712" width="3" height="1" fill="#e0805a"/>
<rect x="194" y="706" width="1" height="7" fill="#7474c8"/>
<rect x="195" y="705" width="2" height="8" fill="#7474c8"/>
<rect x="194" y="712" width="3" height="1" fill="#e0805a"/>
<rect x="199" y="702" width="1" height="11" fill="#7474c8"/>
<rect x="200" y="701" width="2" height="12" fill="#7474c8"/>
<rect x="199" y="712" width="3" height="1" fill="#e0805a"/>
<rect x="203" y="704" width="1" height="9" fill="#7474c8"/>
<rect x="204" y="703" width="2" height="10" fill="#7474c8"/>
<rect x="203" y="712" width="3" height="1" fill="#e0805a"/>
<rect x="208" y="708" width="1" height="5" fill="#7474c8"/>
<rect x="209" y="707" width="2" height="6" fill="#7474c8"/>
<rect x="208" y="712" width="3" height="1" fill="#e0805a"/>
<rect x="212" y="710" width="1" height="3" fill="#e0805a"/>
<rect x="213" y="709" width="2" height="4" fill="#e0805a"/>
<rect x="212" y="712" width="3" height="1" fill="#e0805a"/>
<rect x="216" y="706" width="1" height="7" fill="#7474c8"/>
<rect x="217" y="705" width="2" height="8" fill="#7474c8"/>
<rect x="216" y="712" width="3" height="1" fill="#e0805a"/>
<rect x="221" y="698" width="1" height="15" fill="#7474c8"/>
<rect x="222" y="697" width="2" height="16" fill="#7474c8"/>
<rect x="221" y="712" width="3" height="1" fill="#e0805a"/>
<rect x="226" y="702" width="1" height="11" fill="#7474c8"/>
<rect x="227" y="701" width="2" height="12" fill="#7474c8"/>
<rect x="226" y="712" width="3" height="1" fill="#e0805a"/>
<rect x="230" y="689" width="1" height="24" fill="#7474c8"/>
<rect x="231" y="688" width="2" height="25" fill="#7474c8"/>
<rect x="230" y="712" width="3" height="1" fill="#e0805a"/>
<rect x="234" y="701" width="1" height="12" fill="#e0805a"/>
<rect x="235" y="700" width="2" height="13" fill="#e0805a"/>
<rect x="234" y="712" width="3" height="1" fill="#e0805a"/>
<rect x="239" y="702" width="1" height="11" fill="#e0805a"/>
<rect x="240" y="701" width="2" height="12" fill="#e0805a"/>
<rect x="239" y="712" width="3" height="1" fill="#e0805a"/>
<rect x="243" y="710" width="1" height="3" fill="#7474c8"/>
<rect x="244" y="709" width="2" height="4" fill="#7474c8"/>
<rect x="243" y="712" width="3" height="1" fill="#e0805a"/>
<rect x="248" y="707" width="1" height="6" fill="#e0805a"/>
<rect x="249" y="706" width="2" height="7" fill="#e0805a"/>
<rect x="248" y="712" width="3" height="1" fill="#e0805a"/>
<rect x="252" y="705" width="1" height="8" fill="#7474c8"/>
<rect x="253" y="704" width="2" height="9" fill="#7474c8"/>
<rect x="252" y="712" width="3" height="1" fill="#e0805a"/>
<rect x="256" y="697" width="1" height="16" fill="#7474c8"/>
<rect x="257" y="696" width="2" height="17" fill="#7474c8"/>
<rect x="256" y="712" width="3" height="1" fill="#e0805a"/>
<rect x="261" y="708" width="1" height="5" fill="#e0805a"/>
<rect x="262" y="707" width="2" height="6" fill="#e0805a"/>
<rect x="261" y="712" width="3" height="1" fill="#e0805a"/>
<rect x="265" y="702" width="1" height="11" fill="#7474c8"/>
<rect x="266" y="701" width="2" height="12" fill="#7474c8"/>
<rect x="265" y="712" width="3" height="1" fill="#e0805a"/>
<rect x="269" y="698" width="1" height="15" fill="#7474c8"/>
<rect x="270" y="697" width="2" height="16" fill="#7474c8"/>
<rect x="269" y="712" width="3" height="1" fill="#e0805a"/>
<rect x="274" y="705" width="1" height="8" fill="#e0805a"/>
<rect x="275" y="704" width="2" height="9" fill="#e0805a"/>
<rect x="274" y="712" width="3" height="1" fill="#e0805a"/>
<rect x="278" y="709" width="1" height="4" fill="#7474c8"/>
<rect x="279" y="708" width="2" height="5" fill="#7474c8"/>
<rect x="278" y="712" width="3" height="1" fill="#e0805a"/>
<rect x="282" y="708" width="1" height="5" fill="#7474c8"/>
<rect x="283" y="707" width="2" height="6" fill="#7474c8"/>
<rect x="282" y="712" width="3" height="1" fill="#e0805a"/>
<rect x="287" y="706" width="1" height="7" fill="#e0805a"/>
<rect x="288" y="705" width="2" height="8" fill="#e0805a"/>
<rect x="287" y="712" width="3" height="1" fill="#e0805a"/>
<rect x="292" y="702" width="1" height="11" fill="#e0805a"/>
<rect x="293" y="701" width="2" height="12" fill="#e0805a"/>
<rect x="292" y="712" width="3" height="1" fill="#e0805a"/>
<rect x="297" y="707" width="1" height="6" fill="#7474c8"/>
<rect x="298" y="706" width="2" height="7" fill="#7474c8"/>
<rect x="297" y="712" width="3" height="1" fill="#e0805a"/>
<rect x="301" y="694" width="1" height="19" fill="#7474c8"/>
<rect x="302" y="693" width="2" height="20" fill="#7474c8"/>
<rect x="301" y="712" width="3" height="1" fill="#e0805a"/>
<rect x="305" y="707" width="1" height="6" fill="#e0805a"/>
<rect x="306" y="706" width="2" height="7" fill="#e0805a"/>
<rect x="305" y="712" width="3" height="1" fill="#e0805a"/>
<rect x="309" y="709" width="1" height="4" fill="#e0805a"/>
<rect x="310" y="708" width="2" height="5" fill="#e0805a"/>
<rect x="309" y="712" width="3" height="1" fill="#e0805a"/>
<rect x="314" y="701" width="1" height="12" fill="#7474c8"/>
<rect x="315" y="700" width="2" height="13" fill="#7474c8"/>
<rect x="314" y="712" width="3" height="1" fill="#e0805a"/>
<rect x="318" y="707" width="1" height="6" fill="#7474c8"/>
<rect x="319" y="706" width="2" height="7" fill="#7474c8"/>
<rect x="318" y="712" width="3" height="1" fill="#e0805a"/>
<rect x="322" y="704" width="1" height="9" fill="#7474c8"/>
<rect x="323" y="703" width="2" height="10" fill="#7474c8"/>
<rect x="322" y="712" width="3" height="1" fill="#e0805a"/>
<rect x="327" y="702" width="1" height="11" fill="#7474c8"/>
<rect x="328" y="701" width="2" height="12" fill="#7474c8"/>
<rect x="327" y="712" width="3" height="1" fill="#e0805a"/>
<rect x="331" y="696" width="1" height="17" fill="#7474c8"/>
<rect x="332" y="695" width="2" height="18" fill="#7474c8"/>
<rect x="331" y="712" width="3" height="1" fill="#e0805a"/>
<rect x="336" y="707" width="1" height="6" fill="#e0805a"/>
<rect x="337" y="706" width="2" height="7" fill="#e0805a"/>
<rect x="336" y="712" width="3" height="1" fill="#e0805a"/>
<rect x="340" y="697" width="1" height="16" fill="#e0805a"/>
<rect x="341" y="696" width="2" height="17" fill="#e0805a"/>
<rect x="340" y="712" width="3" height="1" fill="#e0805a"/>
<rect x="345" y="693" width="1" height="20" fill="#7474c8"/>
<rect x="346" y="692" width="2" height="21" fill="#7474c8"/>
<rect x="345" y="712" width="3" height="1" fill="#e0805a"/>
<rect x="348" y="685" width="1" height="28" fill="#e0805a"/>
<rect x="349" y="684" width="2" height="29" fill="#e0805a"/>
<rect x="348" y="712" width="3" height="1" fill="#e0805a"/>
<rect x="353" y="696" width="1" height="17" fill="#e0805a"/>
<rect x="354" y="695" width="2" height="18" fill="#e0805a"/>
<rect x="353" y="712" width="3" height="1" fill="#e0805a"/>
<rect x="358" y="707" width="1" height="6" fill="#7474c8"/>
<rect x="359" y="706" width="2" height="7" fill="#7474c8"/>
<rect x="358" y="712" width="3" height="1" fill="#e0805a"/>
<rect x="362" y="699" width="1" height="14" fill="#7474c8"/>
<rect x="363" y="698" width="2" height="15" fill="#7474c8"/>
<rect x="362" y="712" width="3" height="1" fill="#e0805a"/>
<rect x="366" y="677" width="1" height="36" fill="#7474c8"/>
<rect x="367" y="676" width="2" height="37" fill="#7474c8"/>
<rect x="366" y="712" width="3" height="1" fill="#e0805a"/>
<rect x="371" y="702" width="1" height="11" fill="#e0805a"/>
<rect x="372" y="701" width="2" height="12" fill="#e0805a"/>
<rect x="371" y="712" width="3" height="1" fill="#e0805a"/>
<rect x="375" y="701" width="1" height="12" fill="#7474c8"/>
<rect x="376" y="700" width="2" height="13" fill="#7474c8"/>
<rect x="375" y="712" width="3" height="1" fill="#e0805a"/>
<rect x="380" y="702" width="1" height="11" fill="#e0805a"/>
<rect x="381" y="701" width="2" height="12" fill="#e0805a"/>
<rect x="380" y="712" width="3" height="1" fill="#e0805a"/>
<rect x="384" y="709" width="1" height="4" fill="#7474c8"/>
<rect x="385" y="708" width="2" height="5" fill="#7474c8"/>
<rect x="384" y="712" width="3" height="1" fill="#e0805a"/>
<rect x="389" y="705" width="1" height="8" fill="#e0805a"/>
<rect x="390" y="704" width="2" height="9" fill="#e0805a"/>
<rect x="389" y="712" width="3" height="1" fill="#e0805a"/>
<rect x="392" y="691" width="1" height="22" fill="#7474c8"/>
<rect x="393" y="690" width="2" height="23" fill="#7474c8"/>
<rect x="392" y="712" width="3" height="1" fill="#e0805a"/>
<rect x="397" y="693" width="1" height="20" fill="#e0805a"/>
<rect x="398" y="692" width="2" height="21" fill="#e0805a"/>
<rect x="397" y="712" width="3" height="1" fill="#e0805a"/>
<rect x="401" y="705" width="1" height="8" fill="#7474c8"/>
<rect x="402" y="704" width="2" height="9" fill="#7474c8"/>
<rect x="401" y="712" width="3" height="1" fill="#e0805a"/>
<rect x="406" y="703" width="1" height="10" fill="#e0805a"/>
<rect x="407" y="702" width="2" height="11" fill="#e0805a"/>
<rect x="406" y="712" width="3" height="1" fill="#e0805a"/>
<rect x="411" y="706" width="1" height="7" fill="#e0805a"/>
<rect x="412" y="705" width="2" height="8" fill="#e0805a"/>
<rect x="411" y="712" width="3" height="1" fill="#e0805a"/>
<rect x="415" y="704" width="1" height="9" fill="#7474c8"/>
<rect x="416" y="703" width="2" height="10" fill="#7474c8"/>
<rect x="415" y="712" width="3" height="1" fill="#e0805a"/>
<rect x="419" y="709" width="1" height="4" fill="#7474c8"/>
<rect x="420" y="708" width="2" height="5" fill="#7474c8"/>
<rect x="419" y="712" width="3" height="1" fill="#e0805a"/>
<rect x="423" y="692" width="1" height="21" fill="#7474c8"/>
<rect x="424" y="691" width="2" height="22" fill="#7474c8"/>
<rect x="423" y="712" width="3" height="1" fill="#e0805a"/>
<rect x="428" y="702" width="1" height="11" fill="#7474c8"/>
<rect x="429" y="701" width="2" height="12" fill="#7474c8"/>
<rect x="428" y="712" width="3" height="1" fill="#e0805a"/>
<rect x="433" y="692" width="1" height="21" fill="#7474c8"/>
<rect x="434" y="691" width="2" height="22" fill="#7474c8"/>
<rect x="433" y="712" width="3" height="1" fill="#e0805a"/>
<rect x="437" y="688" width="1" height="25" fill="#7474c8"/>
<rect x="438" y="687" width="2" height="26" fill="#7474c8"/>
<rect x="437" y="712" width="3" height="1" fill="#e0805a"/>
<rect x="441" y="657" width="1" height="56" fill="#7474c8"/>
<rect x="442" y="656" width="2" height="57" fill="#7474c8"/>
<rect x="441" y="712" width="3" height="1" fill="#e0805a"/>
<rect x="446" y="663" width="1" height="50" fill="#7474c8"/>
<rect x="447" y="662" width="2" height="51" fill="#7474c8"/>
<rect x="446" y="712" width="3" height="1" fill="#e0805a"/>
<rect x="450" y="693" width="1" height="20" fill="#e0805a"/>
<rect x="451" y="692" width="2" height="21" fill="#e0805a"/>
<rect x="450" y="712" width="3" height="1" fill="#e0805a"/>
<rect x="454" y="684" width="1" height="29" fill="#7474c8"/>
<rect x="455" y="683" width="2" height="30" fill="#7474c8"/>
<rect x="454" y="712" width="3" height="1" fill="#e0805a"/>
<rect x="459" y="707" width="1" height="6" fill="#e0805a"/>
<rect x="460" y="706" width="2" height="7" fill="#e0805a"/>
<rect x="459" y="712" width="3" height="1" fill="#e0805a"/>
<rect x="464" y="704" width="1" height="9" fill="#e0805a"/>
<rect x="465" y="703" width="2" height="10" fill="#e0805a"/>
<rect x="464" y="712" width="3" height="1" fill="#e0805a"/>
<rect x="469" y="710" width="1" height="3" fill="#e0805a"/>
<rect x="470" y="709" width="2" height="4" fill="#e0805a"/>
<rect x="469" y="712" width="3" height="1" fill="#e0805a"/>
<rect x="473" y="703" width="1" height="10" fill="#e0805a"/>
<rect x="474" y="702" width="2" height="11" fill="#e0805a"/>
<rect x="473" y="712" width="3" height="1" fill="#e0805a"/>
<rect x="477" y="709" width="1" height="4" fill="#7474c8"/>
<rect x="478" y="708" width="2" height="5" fill="#7474c8"/>
<rect x="477" y="712" width="3" height="1" fill="#e0805a"/>
<rect x="481" y="712" width="1" height="1" fill="#e0805a"/>
<rect x="482" y="711" width="2" height="2" fill="#e0805a"/>
<rect x="481" y="712" width="3" height="1" fill="#e0805a"/>
<rect x="486" y="696" width="1" height="17" fill="#7474c8"/>
<rect x="487" y="695" width="2" height="18" fill="#7474c8"/>
<rect x="486" y="712" width="3" height="1" fill="#e0805a"/>
<rect x="490" y="684" width="1" height="29" fill="#e0805a"/>
<rect x="491" y="683" width="2" height="30" fill="#e0805a"/>
<rect x="490" y="712" width="3" height="1" fill="#e0805a"/>
<rect x="495" y="706" width="1" height="7" fill="#e0805a"/>
<rect x="496" y="705" width="2" height="8" fill="#e0805a"/>
<rect x="495" y="712" width="3" height="1" fill="#e0805a"/>
<rect x="499" y="705" width="1" height="8" fill="#e0805a"/>
<rect x="500" y="704" width="2" height="9" fill="#e0805a"/>
<rect x="499" y="712" width="3" height="1" fill="#e0805a"/>
<rect x="503" y="709" width="1" height="4" fill="#7474c8"/>
<rect x="504" y="708" width="2" height="5" fill="#7474c8"/>
<rect x="503" y="712" width="3" height="1" fill="#e0805a"/>
<rect x="507" y="686" width="1" height="27" fill="#e0805a"/>
<rect x="508" y="685" width="2" height="28" fill="#e0805a"/>
<rect x="507" y="712" width="3" height="1" fill="#e0805a"/>
<rect x="511" y="667" width="1" height="46" fill="#7474c8"/>
<rect x="512" y="666" width="2" height="47" fill="#7474c8"/>
<rect x="511" y="712" width="3" height="1" fill="#e0805a"/>
<rect x="517" y="701" width="1" height="12" fill="#e0805a"/>
<rect x="518" y="700" width="2" height="13" fill="#e0805a"/>
<rect x="517" y="712" width="3" height="1" fill="#e0805a"/>
<rect x="521" y="688" width="1" height="25" fill="#7474c8"/>
<rect x="522" y="687" width="2" height="26" fill="#7474c8"/>
<rect x="521" y="712" width="3" height="1" fill="#e0805a"/>
<rect x="525" y="703" width="1" height="10" fill="#7474c8"/>
<rect x="526" y="702" width="2" height="11" fill="#7474c8"/>
<rect x="525" y="712" width="3" height="1" fill="#e0805a"/>
<rect x="529" y="704" width="1" height="9" fill="#7474c8"/>
<rect x="530" y="703" width="2" height="10" fill="#7474c8"/>
<rect x="529" y="712" width="3" height="1" fill="#e0805a"/>
<rect x="534" y="699" width="1" height="14" fill="#e0805a"/>
<rect x="535" y="698" width="2" height="15" fill="#e0805a"/>
<rect x="534" y="712" width="3" height="1" fill="#e0805a"/>
<rect x="538" y="697" width="1" height="16" fill="#7474c8"/>
<rect x="539" y="696" width="2" height="17" fill="#7474c8"/>
<rect x="538" y="712" width="3" height="1" fill="#e0805a"/>
<rect x="543" y="703" width="1" height="10" fill="#7474c8"/>
<rect x="544" y="702" width="2" height="11" fill="#7474c8"/>
<rect x="543" y="712" width="3" height="1" fill="#e0805a"/>
<rect x="547" y="708" width="1" height="5" fill="#e0805a"/>
<rect x="548" y="707" width="2" height="6" fill="#e0805a"/>
<rect x="547" y="712" width="3" height="1" fill="#e0805a"/>
<rect x="551" y="710" width="1" height="3" fill="#7474c8"/>
<rect x="552" y="709" width="2" height="4" fill="#7474c8"/>
<rect x="551" y="712" width="3" height="1" fill="#e0805a"/>
<rect x="556" y="697" width="1" height="16" fill="#7474c8"/>
<rect x="557" y="696" width="2" height="17" fill="#7474c8"/>
<rect x="556" y="712" width="3" height="1" fill="#e0805a"/>
<rect x="560" y="662" width="1" height="51" fill="#7474c8"/>
<rect x="561" y="661" width="2" height="52" fill="#7474c8"/>
<rect x="560" y="712" width="3" height="1" fill="#e0805a"/>
<rect x="565" y="681" width="1" height="32" fill="#7474c8"/>
<rect x="566" y="680" width="2" height="33" fill="#7474c8"/>
<rect x="565" y="712" width="3" height="1" fill="#e0805a"/>
<rect x="569" y="637" width="1" height="76" fill="#7474c8"/>
<rect x="570" y="636" width="2" height="77" fill="#7474c8"/>
<rect x="569" y="712" width="3" height="1" fill="#e0805a"/>
<rect x="574" y="698" width="1" height="15" fill="#e0805a"/>
<rect x="575" y="697" width="2" height="16" fill="#e0805a"/>
<rect x="574" y="712" width="3" height="1" fill="#e0805a"/>
<rect x="578" y="702" width="1" height="11" fill="#7474c8"/>
<rect x="579" y="701" width="2" height="12" fill="#7474c8"/>
<rect x="578" y="712" width="3" height="1" fill="#e0805a"/>
<rect x="582" y="663" width="1" height="50" fill="#7474c8"/>
<rect x="583" y="662" width="2" height="51" fill="#7474c8"/>
<rect x="582" y="712" width="3" height="1" fill="#e0805a"/>
<rect x="587" y="682" width="1" height="31" fill="#e0805a"/>
<rect x="588" y="681" width="2" height="32" fill="#e0805a"/>
<rect x="587" y="712" width="3" height="1" fill="#e0805a"/>
<rect x="591" y="704" width="1" height="9" fill="#7474c8"/>
<rect x="592" y="703" width="2" height="10" fill="#7474c8"/>
<rect x="591" y="712" width="3" height="1" fill="#e0805a"/>
<rect x="595" y="704" width="1" height="9" fill="#7474c8"/>
<rect x="596" y="703" width="2" height="10" fill="#7474c8"/>
<rect x="595" y="712" width="3" height="1" fill="#e0805a"/>
<rect x="600" y="699" width="1" height="14" fill="#7474c8"/>
<rect x="601" y="698" width="2" height="15" fill="#7474c8"/>
<rect x="600" y="712" width="3" height="1" fill="#e0805a"/>
<rect x="604" y="700" width="1" height="13" fill="#e0805a"/>
<rect x="605" y="699" width="2" height="14" fill="#e0805a"/>
<rect x="604" y="712" width="3" height="1" fill="#e0805a"/>
<rect x="608" y="707" width="1" height="6" fill="#e0805a"/>
<rect x="609" y="706" width="2" height="7" fill="#e0805a"/>
<rect x="608" y="712" width="3" height="1" fill="#e0805a"/>
<rect x="613" y="692" width="1" height="21" fill="#e0805a"/>
<rect x="614" y="691" width="2" height="22" fill="#e0805a"/>
<rect x="613" y="712" width="3" height="1" fill="#e0805a"/>
<rect x="617" y="703" width="1" height="10" fill="#7474c8"/>
<rect x="618" y="702" width="2" height="11" fill="#7474c8"/>
<rect x="617" y="712" width="3" height="1" fill="#e0805a"/>
<rect x="622" y="709" width="1" height="4" fill="#7474c8"/>
<rect x="623" y="708" width="2" height="5" fill="#7474c8"/>
<rect x="622" y="712" width="3" height="1" fill="#e0805a"/>
<rect x="626" y="704" width="1" height="9" fill="#e0805a"/>
<rect x="627" y="703" width="2" height="10" fill="#e0805a"/>
<rect x="626" y="712" width="3" height="1" fill="#e0805a"/>
<rect x="631" y="692" width="1" height="21" fill="#e0805a"/>
<rect x="632" y="691" width="2" height="22" fill="#e0805a"/>
<rect x="631" y="712" width="3" height="1" fill="#e0805a"/>
<rect x="635" y="705" width="1" height="8" fill="#7474c8"/>
<rect x="636" y="704" width="2" height="9" fill="#7474c8"/>
<rect x="635" y="712" width="3" height="1" fill="#e0805a"/>
<rect x="640" y="707" width="1" height="6" fill="#e0805a"/>
<rect x="641" y="706" width="2" height="7" fill="#e0805a"/>
<rect x="640" y="712" width="3" height="1" fill="#e0805a"/>
<rect x="643" y="684" width="1" height="29" fill="#7474c8"/>
<rect x="644" y="683" width="2" height="30" fill="#7474c8"/>
<rect x="643" y="712" width="3" height="1" fill="#e0805a"/>
<rect x="649" y="700" width="1" height="13" fill="#e0805a"/>
<rect x="650" y="699" width="2" height="14" fill="#e0805a"/>
<rect x="649" y="712" width="3" height="1" fill="#e0805a"/>
<rect x="653" y="692" width="1" height="21" fill="#e0805a"/>
<rect x="654" y="691" width="2" height="22" fill="#e0805a"/>
<rect x="653" y="712" width="3" height="1" fill="#e0805a"/>
<rect x="657" y="694" width="1" height="19" fill="#7474c8"/>
<rect x="658" y="693" width="2" height="20" fill="#7474c8"/>
<rect x="657" y="712" width="3" height="1" fill="#e0805a"/>
<rect x="0" y="0" width="723" height="1" fill="#000"/>
<rect x="0" y="111" width="723" height="1" fill="#000"/>
<rect x="0" y="630" width="683" height="1" fill="#000"/>
<rect x="0" y="713" width="675" height="1" fill="#000"/>
<rect x="674" y="0" width="1" height="714" fill="#000"/>
<rect x="675" y="19" width="7" height="1" fill="#000"/>
<text x="719" y="25.5" text-anchor="end" font-size="12" font-family="Liberation Sans, sans-serif" fill="#000" shape-rendering="auto">80</text>
<rect x="675" y="39" width="7" height="1" fill="#000"/>
<text x="719" y="45.5" text-anchor="end" font-size="12" font-family="Liberation Sans, sans-serif" fill="#000" shape-rendering="auto">70</text>
<rect x="675" y="58" width="7" height="1" fill="#000"/>
<text x="719" y="64.5" text-anchor="end" font-size="12" font-family="Liberation Sans, sans-serif" fill="#000" shape-rendering="auto">60</text>
<rect x="675" y="78" width="7" height="1" fill="#000"/>
<text x="719" y="84.5" text-anchor="end" font-size="12" font-family="Liberation Sans, sans-serif" fill="#000" shape-rendering="auto">50</text>
<rect x="675" y="97" width="7" height="1" fill="#000"/>
<text x="719" y="103.5" text-anchor="end" font-size="12" font-family="Liberation Sans, sans-serif" fill="#000" shape-rendering="auto">40</text>
<rect x="675" y="9" width="3" height="1" fill="#000"/>
<rect x="675" y="29" width="3" height="1" fill="#000"/>
<rect x="675" y="49" width="3" height="1" fill="#000"/>
<rect x="675" y="68" width="3" height="1" fill="#000"/>
<rect x="675" y="87" width="3" height="1" fill="#000"/>
<rect x="675" y="107" width="3" height="1" fill="#000"/>
<rect x="675" y="626" width="3" height="1" fill="#000"/>
<rect x="675" y="622" width="7" height="1" fill="#000"/>
<text x="720" y="627.5" text-anchor="end" font-size="12" font-family="Liberation Sans, sans-serif" fill="#000" shape-rendering="auto">2.95</text>
<rect x="675" y="618" width="3" height="1" fill="#000"/>
<rect x="675" y="614" width="3" height="1" fill="#000"/>
<rect x="675" y="610" width="3" height="1" fill="#000"/>
<rect x="675" y="606" width="3" height="1" fill="#000"/>
<rect x="675" y="602" width="7" height="1" fill="#000"/>
<text x="720" y="607.5" text-anchor="end" font-size="12" font-family="Liberation Sans, sans-serif" fill="#000" shape-rendering="auto">3.00</text>
<rect x="675" y="598" width="3" height="1" fill="#000"/>
<rect x="675" y="594" width="3" height="1" fill="#000"/>
<rect x="675" y="590" width="3" height="1" fill="#000"/>
<rect x="675" y="586" width="3" height="1" fill="#000"/>
<rect x="675" y="582" width="7" height="1" fill="#000"/>
<text x="720" y="587.5" text-anchor="end" font-size="12" font-family="Liberation Sans, sans-serif" fill="#000" shape-rendering="auto">3.05</text>
<rect x="675" y="578" width="3" height="1" fill="#000"/>
<rect x="675" y="574" width="3" height="1" fill="#000"/>
<rect x="675" y="570" width="3" height="1" fill="#000"/>
<rect x="675" y="566" width="3" height="1" fill="#000"/>
<rect x="675" y="562" width="7" height="1" fill="#000"/>
<text x="720" y="567.5" text-anchor="end" font-size="12" font-family="Liberation Sans, sans-serif" fill="#000" shape-rendering="auto">3.10</text>
<rect x="675" y="559" width="3" height="1" fill="#000"/>
<rect x="675" y="555" width="3" height="1" fill="#000"/>
<rect x="675" y="551" width="3" height="1" fill="#000"/>
<rect x="675" y="547" width="3" height="1" fill="#000"/>
<rect x="675" y="543" width="7" height="1" fill="#000"/>
<text x="720" y="548.5" text-anchor="end" font-size="12" font-family="Liberation Sans, sans-serif" fill="#000" shape-rendering="auto">3.15</text>
<rect x="675" y="539" width="3" height="1" fill="#000"/>
<rect x="675" y="536" width="3" height="1" fill="#000"/>
<rect x="675" y="532" width="3" height="1" fill="#000"/>
<rect x="675" y="528" width="3" height="1" fill="#000"/>
<rect x="675" y="524" width="7" height="1" fill="#000"/>
<text x="720" y="529.5" text-anchor="end" font-size="12" font-family="Liberation Sans, sans-serif" fill="#000" shape-rendering="auto">3.20</text>
<rect x="675" y="521" width="3" height="1" fill="#000"/>
<rect x="675" y="517" width="3" height="1" fill="#000"/>
<rect x="675" y="513" width="3" height="1" fill="#000"/>
<rect x="675" y="510" width="3" height="1" fill="#000"/>
<rect x="675" y="506" width="7" height="1" fill="#000"/>
<text x="720" y="511.5" text-anchor="end" font-size="12" font-family="Liberation Sans, sans-serif" fill="#000" shape-rendering="auto">3.25</text>
<rect x="675" y="502" width="3" height="1" fill="#000"/>
<rect x="675" y="499" width="3" height="1" fill="#000"/>
<rect x="675" y="495" width="3" height="1" fill="#000"/>
<rect x="675" y="491" width="3" height="1" fill="#000"/>
<rect x="675" y="488" width="7" height="1" fill="#000"/>
<text x="720" y="493.5" text-anchor="end" font-size="12" font-family="Liberation Sans, sans-serif" fill="#000" shape-rendering="auto">3.30</text>
<rect x="675" y="484" width="3" height="1" fill="#000"/>
<rect x="675" y="480" width="3" height="1" fill="#000"/>
<rect x="675" y="477" width="3" height="1" fill="#000"/>
<rect x="675" y="473" width="3" height="1" fill="#000"/>
<rect x="675" y="470" width="7" height="1" fill="#000"/>
<text x="720" y="475.5" text-anchor="end" font-size="12" font-family="Liberation Sans, sans-serif" fill="#000" shape-rendering="auto">3.35</text>
<rect x="675" y="466" width="3" height="1" fill="#000"/>
<rect x="675" y="463" width="3" height="1" fill="#000"/>
<rect x="675" y="459" width="3" height="1" fill="#000"/>
<rect x="675" y="455" width="3" height="1" fill="#000"/>
<rect x="675" y="452" width="7" height="1" fill="#000"/>
<text x="720" y="457.5" text-anchor="end" font-size="12" font-family="Liberation Sans, sans-serif" fill="#000" shape-rendering="auto">3.40</text>
<rect x="675" y="448" width="3" height="1" fill="#000"/>
<rect x="675" y="445" width="3" height="1" fill="#000"/>
<rect x="675" y="441" width="3" height="1" fill="#000"/>
<rect x="675" y="438" width="3" height="1" fill="#000"/>
<rect x="675" y="434" width="7" height="1" fill="#000"/>
<text x="720" y="439.5" text-anchor="end" font-size="12" font-family="Liberation Sans, sans-serif" fill="#000" shape-rendering="auto">3.45</text>
<rect x="675" y="431" width="3" height="1" fill="#000"/>
<rect x="675" y="428" width="3" height="1" fill="#000"/>
<rect x="675" y="424" width="3" height="1" fill="#000"/>
<rect x="675" y="421" width="3" height="1" fill="#000"/>
<rect x="675" y="417" width="7" height="1" fill="#000"/>
<text x="720" y="422.5" text-anchor="end" font-size="12" font-family="Liberation Sans, sans-serif" fill="#000" shape-rendering="auto">3.50</text>
<rect x="675" y="414" width="3" height="1" fill="#000"/>
<rect x="675" y="410" width="3" height="1" fill="#000"/>
<rect x="675" y="407" width="3" height="1" fill="#000"/>
<rect x="675" y="404" width="3" height="1" fill="#000"/>
<rect x="675" y="400" width="7" height="1" fill="#000"/>
<text x="720" y="405.5" text-anchor="end" font-size="12" font-family="Liberation Sans, sans-serif" fill="#000" shape-rendering="auto">3.55</text>
<rect x="675" y="397" width="3" height="1" fill="#000"/>
<rect x="675" y="394" width="3" height="1" fill="#000"/>
<rect x="675" y="390" width="3" height="1" fill="#000"/>
<rect x="675" y="387" width="3" height="1" fill="#000"/>
<rect x="675" y="384" width="7" height="1" fill="#000"/>
<text x="720" y="389.5" text-anchor="end" font-size="12" font-family="Liberation Sans, sans-serif" fill="#000" shape-rendering="auto">3.60</text>
<rect x="675" y="380" width="3" height="1" fill="#000"/>
<rect x="675" y="377" width="3" height="1" fill="#000"/>
<rect x="675" y="374" width="3" height="1" fill="#000"/>
<rect x="675" y="370" width="3" height="1" fill="#000"/>
<rect x="675" y="367" width="7" height="1" fill="#000"/>
<text x="720" y="372.5" text-anchor="end" font-size="12" font-family="Liberation Sans, sans-serif" fill="#000" shape-rendering="auto">3.65</text>
<rect x="675" y="364" width="3" height="1" fill="#000"/>
<rect x="675" y="361" width="3" height="1" fill="#000"/>
<rect x="675" y="357" width="3" height="1" fill="#000"/>
<rect x="675" y="354" width="3" height="1" fill="#000"/>
<rect x="675" y="351" width="7" height="1" fill="#000"/>
<text x="720" y="356.5" text-anchor="end" font-size="12" font-family="Liberation Sans, sans-serif" fill="#000" shape-rendering="auto">3.70</text>
<rect x="675" y="348" width="3" height="1" fill="#000"/>
<rect x="675" y="344" width="3" height="1" fill="#000"/>
<rect x="675" y="341" width="3" height="1" fill="#000"/>
<rect x="675" y="338" width="3" height="1" fill="#000"/>
<rect x="675" y="335" width="7" height="1" fill="#000"/>
<text x="720" y="340.5" text-anchor="end" font-size="12" font-family="Liberation Sans, sans-serif" fill="#000" shape-rendering="auto">3.75</text>
<rect x="675" y="332" width="3" height="1" fill="#000"/>
<rect x="675" y="328" width="3" height="1" fill="#000"/>
<rect x="675" y="325" width="3" height="1" fill="#000"/>
<rect x="675" y="322" width="3" height="1" fill="#000"/>
<rect x="675" y="319" width="7" height="1" fill="#000"/>
<text x="720" y="324.5" text-anchor="end" font-size="12" font-family="Liberation Sans, sans-serif" fill="#000" shape-rendering="auto">3.80</text>
<rect x="675" y="316" width="3" height="1" fill="#000"/>
<rect x="675" y="313" width="3" height="1" fill="#000"/>
<rect x="675" y="310" width="3" height="1" fill="#000"/>
<rect x="675" y="306" width="3" height="1" fill="#000"/>
<rect x="675" y="303" width="7" height="1" fill="#000"/>
<text x="720" y="308.5" text-anchor="end" font-size="12" font-family="Liberation Sans, sans-serif" fill="#000" shape-rendering="auto">3.85</text>
<rect x="675" y="300" width="3" height="1" fill="#000"/>
<rect x="675" y="297" width="3" height="1" fill="#000"/>
<rect x="675" y="294" width="3" height="1" fill="#000"/>
<rect x="675" y="291" width="3" height="1" fill="#000"/>
<rect x="675" y="288" width="7" height="1" fill="#000"/>
<text x="720" y="293.5" text-anchor="end" font-size="12" font-family="Liberation Sans, sans-serif" fill="#000" shape-rendering="auto">3.90</text>
<rect x="675" y="285" width="3" height="1" fill="#000"/>
<rect x="675" y="282" width="3" height="1" fill="#000"/>
<rect x="675" y="279" width="3" height="1" fill="#000"/>
<rect x="675" y="276" width="3" height="1" fill="#000"/>
<rect x="675" y="273" width="7" height="1" fill="#000"/>
<text x="720" y="278.5" text-anchor="end" font-size="12" font-family="Liberation Sans, sans-serif" fill="#000" shape-rendering="auto">3.95</text>
<rect x="675" y="270" width="3" height="1" fill="#000"/>
<rect x="675" y="267" width="3" height="1" fill="#000"/>
<rect x="675" y="264" width="3" height="1" fill="#000"/>
<rect x="675" y="261" width="3" height="1" fill="#000"/>
<rect x="675" y="258" width="7" height="1" fill="#000"/>
<text x="720" y="263.5" text-anchor="end" font-size="12" font-family="Liberation Sans, sans-serif" fill="#000" shape-rendering="auto">4.00</text>
<rect x="675" y="255" width="3" height="1" fill="#000"/>
<rect x="675" y="252" width="3" height="1" fill="#000"/>
<rect x="675" y="249" width="3" height="1" fill="#000"/>
<rect x="675" y="246" width="3" height="1" fill="#000"/>
<rect x="675" y="243" width="7" height="1" fill="#000"/>
<text x="720" y="248.5" text-anchor="end" font-size="12" font-family="Liberation Sans, sans-serif" fill="#000" shape-rendering="auto">4.05</text>
<rect x="675" y="240" width="3" height="1" fill="#000"/>
<rect x="675" y="237" width="3" height="1" fill="#000"/>
<rect x="675" y="234" width="3" height="1" fill="#000"/>
<rect x="675" y="231" width="3" height="1" fill="#000"/>
<rect x="675" y="228" width="7" height="1" fill="#000"/>
<text x="720" y="233.5" text-anchor="end" font-size="12" font-family="Liberation Sans, sans-serif" fill="#000" shape-rendering="auto">4.10</text>
<rect x="675" y="225" width="3" height="1" fill="#000"/>
<rect x="675" y="222" width="3" height="1" fill="#000"/>
<rect x="675" y="219" width="3" height="1" fill="#000"/>
<rect x="675" y="216" width="3" height="1" fill="#000"/>
<rect x="675" y="214" width="7" height="1" fill="#000"/>
<text x="720" y="219.5" text-anchor="end" font-size="12" font-family="Liberation Sans, sans-serif" fill="#000" shape-rendering="auto">4.15</text>
<rect x="675" y="211" width="3" height="1" fill="#000"/>
<rect x="675" y="208" width="3" height="1" fill="#000"/>
<rect x="675" y="205" width="3" height="1" fill="#000"/>
<rect x="675" y="202" width="3" height="1" fill="#000"/>
<rect x="675" y="199" width="7" height="1" fill="#000"/>
<text x="720" y="204.5" text-anchor="end" font-size="12" font-family="Liberation Sans, sans-serif" fill="#000" shape-rendering="auto">4.20</text>
<rect x="675" y="196" width="3" height="1" fill="#000"/>
<rect x="675" y="194" width="3" height="1" fill="#000"/>
<rect x="675" y="191" width="3" height="1" fill="#000"/>
<rect x="675" y="188" width="3" height="1" fill="#000"/>
<rect x="675" y="185" width="7" height="1" fill="#000"/>
<text x="720" y="190.5" text-anchor="end" font-size="12" font-family="Liberation Sans, sans-serif" fill="#000" shape-rendering="auto">4.25</text>
<rect x="675" y="182" width="3" height="1" fill="#000"/>
<rect x="675" y="179" width="3" height="1" fill="#000"/>
<rect x="675" y="177" width="3" height="1" fill="#000"/>
<rect x="675" y="174" width="3" height="1" fill="#000"/>
<rect x="675" y="171" width="7" height="1" fill="#000"/>
<text x="720" y="176.5" text-anchor="end" font-size="12" font-family="Liberation Sans, sans-serif" fill="#000" shape-rendering="auto">4.30</text>
<rect x="675" y="168" width="3" height="1" fill="#000"/>
<rect x="675" y="166" width="3" height="1" fill="#000"/>
<rect x="675" y="163" width="3" height="1" fill="#000"/>
<rect x="675" y="160" width="3" height="1" fill="#000"/>
<rect x="675" y="157" width="7" height="1" fill="#000"/>
<text x="720" y="162.5" text-anchor="end" font-size="12" font-family="Liberation Sans, sans-serif" fill="#000" shape-rendering="auto">4.35</text>
<rect x="675" y="155" width="3" height="1" fill="#000"/>
<rect x="675" y="152" width="3" height="1" fill="#000"/>
<rect x="675" y="149" width="3" height="1" fill="#000"/>
<rect x="675" y="146" width="3" height="1" fill="#000"/>
<rect x="675" y="144" width="7" height="1" fill="#000"/>
<text x="720" y="149.5" text-anchor="end" font-size="12" font-family="Liberation Sans, sans-serif" fill="#000" shape-rendering="auto">4.40</text>
<rect x="675" y="141" width="3" height="1" fill="#000"/>
<rect x="675" y="138" width="3" height="1" fill="#000"/>
<rect x="675" y="135" width="3" height="1" fill="#000"/>
<rect x="675" y="133" width="3" height="1" fill="#000"/>
<rect x="675" y="130" width="7" height="1" fill="#000"/>
<text x="720" y="135.5" text-anchor="end" font-size="12" font-family="Liberation Sans, sans-serif" fill="#000" shape-rendering="auto">4.45</text>
<rect x="675" y="127" width="3" height="1" fill="#000"/>
<rect x="675" y="125" width="3" height="1" fill="#000"/>
<rect x="675" y="122" width="3" height="1" fill="#000"/>
<rect x="675" y="119" width="3" height="1" fill="#000"/>
<rect x="675" y="708" width="3" height="1" fill="#000"/>
<rect x="675" y="704" width="3" height="1" fill="#000"/>
<rect x="675" y="699" width="3" height="1" fill="#000"/>
<rect x="675" y="695" width="3" height="1" fill="#000"/>
<rect x="675" y="691" width="7" height="1" fill="#000"/>
<text x="719" y="697" text-anchor="end" font-size="12" font-family="Liberation Sans, sans-serif" fill="#000" shape-rendering="auto">5000</text>
<rect x="675" y="687" width="3" height="1" fill="#000"/>
<rect x="675" y="683" width="3" height="1" fill="#000"/>
<rect x="675" y="679" width="3" height="1" fill="#000"/>
<rect x="675" y="675" width="3" height="1" fill="#000"/>
<rect x="675" y="671" width="7" height="1" fill="#000"/>
<text x="719" y="677" text-anchor="end" font-size="12" font-family="Liberation Sans, sans-serif" fill="#000" shape-rendering="auto">10000</text>
<rect x="675" y="667" width="3" height="1" fill="#000"/>
<rect x="675" y="663" width="3" height="1" fill="#000"/>
<rect x="675" y="659" width="3" height="1" fill="#000"/>
<rect x="675" y="654" width="3" height="1" fill="#000"/>
<rect x="675" y="650" width="7" height="1" fill="#000"/>
<text x="719" y="656" text-anchor="end" font-size="12" font-family="Liberation Sans, sans-serif" fill="#000" shape-rendering="auto">15000</text>
<rect x="675" y="646" width="3" height="1" fill="#000"/>
<rect x="675" y="642" width="3" height="1" fill="#000"/>
<rect x="675" y="638" width="3" height="1" fill="#000"/>
<rect x="675" y="634" width="3" height="1" fill="#000"/>
<rect x="674" y="700" width="25" height="1" fill="#000"/>
<rect x="698" y="700" width="1" height="13" fill="#000"/>
<rect x="676" y="700" width="1" height="13" fill="#000"/>
<text x="678" y="710" font-size="10" font-family="Liberation Sans, sans-serif" fill="#000" textLength="18" lengthAdjust="spacingAndGlyphs" shape-rendering="auto">x100</text>
<rect x="1" y="714" width="1" height="4" fill="#000"/>
<rect x="23" y="714" width="1" height="4" fill="#000"/>
<rect x="45" y="714" width="1" height="4" fill="#000"/>
<rect x="67" y="714" width="1" height="4" fill="#000"/>
<rect x="89" y="714" width="1" height="4" fill="#000"/>
<rect x="111" y="714" width="1" height="4" fill="#000"/>
<rect x="134" y="714" width="1" height="4" fill="#000"/>
<rect x="156" y="714" width="1" height="4" fill="#000"/>
<rect x="178" y="714" width="1" height="4" fill="#000"/>
<rect x="200" y="714" width="1" height="4" fill="#000"/>
<rect x="222" y="714" width="1" height="4" fill="#000"/>
<rect x="244" y="714" width="1" height="4" fill="#000"/>
<rect x="266" y="714" width="1" height="4" fill="#000"/>
<rect x="288" y="714" width="1" height="4" fill="#000"/>
<rect x="310" y="714" width="1" height="4" fill="#000"/>
<rect x="332" y="714" width="1" height="4" fill="#000"/>
<rect x="354" y="714" width="1" height="4" fill="#000"/>
<rect x="376" y="714" width="1" height="4" fill="#000"/>
<rect x="398" y="714" width="1" height="4" fill="#000"/>
<rect x="420" y="714" width="1" height="4" fill="#000"/>
<rect x="442" y="714" width="1" height="4" fill="#000"/>
<rect x="464" y="714" width="1" height="4" fill="#000"/>
<rect x="486" y="714" width="1" height="4" fill="#000"/>
<rect x="508" y="714" width="1" height="4" fill="#000"/>
<rect x="530" y="714" width="1" height="4" fill="#000"/>
<rect x="552" y="714" width="1" height="4" fill="#000"/>
<rect x="574" y="714" width="1" height="4" fill="#000"/>
<rect x="596" y="714" width="1" height="4" fill="#000"/>
<rect x="618" y="714" width="1" height="4" fill="#000"/>
<rect x="640" y="714" width="1" height="4" fill="#000"/>
<rect x="662" y="714" width="1" height="4" fill="#000"/>
<rect x="23" y="714" width="1" height="17" fill="#000"/>
<text x="25.5" y="728" font-size="12" font-family="Liberation Sans, sans-serif" fill="#000" textLength="37" lengthAdjust="spacingAndGlyphs" shape-rendering="auto">August</text>
<rect x="120" y="714" width="1" height="17" fill="#000"/>
<text x="122.5" y="728" font-size="12" font-family="Liberation Sans, sans-serif" fill="#000" textLength="58.8" lengthAdjust="spacingAndGlyphs" shape-rendering="auto">September</text>
<rect x="217" y="714" width="1" height="17" fill="#000"/>
<text x="219.5" y="728" font-size="12" font-family="Liberation Sans, sans-serif" fill="#000" textLength="40.8" lengthAdjust="spacingAndGlyphs" shape-rendering="auto">October</text>
<rect x="310" y="714" width="1" height="17" fill="#000"/>
<text x="312.5" y="728" font-size="12" font-family="Liberation Sans, sans-serif" fill="#000" textLength="52" lengthAdjust="spacingAndGlyphs" shape-rendering="auto">November</text>
<rect x="407" y="714" width="1" height="17" fill="#000"/>
<text x="409.5" y="728" font-size="12" font-family="Liberation Sans, sans-serif" fill="#000" textLength="56" lengthAdjust="spacingAndGlyphs" shape-rendering="auto">December</text>
<rect x="508" y="714" width="1" height="17" fill="#000"/>
<text x="510.5" y="728" font-size="12" font-family="Liberation Sans, sans-serif" fill="#000" textLength="25.6" lengthAdjust="spacingAndGlyphs" shape-rendering="auto">2005</text>
<rect x="601" y="714" width="1" height="17" fill="#000"/>
<text x="603.5" y="728" font-size="12" font-family="Liberation Sans, sans-serif" fill="#000" textLength="45" lengthAdjust="spacingAndGlyphs" shape-rendering="auto">February</text>
<text x="175.5" y="125" font-size="12" font-family="Liberation Sans, sans-serif" fill="#000" textLength="323" lengthAdjust="spacingAndGlyphs" shape-rendering="auto">SONAE.COM (4.16000, 4.24000, 4.15000, 4.24000, +0.08000)</text>
<text x="252" y="14.3" font-size="12" font-family="Liberation Sans, sans-serif" fill="#000" textLength="171" lengthAdjust="spacingAndGlyphs" stroke="#000" stroke-width="0.35" shape-rendering="auto">Relative Strength Index (14, 53.71040)</text>
<text x="246.5" y="14.3" font-size="12" font-family="Liberation Sans, sans-serif" fill="#000" textLength="181.5" lengthAdjust="spacingAndGlyphs" stroke="#000" stroke-width="0.35" shape-rendering="auto">Overbought Oversold (70.000, 50.000)</text>
<text x="188.5" y="332.8" font-size="13" font-family="Liberation Sans, sans-serif" fill="#0000ff" textLength="131.6" lengthAdjust="spacingAndGlyphs" shape-rendering="auto">possível bandeira de alta</text>
<text x="56.5" y="470.6" font-size="12" font-family="Liberation Sans, sans-serif" fill="#777" shape-rendering="auto">3,32€</text>
</svg>
</body></html>
